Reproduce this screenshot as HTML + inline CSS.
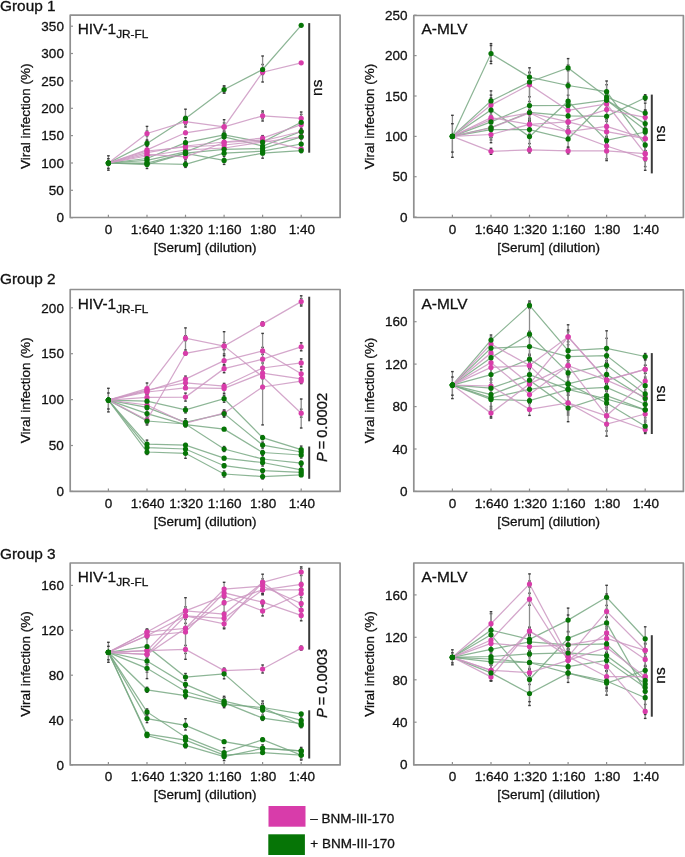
<!DOCTYPE html><html><head><meta charset="utf-8"><style>
html,body{margin:0;padding:0;background:#fff;}
svg{display:block;will-change:transform;}
.t{font-family:"Liberation Sans",sans-serif;font-size:13.5px;fill:#111;stroke:#111;stroke-width:0.3px;}
.h{font-family:"Liberation Sans",sans-serif;font-size:15.4px;fill:#111;stroke:#111;stroke-width:0.3px;}
.s{font-size:11.8px;}
.ns{font-family:"Liberation Sans",sans-serif;font-size:15.5px;fill:#111;stroke:#111;stroke-width:0.3px;}
.pv{font-family:"Liberation Sans",sans-serif;font-size:14.7px;fill:#111;stroke:#111;stroke-width:0.3px;}
</style></head><body><svg width="685" height="857" viewBox="0 0 685 857">
<rect width="685" height="857" fill="#fff"/>
<polyline points="108.4,163.0 147.0,143.4 185.5,118.4 224.1,89.5 262.6,69.5 301.2,25.3" fill="none" stroke="#78a883" stroke-width="1.25" stroke-opacity="0.85"/>
<polyline points="108.4,163.0 147.0,158.5 185.5,142.7 224.1,134.8 262.6,142.0 301.2,122.3" fill="none" stroke="#78a883" stroke-width="1.25" stroke-opacity="0.85"/>
<polyline points="108.4,163.0 147.0,160.4 185.5,151.9 224.1,136.8 262.6,146.0 301.2,131.5" fill="none" stroke="#78a883" stroke-width="1.25" stroke-opacity="0.85"/>
<polyline points="108.4,163.0 147.0,163.0 185.5,153.2 224.1,149.3 262.6,148.6 301.2,136.8" fill="none" stroke="#78a883" stroke-width="1.25" stroke-opacity="0.85"/>
<polyline points="108.4,163.0 147.0,163.5 185.5,164.4 224.1,153.2 262.6,151.2 301.2,144.0" fill="none" stroke="#78a883" stroke-width="1.25" stroke-opacity="0.85"/>
<polyline points="108.4,163.0 147.0,164.5 185.5,153.5 224.1,160.4 262.6,153.2 301.2,150.6" fill="none" stroke="#78a883" stroke-width="1.25" stroke-opacity="0.85"/>
<polyline points="108.4,163.0 147.0,149.9 185.5,132.8 224.1,126.9 262.6,72.2 301.2,62.8" fill="none" stroke="#cc98c2" stroke-width="1.25" stroke-opacity="0.85"/>
<polyline points="108.4,163.0 147.0,133.5 185.5,121.7 224.1,126.9 262.6,115.8 301.2,118.4" fill="none" stroke="#cc98c2" stroke-width="1.25" stroke-opacity="0.85"/>
<polyline points="108.4,163.0 147.0,152.6 185.5,146.0 224.1,142.0 262.6,138.1 301.2,124.7" fill="none" stroke="#cc98c2" stroke-width="1.25" stroke-opacity="0.85"/>
<polyline points="108.4,163.0 147.0,154.5 185.5,156.8 224.1,142.5 262.6,140.0 301.2,148.8" fill="none" stroke="#cc98c2" stroke-width="1.25" stroke-opacity="0.85"/>
<polyline points="108.4,163.0 147.0,151.0 185.5,147.0 224.1,145.0 262.6,141.0 301.2,131.5" fill="none" stroke="#cc98c2" stroke-width="1.25" stroke-opacity="0.85"/>
<polyline points="108.4,163.0 147.0,156.0 185.5,150.0 224.1,148.0 262.6,142.0 301.2,136.8" fill="none" stroke="#cc98c2" stroke-width="1.25" stroke-opacity="0.85"/>
<line x1="147.0" y1="140.9" x2="147.0" y2="145.9" stroke="#8c8c8c" stroke-width="1.3"/>
<line x1="145.7" y1="140.9" x2="148.3" y2="140.9" stroke="#3c3c3c" stroke-width="1.4"/>
<line x1="145.7" y1="145.9" x2="148.3" y2="145.9" stroke="#3c3c3c" stroke-width="1.4"/>
<line x1="185.5" y1="116.4" x2="185.5" y2="120.4" stroke="#8c8c8c" stroke-width="1.3"/>
<line x1="184.2" y1="116.4" x2="186.8" y2="116.4" stroke="#3c3c3c" stroke-width="1.4"/>
<line x1="184.2" y1="120.4" x2="186.8" y2="120.4" stroke="#3c3c3c" stroke-width="1.4"/>
<line x1="224.1" y1="86.0" x2="224.1" y2="93.0" stroke="#8c8c8c" stroke-width="1.3"/>
<line x1="222.8" y1="86.0" x2="225.4" y2="86.0" stroke="#3c3c3c" stroke-width="1.4"/>
<line x1="222.8" y1="93.0" x2="225.4" y2="93.0" stroke="#3c3c3c" stroke-width="1.4"/>
<line x1="262.6" y1="64.5" x2="262.6" y2="74.5" stroke="#8c8c8c" stroke-width="1.3"/>
<line x1="261.3" y1="64.5" x2="263.9" y2="64.5" stroke="#3c3c3c" stroke-width="1.4"/>
<line x1="261.3" y1="74.5" x2="263.9" y2="74.5" stroke="#3c3c3c" stroke-width="1.4"/>
<line x1="147.0" y1="157.5" x2="147.0" y2="159.5" stroke="#8c8c8c" stroke-width="1.3"/>
<line x1="145.7" y1="157.5" x2="148.3" y2="157.5" stroke="#3c3c3c" stroke-width="1.4"/>
<line x1="145.7" y1="159.5" x2="148.3" y2="159.5" stroke="#3c3c3c" stroke-width="1.4"/>
<line x1="185.5" y1="137.7" x2="185.5" y2="147.7" stroke="#8c8c8c" stroke-width="1.3"/>
<line x1="184.2" y1="137.7" x2="186.8" y2="137.7" stroke="#3c3c3c" stroke-width="1.4"/>
<line x1="184.2" y1="147.7" x2="186.8" y2="147.7" stroke="#3c3c3c" stroke-width="1.4"/>
<line x1="224.1" y1="131.8" x2="224.1" y2="137.8" stroke="#8c8c8c" stroke-width="1.3"/>
<line x1="222.8" y1="131.8" x2="225.4" y2="131.8" stroke="#3c3c3c" stroke-width="1.4"/>
<line x1="222.8" y1="137.8" x2="225.4" y2="137.8" stroke="#3c3c3c" stroke-width="1.4"/>
<line x1="262.6" y1="139.5" x2="262.6" y2="144.5" stroke="#8c8c8c" stroke-width="1.3"/>
<line x1="261.3" y1="139.5" x2="263.9" y2="139.5" stroke="#3c3c3c" stroke-width="1.4"/>
<line x1="261.3" y1="144.5" x2="263.9" y2="144.5" stroke="#3c3c3c" stroke-width="1.4"/>
<line x1="301.2" y1="119.8" x2="301.2" y2="124.8" stroke="#8c8c8c" stroke-width="1.3"/>
<line x1="299.9" y1="119.8" x2="302.5" y2="119.8" stroke="#3c3c3c" stroke-width="1.4"/>
<line x1="299.9" y1="124.8" x2="302.5" y2="124.8" stroke="#3c3c3c" stroke-width="1.4"/>
<line x1="147.0" y1="155.4" x2="147.0" y2="165.4" stroke="#8c8c8c" stroke-width="1.3"/>
<line x1="145.7" y1="155.4" x2="148.3" y2="155.4" stroke="#3c3c3c" stroke-width="1.4"/>
<line x1="145.7" y1="165.4" x2="148.3" y2="165.4" stroke="#3c3c3c" stroke-width="1.4"/>
<line x1="185.5" y1="146.9" x2="185.5" y2="156.9" stroke="#8c8c8c" stroke-width="1.3"/>
<line x1="184.2" y1="146.9" x2="186.8" y2="146.9" stroke="#3c3c3c" stroke-width="1.4"/>
<line x1="184.2" y1="156.9" x2="186.8" y2="156.9" stroke="#3c3c3c" stroke-width="1.4"/>
<line x1="224.1" y1="132.8" x2="224.1" y2="140.8" stroke="#8c8c8c" stroke-width="1.3"/>
<line x1="222.8" y1="132.8" x2="225.4" y2="132.8" stroke="#3c3c3c" stroke-width="1.4"/>
<line x1="222.8" y1="140.8" x2="225.4" y2="140.8" stroke="#3c3c3c" stroke-width="1.4"/>
<line x1="262.6" y1="144.0" x2="262.6" y2="148.0" stroke="#8c8c8c" stroke-width="1.3"/>
<line x1="261.3" y1="144.0" x2="263.9" y2="144.0" stroke="#3c3c3c" stroke-width="1.4"/>
<line x1="261.3" y1="148.0" x2="263.9" y2="148.0" stroke="#3c3c3c" stroke-width="1.4"/>
<line x1="301.2" y1="129.0" x2="301.2" y2="134.0" stroke="#8c8c8c" stroke-width="1.3"/>
<line x1="299.9" y1="129.0" x2="302.5" y2="129.0" stroke="#3c3c3c" stroke-width="1.4"/>
<line x1="299.9" y1="134.0" x2="302.5" y2="134.0" stroke="#3c3c3c" stroke-width="1.4"/>
<line x1="147.0" y1="161.0" x2="147.0" y2="165.0" stroke="#8c8c8c" stroke-width="1.3"/>
<line x1="145.7" y1="161.0" x2="148.3" y2="161.0" stroke="#3c3c3c" stroke-width="1.4"/>
<line x1="145.7" y1="165.0" x2="148.3" y2="165.0" stroke="#3c3c3c" stroke-width="1.4"/>
<line x1="185.5" y1="149.2" x2="185.5" y2="157.2" stroke="#8c8c8c" stroke-width="1.3"/>
<line x1="184.2" y1="149.2" x2="186.8" y2="149.2" stroke="#3c3c3c" stroke-width="1.4"/>
<line x1="184.2" y1="157.2" x2="186.8" y2="157.2" stroke="#3c3c3c" stroke-width="1.4"/>
<line x1="224.1" y1="148.3" x2="224.1" y2="150.3" stroke="#8c8c8c" stroke-width="1.3"/>
<line x1="222.8" y1="148.3" x2="225.4" y2="148.3" stroke="#3c3c3c" stroke-width="1.4"/>
<line x1="222.8" y1="150.3" x2="225.4" y2="150.3" stroke="#3c3c3c" stroke-width="1.4"/>
<line x1="262.6" y1="147.1" x2="262.6" y2="150.1" stroke="#8c8c8c" stroke-width="1.3"/>
<line x1="261.3" y1="147.1" x2="263.9" y2="147.1" stroke="#3c3c3c" stroke-width="1.4"/>
<line x1="261.3" y1="150.1" x2="263.9" y2="150.1" stroke="#3c3c3c" stroke-width="1.4"/>
<line x1="301.2" y1="134.8" x2="301.2" y2="138.8" stroke="#8c8c8c" stroke-width="1.3"/>
<line x1="299.9" y1="134.8" x2="302.5" y2="134.8" stroke="#3c3c3c" stroke-width="1.4"/>
<line x1="299.9" y1="138.8" x2="302.5" y2="138.8" stroke="#3c3c3c" stroke-width="1.4"/>
<line x1="147.0" y1="162.5" x2="147.0" y2="164.5" stroke="#8c8c8c" stroke-width="1.3"/>
<line x1="145.7" y1="162.5" x2="148.3" y2="162.5" stroke="#3c3c3c" stroke-width="1.4"/>
<line x1="145.7" y1="164.5" x2="148.3" y2="164.5" stroke="#3c3c3c" stroke-width="1.4"/>
<line x1="185.5" y1="161.4" x2="185.5" y2="167.4" stroke="#8c8c8c" stroke-width="1.3"/>
<line x1="184.2" y1="161.4" x2="186.8" y2="161.4" stroke="#3c3c3c" stroke-width="1.4"/>
<line x1="184.2" y1="167.4" x2="186.8" y2="167.4" stroke="#3c3c3c" stroke-width="1.4"/>
<line x1="224.1" y1="152.2" x2="224.1" y2="154.2" stroke="#8c8c8c" stroke-width="1.3"/>
<line x1="222.8" y1="152.2" x2="225.4" y2="152.2" stroke="#3c3c3c" stroke-width="1.4"/>
<line x1="222.8" y1="154.2" x2="225.4" y2="154.2" stroke="#3c3c3c" stroke-width="1.4"/>
<line x1="262.6" y1="148.2" x2="262.6" y2="154.2" stroke="#8c8c8c" stroke-width="1.3"/>
<line x1="261.3" y1="148.2" x2="263.9" y2="148.2" stroke="#3c3c3c" stroke-width="1.4"/>
<line x1="261.3" y1="154.2" x2="263.9" y2="154.2" stroke="#3c3c3c" stroke-width="1.4"/>
<line x1="301.2" y1="139.0" x2="301.2" y2="149.0" stroke="#8c8c8c" stroke-width="1.3"/>
<line x1="299.9" y1="139.0" x2="302.5" y2="139.0" stroke="#3c3c3c" stroke-width="1.4"/>
<line x1="299.9" y1="149.0" x2="302.5" y2="149.0" stroke="#3c3c3c" stroke-width="1.4"/>
<line x1="147.0" y1="160.5" x2="147.0" y2="168.5" stroke="#8c8c8c" stroke-width="1.3"/>
<line x1="145.7" y1="160.5" x2="148.3" y2="160.5" stroke="#3c3c3c" stroke-width="1.4"/>
<line x1="145.7" y1="168.5" x2="148.3" y2="168.5" stroke="#3c3c3c" stroke-width="1.4"/>
<line x1="185.5" y1="149.5" x2="185.5" y2="157.5" stroke="#8c8c8c" stroke-width="1.3"/>
<line x1="184.2" y1="149.5" x2="186.8" y2="149.5" stroke="#3c3c3c" stroke-width="1.4"/>
<line x1="184.2" y1="157.5" x2="186.8" y2="157.5" stroke="#3c3c3c" stroke-width="1.4"/>
<line x1="224.1" y1="156.4" x2="224.1" y2="164.4" stroke="#8c8c8c" stroke-width="1.3"/>
<line x1="222.8" y1="156.4" x2="225.4" y2="156.4" stroke="#3c3c3c" stroke-width="1.4"/>
<line x1="222.8" y1="164.4" x2="225.4" y2="164.4" stroke="#3c3c3c" stroke-width="1.4"/>
<line x1="262.6" y1="148.2" x2="262.6" y2="158.2" stroke="#8c8c8c" stroke-width="1.3"/>
<line x1="261.3" y1="148.2" x2="263.9" y2="148.2" stroke="#3c3c3c" stroke-width="1.4"/>
<line x1="261.3" y1="158.2" x2="263.9" y2="158.2" stroke="#3c3c3c" stroke-width="1.4"/>
<line x1="301.2" y1="148.6" x2="301.2" y2="152.6" stroke="#8c8c8c" stroke-width="1.3"/>
<line x1="299.9" y1="148.6" x2="302.5" y2="148.6" stroke="#3c3c3c" stroke-width="1.4"/>
<line x1="299.9" y1="152.6" x2="302.5" y2="152.6" stroke="#3c3c3c" stroke-width="1.4"/>
<line x1="147.0" y1="146.4" x2="147.0" y2="153.4" stroke="#8c8c8c" stroke-width="1.3"/>
<line x1="145.7" y1="146.4" x2="148.3" y2="146.4" stroke="#3c3c3c" stroke-width="1.4"/>
<line x1="145.7" y1="153.4" x2="148.3" y2="153.4" stroke="#3c3c3c" stroke-width="1.4"/>
<line x1="185.5" y1="131.3" x2="185.5" y2="134.3" stroke="#8c8c8c" stroke-width="1.3"/>
<line x1="184.2" y1="131.3" x2="186.8" y2="131.3" stroke="#3c3c3c" stroke-width="1.4"/>
<line x1="184.2" y1="134.3" x2="186.8" y2="134.3" stroke="#3c3c3c" stroke-width="1.4"/>
<line x1="224.1" y1="125.9" x2="224.1" y2="127.9" stroke="#8c8c8c" stroke-width="1.3"/>
<line x1="222.8" y1="125.9" x2="225.4" y2="125.9" stroke="#3c3c3c" stroke-width="1.4"/>
<line x1="222.8" y1="127.9" x2="225.4" y2="127.9" stroke="#3c3c3c" stroke-width="1.4"/>
<line x1="262.6" y1="70.2" x2="262.6" y2="74.2" stroke="#8c8c8c" stroke-width="1.3"/>
<line x1="261.3" y1="70.2" x2="263.9" y2="70.2" stroke="#3c3c3c" stroke-width="1.4"/>
<line x1="261.3" y1="74.2" x2="263.9" y2="74.2" stroke="#3c3c3c" stroke-width="1.4"/>
<line x1="147.0" y1="131.0" x2="147.0" y2="136.0" stroke="#8c8c8c" stroke-width="1.3"/>
<line x1="145.7" y1="131.0" x2="148.3" y2="131.0" stroke="#3c3c3c" stroke-width="1.4"/>
<line x1="145.7" y1="136.0" x2="148.3" y2="136.0" stroke="#3c3c3c" stroke-width="1.4"/>
<line x1="185.5" y1="118.7" x2="185.5" y2="124.7" stroke="#8c8c8c" stroke-width="1.3"/>
<line x1="184.2" y1="118.7" x2="186.8" y2="118.7" stroke="#3c3c3c" stroke-width="1.4"/>
<line x1="184.2" y1="124.7" x2="186.8" y2="124.7" stroke="#3c3c3c" stroke-width="1.4"/>
<line x1="224.1" y1="122.9" x2="224.1" y2="130.9" stroke="#8c8c8c" stroke-width="1.3"/>
<line x1="222.8" y1="122.9" x2="225.4" y2="122.9" stroke="#3c3c3c" stroke-width="1.4"/>
<line x1="222.8" y1="130.9" x2="225.4" y2="130.9" stroke="#3c3c3c" stroke-width="1.4"/>
<line x1="262.6" y1="112.8" x2="262.6" y2="118.8" stroke="#8c8c8c" stroke-width="1.3"/>
<line x1="261.3" y1="112.8" x2="263.9" y2="112.8" stroke="#3c3c3c" stroke-width="1.4"/>
<line x1="261.3" y1="118.8" x2="263.9" y2="118.8" stroke="#3c3c3c" stroke-width="1.4"/>
<line x1="301.2" y1="114.4" x2="301.2" y2="122.4" stroke="#8c8c8c" stroke-width="1.3"/>
<line x1="299.9" y1="114.4" x2="302.5" y2="114.4" stroke="#3c3c3c" stroke-width="1.4"/>
<line x1="299.9" y1="122.4" x2="302.5" y2="122.4" stroke="#3c3c3c" stroke-width="1.4"/>
<line x1="147.0" y1="148.6" x2="147.0" y2="156.6" stroke="#8c8c8c" stroke-width="1.3"/>
<line x1="145.7" y1="148.6" x2="148.3" y2="148.6" stroke="#3c3c3c" stroke-width="1.4"/>
<line x1="145.7" y1="156.6" x2="148.3" y2="156.6" stroke="#3c3c3c" stroke-width="1.4"/>
<line x1="185.5" y1="142.5" x2="185.5" y2="149.5" stroke="#8c8c8c" stroke-width="1.3"/>
<line x1="184.2" y1="142.5" x2="186.8" y2="142.5" stroke="#3c3c3c" stroke-width="1.4"/>
<line x1="184.2" y1="149.5" x2="186.8" y2="149.5" stroke="#3c3c3c" stroke-width="1.4"/>
<line x1="224.1" y1="138.0" x2="224.1" y2="146.0" stroke="#8c8c8c" stroke-width="1.3"/>
<line x1="222.8" y1="138.0" x2="225.4" y2="138.0" stroke="#3c3c3c" stroke-width="1.4"/>
<line x1="222.8" y1="146.0" x2="225.4" y2="146.0" stroke="#3c3c3c" stroke-width="1.4"/>
<line x1="262.6" y1="135.6" x2="262.6" y2="140.6" stroke="#8c8c8c" stroke-width="1.3"/>
<line x1="261.3" y1="135.6" x2="263.9" y2="135.6" stroke="#3c3c3c" stroke-width="1.4"/>
<line x1="261.3" y1="140.6" x2="263.9" y2="140.6" stroke="#3c3c3c" stroke-width="1.4"/>
<line x1="301.2" y1="121.2" x2="301.2" y2="128.2" stroke="#8c8c8c" stroke-width="1.3"/>
<line x1="299.9" y1="121.2" x2="302.5" y2="121.2" stroke="#3c3c3c" stroke-width="1.4"/>
<line x1="299.9" y1="128.2" x2="302.5" y2="128.2" stroke="#3c3c3c" stroke-width="1.4"/>
<line x1="147.0" y1="153.5" x2="147.0" y2="155.5" stroke="#8c8c8c" stroke-width="1.3"/>
<line x1="145.7" y1="153.5" x2="148.3" y2="153.5" stroke="#3c3c3c" stroke-width="1.4"/>
<line x1="145.7" y1="155.5" x2="148.3" y2="155.5" stroke="#3c3c3c" stroke-width="1.4"/>
<line x1="185.5" y1="153.8" x2="185.5" y2="159.8" stroke="#8c8c8c" stroke-width="1.3"/>
<line x1="184.2" y1="153.8" x2="186.8" y2="153.8" stroke="#3c3c3c" stroke-width="1.4"/>
<line x1="184.2" y1="159.8" x2="186.8" y2="159.8" stroke="#3c3c3c" stroke-width="1.4"/>
<line x1="224.1" y1="140.5" x2="224.1" y2="144.5" stroke="#8c8c8c" stroke-width="1.3"/>
<line x1="222.8" y1="140.5" x2="225.4" y2="140.5" stroke="#3c3c3c" stroke-width="1.4"/>
<line x1="222.8" y1="144.5" x2="225.4" y2="144.5" stroke="#3c3c3c" stroke-width="1.4"/>
<line x1="262.6" y1="136.5" x2="262.6" y2="143.5" stroke="#8c8c8c" stroke-width="1.3"/>
<line x1="261.3" y1="136.5" x2="263.9" y2="136.5" stroke="#3c3c3c" stroke-width="1.4"/>
<line x1="261.3" y1="143.5" x2="263.9" y2="143.5" stroke="#3c3c3c" stroke-width="1.4"/>
<line x1="301.2" y1="147.3" x2="301.2" y2="150.3" stroke="#8c8c8c" stroke-width="1.3"/>
<line x1="299.9" y1="147.3" x2="302.5" y2="147.3" stroke="#3c3c3c" stroke-width="1.4"/>
<line x1="299.9" y1="150.3" x2="302.5" y2="150.3" stroke="#3c3c3c" stroke-width="1.4"/>
<line x1="147.0" y1="148.5" x2="147.0" y2="153.5" stroke="#8c8c8c" stroke-width="1.3"/>
<line x1="145.7" y1="148.5" x2="148.3" y2="148.5" stroke="#3c3c3c" stroke-width="1.4"/>
<line x1="145.7" y1="153.5" x2="148.3" y2="153.5" stroke="#3c3c3c" stroke-width="1.4"/>
<line x1="185.5" y1="144.0" x2="185.5" y2="150.0" stroke="#8c8c8c" stroke-width="1.3"/>
<line x1="184.2" y1="144.0" x2="186.8" y2="144.0" stroke="#3c3c3c" stroke-width="1.4"/>
<line x1="184.2" y1="150.0" x2="186.8" y2="150.0" stroke="#3c3c3c" stroke-width="1.4"/>
<line x1="224.1" y1="142.0" x2="224.1" y2="148.0" stroke="#8c8c8c" stroke-width="1.3"/>
<line x1="222.8" y1="142.0" x2="225.4" y2="142.0" stroke="#3c3c3c" stroke-width="1.4"/>
<line x1="222.8" y1="148.0" x2="225.4" y2="148.0" stroke="#3c3c3c" stroke-width="1.4"/>
<line x1="262.6" y1="139.5" x2="262.6" y2="142.5" stroke="#8c8c8c" stroke-width="1.3"/>
<line x1="261.3" y1="139.5" x2="263.9" y2="139.5" stroke="#3c3c3c" stroke-width="1.4"/>
<line x1="261.3" y1="142.5" x2="263.9" y2="142.5" stroke="#3c3c3c" stroke-width="1.4"/>
<line x1="301.2" y1="130.0" x2="301.2" y2="133.0" stroke="#8c8c8c" stroke-width="1.3"/>
<line x1="299.9" y1="130.0" x2="302.5" y2="130.0" stroke="#3c3c3c" stroke-width="1.4"/>
<line x1="299.9" y1="133.0" x2="302.5" y2="133.0" stroke="#3c3c3c" stroke-width="1.4"/>
<line x1="147.0" y1="151.0" x2="147.0" y2="161.0" stroke="#8c8c8c" stroke-width="1.3"/>
<line x1="145.7" y1="151.0" x2="148.3" y2="151.0" stroke="#3c3c3c" stroke-width="1.4"/>
<line x1="145.7" y1="161.0" x2="148.3" y2="161.0" stroke="#3c3c3c" stroke-width="1.4"/>
<line x1="185.5" y1="145.0" x2="185.5" y2="155.0" stroke="#8c8c8c" stroke-width="1.3"/>
<line x1="184.2" y1="145.0" x2="186.8" y2="145.0" stroke="#3c3c3c" stroke-width="1.4"/>
<line x1="184.2" y1="155.0" x2="186.8" y2="155.0" stroke="#3c3c3c" stroke-width="1.4"/>
<line x1="224.1" y1="146.5" x2="224.1" y2="149.5" stroke="#8c8c8c" stroke-width="1.3"/>
<line x1="222.8" y1="146.5" x2="225.4" y2="146.5" stroke="#3c3c3c" stroke-width="1.4"/>
<line x1="222.8" y1="149.5" x2="225.4" y2="149.5" stroke="#3c3c3c" stroke-width="1.4"/>
<line x1="262.6" y1="138.5" x2="262.6" y2="145.5" stroke="#8c8c8c" stroke-width="1.3"/>
<line x1="261.3" y1="138.5" x2="263.9" y2="138.5" stroke="#3c3c3c" stroke-width="1.4"/>
<line x1="261.3" y1="145.5" x2="263.9" y2="145.5" stroke="#3c3c3c" stroke-width="1.4"/>
<line x1="301.2" y1="135.3" x2="301.2" y2="138.3" stroke="#8c8c8c" stroke-width="1.3"/>
<line x1="299.9" y1="135.3" x2="302.5" y2="135.3" stroke="#3c3c3c" stroke-width="1.4"/>
<line x1="299.9" y1="138.3" x2="302.5" y2="138.3" stroke="#3c3c3c" stroke-width="1.4"/>
<line x1="262.6" y1="56.0" x2="262.6" y2="82.0" stroke="#8c8c8c" stroke-width="1.3"/>
<line x1="261.3" y1="56.0" x2="263.9" y2="56.0" stroke="#3c3c3c" stroke-width="1.4"/>
<line x1="261.3" y1="82.0" x2="263.9" y2="82.0" stroke="#3c3c3c" stroke-width="1.4"/>
<line x1="147.0" y1="126.4" x2="147.0" y2="140.0" stroke="#8c8c8c" stroke-width="1.3"/>
<line x1="145.7" y1="126.4" x2="148.3" y2="126.4" stroke="#3c3c3c" stroke-width="1.4"/>
<line x1="145.7" y1="140.0" x2="148.3" y2="140.0" stroke="#3c3c3c" stroke-width="1.4"/>
<line x1="185.5" y1="109.2" x2="185.5" y2="127.0" stroke="#8c8c8c" stroke-width="1.3"/>
<line x1="184.2" y1="109.2" x2="186.8" y2="109.2" stroke="#3c3c3c" stroke-width="1.4"/>
<line x1="184.2" y1="127.0" x2="186.8" y2="127.0" stroke="#3c3c3c" stroke-width="1.4"/>
<line x1="224.1" y1="119.7" x2="224.1" y2="134.0" stroke="#8c8c8c" stroke-width="1.3"/>
<line x1="222.8" y1="119.7" x2="225.4" y2="119.7" stroke="#3c3c3c" stroke-width="1.4"/>
<line x1="222.8" y1="134.0" x2="225.4" y2="134.0" stroke="#3c3c3c" stroke-width="1.4"/>
<line x1="262.6" y1="111.0" x2="262.6" y2="121.0" stroke="#8c8c8c" stroke-width="1.3"/>
<line x1="261.3" y1="111.0" x2="263.9" y2="111.0" stroke="#3c3c3c" stroke-width="1.4"/>
<line x1="261.3" y1="121.0" x2="263.9" y2="121.0" stroke="#3c3c3c" stroke-width="1.4"/>
<line x1="301.2" y1="112.0" x2="301.2" y2="125.0" stroke="#8c8c8c" stroke-width="1.3"/>
<line x1="299.9" y1="112.0" x2="302.5" y2="112.0" stroke="#3c3c3c" stroke-width="1.4"/>
<line x1="299.9" y1="125.0" x2="302.5" y2="125.0" stroke="#3c3c3c" stroke-width="1.4"/>
<line x1="224.1" y1="86.0" x2="224.1" y2="93.0" stroke="#8c8c8c" stroke-width="1.3"/>
<line x1="222.8" y1="86.0" x2="225.4" y2="86.0" stroke="#3c3c3c" stroke-width="1.4"/>
<line x1="222.8" y1="93.0" x2="225.4" y2="93.0" stroke="#3c3c3c" stroke-width="1.4"/>
<line x1="108.4" y1="155.8" x2="108.4" y2="170.2" stroke="#8c8c8c" stroke-width="1.3"/>
<line x1="107.1" y1="155.8" x2="109.7" y2="155.8" stroke="#3c3c3c" stroke-width="1.4"/>
<line x1="107.1" y1="170.2" x2="109.7" y2="170.2" stroke="#3c3c3c" stroke-width="1.4"/>
<line x1="108.4" y1="158.7" x2="108.4" y2="168.4" stroke="#8c8c8c" stroke-width="1.3"/>
<line x1="107.1" y1="158.7" x2="109.7" y2="158.7" stroke="#3c3c3c" stroke-width="1.4"/>
<line x1="107.1" y1="168.4" x2="109.7" y2="168.4" stroke="#3c3c3c" stroke-width="1.4"/>
<circle cx="147.0" cy="149.9" r="2.6" fill="#d83caa"/>
<circle cx="185.5" cy="132.8" r="2.6" fill="#d83caa"/>
<circle cx="224.1" cy="126.9" r="2.6" fill="#d83caa"/>
<circle cx="262.6" cy="72.2" r="2.6" fill="#d83caa"/>
<circle cx="301.2" cy="62.8" r="2.6" fill="#d83caa"/>
<circle cx="147.0" cy="133.5" r="2.6" fill="#d83caa"/>
<circle cx="185.5" cy="121.7" r="2.6" fill="#d83caa"/>
<circle cx="224.1" cy="126.9" r="2.6" fill="#d83caa"/>
<circle cx="262.6" cy="115.8" r="2.6" fill="#d83caa"/>
<circle cx="301.2" cy="118.4" r="2.6" fill="#d83caa"/>
<circle cx="147.0" cy="152.6" r="2.6" fill="#d83caa"/>
<circle cx="185.5" cy="146.0" r="2.6" fill="#d83caa"/>
<circle cx="224.1" cy="142.0" r="2.6" fill="#d83caa"/>
<circle cx="262.6" cy="138.1" r="2.6" fill="#d83caa"/>
<circle cx="301.2" cy="124.7" r="2.6" fill="#d83caa"/>
<circle cx="147.0" cy="154.5" r="2.6" fill="#d83caa"/>
<circle cx="185.5" cy="156.8" r="2.6" fill="#d83caa"/>
<circle cx="224.1" cy="142.5" r="2.6" fill="#d83caa"/>
<circle cx="262.6" cy="140.0" r="2.6" fill="#d83caa"/>
<circle cx="301.2" cy="148.8" r="2.6" fill="#d83caa"/>
<circle cx="147.0" cy="151.0" r="2.6" fill="#d83caa"/>
<circle cx="185.5" cy="147.0" r="2.6" fill="#d83caa"/>
<circle cx="224.1" cy="145.0" r="2.6" fill="#d83caa"/>
<circle cx="262.6" cy="141.0" r="2.6" fill="#d83caa"/>
<circle cx="301.2" cy="131.5" r="2.6" fill="#d83caa"/>
<circle cx="147.0" cy="156.0" r="2.6" fill="#d83caa"/>
<circle cx="185.5" cy="150.0" r="2.6" fill="#d83caa"/>
<circle cx="224.1" cy="148.0" r="2.6" fill="#d83caa"/>
<circle cx="262.6" cy="142.0" r="2.6" fill="#d83caa"/>
<circle cx="301.2" cy="136.8" r="2.6" fill="#d83caa"/>
<circle cx="108.4" cy="163.0" r="2.6" fill="#067506"/>
<circle cx="147.0" cy="143.4" r="2.6" fill="#067506"/>
<circle cx="185.5" cy="118.4" r="2.6" fill="#067506"/>
<circle cx="224.1" cy="89.5" r="2.6" fill="#067506"/>
<circle cx="262.6" cy="69.5" r="2.6" fill="#067506"/>
<circle cx="301.2" cy="25.3" r="2.6" fill="#067506"/>
<circle cx="108.4" cy="163.0" r="2.6" fill="#067506"/>
<circle cx="147.0" cy="158.5" r="2.6" fill="#067506"/>
<circle cx="185.5" cy="142.7" r="2.6" fill="#067506"/>
<circle cx="224.1" cy="134.8" r="2.6" fill="#067506"/>
<circle cx="262.6" cy="142.0" r="2.6" fill="#067506"/>
<circle cx="301.2" cy="122.3" r="2.6" fill="#067506"/>
<circle cx="108.4" cy="163.0" r="2.6" fill="#067506"/>
<circle cx="147.0" cy="160.4" r="2.6" fill="#067506"/>
<circle cx="185.5" cy="151.9" r="2.6" fill="#067506"/>
<circle cx="224.1" cy="136.8" r="2.6" fill="#067506"/>
<circle cx="262.6" cy="146.0" r="2.6" fill="#067506"/>
<circle cx="301.2" cy="131.5" r="2.6" fill="#067506"/>
<circle cx="108.4" cy="163.0" r="2.6" fill="#067506"/>
<circle cx="147.0" cy="163.0" r="2.6" fill="#067506"/>
<circle cx="185.5" cy="153.2" r="2.6" fill="#067506"/>
<circle cx="224.1" cy="149.3" r="2.6" fill="#067506"/>
<circle cx="262.6" cy="148.6" r="2.6" fill="#067506"/>
<circle cx="301.2" cy="136.8" r="2.6" fill="#067506"/>
<circle cx="108.4" cy="163.0" r="2.6" fill="#067506"/>
<circle cx="147.0" cy="163.5" r="2.6" fill="#067506"/>
<circle cx="185.5" cy="164.4" r="2.6" fill="#067506"/>
<circle cx="224.1" cy="153.2" r="2.6" fill="#067506"/>
<circle cx="262.6" cy="151.2" r="2.6" fill="#067506"/>
<circle cx="301.2" cy="144.0" r="2.6" fill="#067506"/>
<circle cx="108.4" cy="163.0" r="2.6" fill="#067506"/>
<circle cx="147.0" cy="164.5" r="2.6" fill="#067506"/>
<circle cx="185.5" cy="153.5" r="2.6" fill="#067506"/>
<circle cx="224.1" cy="160.4" r="2.6" fill="#067506"/>
<circle cx="262.6" cy="153.2" r="2.6" fill="#067506"/>
<circle cx="301.2" cy="150.6" r="2.6" fill="#067506"/>
<rect x="70.2" y="15.2" width="269.9" height="202.3" fill="none" stroke="#909090" stroke-width="1.7" stroke-linejoin="round"/>
<line x1="70.2" y1="217.7" x2="73.0" y2="217.7" stroke="#909090" stroke-width="1.2"/>
<text x="63.9" y="222.4" text-anchor="end" class="t">0</text>
<line x1="70.2" y1="190.3" x2="73.0" y2="190.3" stroke="#909090" stroke-width="1.2"/>
<text x="63.9" y="195.0" text-anchor="end" class="t">50</text>
<line x1="70.2" y1="163.0" x2="73.0" y2="163.0" stroke="#909090" stroke-width="1.2"/>
<text x="63.9" y="167.7" text-anchor="end" class="t">100</text>
<line x1="70.2" y1="135.6" x2="73.0" y2="135.6" stroke="#909090" stroke-width="1.2"/>
<text x="63.9" y="140.3" text-anchor="end" class="t">150</text>
<line x1="70.2" y1="108.3" x2="73.0" y2="108.3" stroke="#909090" stroke-width="1.2"/>
<text x="63.9" y="113.0" text-anchor="end" class="t">200</text>
<line x1="70.2" y1="80.9" x2="73.0" y2="80.9" stroke="#909090" stroke-width="1.2"/>
<text x="63.9" y="85.6" text-anchor="end" class="t">250</text>
<line x1="70.2" y1="53.5" x2="73.0" y2="53.5" stroke="#909090" stroke-width="1.2"/>
<text x="63.9" y="58.2" text-anchor="end" class="t">300</text>
<line x1="70.2" y1="26.2" x2="73.0" y2="26.2" stroke="#909090" stroke-width="1.2"/>
<text x="63.9" y="30.9" text-anchor="end" class="t">350</text>
<line x1="108.4" y1="217.5" x2="108.4" y2="214.7" stroke="#909090" stroke-width="1.2"/>
<text x="108.4" y="233.8" text-anchor="middle" class="t">0</text>
<line x1="147.0" y1="217.5" x2="147.0" y2="214.7" stroke="#909090" stroke-width="1.2"/>
<text x="147.6" y="233.8" text-anchor="middle" class="t">1:640</text>
<line x1="185.5" y1="217.5" x2="185.5" y2="214.7" stroke="#909090" stroke-width="1.2"/>
<text x="186.1" y="233.8" text-anchor="middle" class="t">1:320</text>
<line x1="224.1" y1="217.5" x2="224.1" y2="214.7" stroke="#909090" stroke-width="1.2"/>
<text x="224.7" y="233.8" text-anchor="middle" class="t">1:160</text>
<line x1="262.6" y1="217.5" x2="262.6" y2="214.7" stroke="#909090" stroke-width="1.2"/>
<text x="263.2" y="233.8" text-anchor="middle" class="t">1:80</text>
<line x1="301.2" y1="217.5" x2="301.2" y2="214.7" stroke="#909090" stroke-width="1.2"/>
<text x="301.8" y="233.8" text-anchor="middle" class="t">1:40</text>
<text x="205.2" y="252.0" text-anchor="middle" class="t">[Serum] (dilution)</text>
<text transform="translate(29.9,116.3) rotate(-90)" x="0" y="0" text-anchor="middle" class="t">Viral infection (%)</text>
<text x="77.7" y="34.2" class="h">HIV-1<tspan class="s" dy="4.2">JR-FL</tspan></text>
<line x1="309.2" y1="23.1" x2="309.2" y2="152.7" stroke="#3a3a3a" stroke-width="2"/>
<text transform="translate(322.0,87.7) rotate(-90)" text-anchor="middle" class="ns">ns</text>
<polyline points="452.4,136.3 491.0,53.6 529.5,77.1 568.1,85.5 606.6,91.7 645.2,144.9" fill="none" stroke="#78a883" stroke-width="1.25" stroke-opacity="0.85"/>
<polyline points="452.4,136.3 491.0,100.9 529.5,82.0 568.1,67.9 606.6,97.0 645.2,113.1" fill="none" stroke="#78a883" stroke-width="1.25" stroke-opacity="0.85"/>
<polyline points="452.4,136.3 491.0,110.0 529.5,136.6 568.1,101.2 606.6,140.4 645.2,132.0" fill="none" stroke="#78a883" stroke-width="1.25" stroke-opacity="0.85"/>
<polyline points="452.4,136.3 491.0,121.9 529.5,105.5 568.1,105.4 606.6,100.1 645.2,123.6" fill="none" stroke="#78a883" stroke-width="1.25" stroke-opacity="0.85"/>
<polyline points="452.4,136.3 491.0,127.5 529.5,112.5 568.1,115.9 606.6,116.3 645.2,97.7" fill="none" stroke="#78a883" stroke-width="1.25" stroke-opacity="0.85"/>
<polyline points="452.4,136.3 491.0,129.6 529.5,129.6 568.1,139.0 606.6,100.1 645.2,129.9" fill="none" stroke="#78a883" stroke-width="1.25" stroke-opacity="0.85"/>
<polyline points="452.4,136.3 491.0,105.1 529.5,84.8 568.1,110.3 606.6,104.0 645.2,153.7" fill="none" stroke="#cc98c2" stroke-width="1.25" stroke-opacity="0.85"/>
<polyline points="452.4,136.3 491.0,117.7 529.5,124.3 568.1,121.9 606.6,109.6 645.2,117.3" fill="none" stroke="#cc98c2" stroke-width="1.25" stroke-opacity="0.85"/>
<polyline points="452.4,136.3 491.0,119.6 529.5,112.8 568.1,131.7 606.6,126.4 645.2,138.7" fill="none" stroke="#cc98c2" stroke-width="1.25" stroke-opacity="0.85"/>
<polyline points="452.4,136.3 491.0,134.5 529.5,124.3 568.1,131.7 606.6,146.0 645.2,158.6" fill="none" stroke="#cc98c2" stroke-width="1.25" stroke-opacity="0.85"/>
<polyline points="452.4,136.3 491.0,128.0 529.5,112.8 568.1,121.9 606.6,131.7 645.2,138.7" fill="none" stroke="#cc98c2" stroke-width="1.25" stroke-opacity="0.85"/>
<polyline points="452.4,136.3 491.0,151.3 529.5,149.9 568.1,150.9 606.6,150.9 645.2,153.7" fill="none" stroke="#cc98c2" stroke-width="1.25" stroke-opacity="0.85"/>
<line x1="491.0" y1="43.6" x2="491.0" y2="63.6" stroke="#8c8c8c" stroke-width="1.3"/>
<line x1="489.7" y1="43.6" x2="492.3" y2="43.6" stroke="#3c3c3c" stroke-width="1.4"/>
<line x1="489.7" y1="63.6" x2="492.3" y2="63.6" stroke="#3c3c3c" stroke-width="1.4"/>
<line x1="529.5" y1="72.1" x2="529.5" y2="82.1" stroke="#8c8c8c" stroke-width="1.3"/>
<line x1="528.2" y1="72.1" x2="530.8" y2="72.1" stroke="#3c3c3c" stroke-width="1.4"/>
<line x1="528.2" y1="82.1" x2="530.8" y2="82.1" stroke="#3c3c3c" stroke-width="1.4"/>
<line x1="568.1" y1="82.5" x2="568.1" y2="88.5" stroke="#8c8c8c" stroke-width="1.3"/>
<line x1="566.8" y1="82.5" x2="569.4" y2="82.5" stroke="#3c3c3c" stroke-width="1.4"/>
<line x1="566.8" y1="88.5" x2="569.4" y2="88.5" stroke="#3c3c3c" stroke-width="1.4"/>
<line x1="606.6" y1="84.7" x2="606.6" y2="98.7" stroke="#8c8c8c" stroke-width="1.3"/>
<line x1="605.3" y1="84.7" x2="607.9" y2="84.7" stroke="#3c3c3c" stroke-width="1.4"/>
<line x1="605.3" y1="98.7" x2="607.9" y2="98.7" stroke="#3c3c3c" stroke-width="1.4"/>
<line x1="645.2" y1="134.9" x2="645.2" y2="154.9" stroke="#8c8c8c" stroke-width="1.3"/>
<line x1="643.9" y1="134.9" x2="646.5" y2="134.9" stroke="#3c3c3c" stroke-width="1.4"/>
<line x1="643.9" y1="154.9" x2="646.5" y2="154.9" stroke="#3c3c3c" stroke-width="1.4"/>
<line x1="491.0" y1="90.9" x2="491.0" y2="110.9" stroke="#8c8c8c" stroke-width="1.3"/>
<line x1="489.7" y1="90.9" x2="492.3" y2="90.9" stroke="#3c3c3c" stroke-width="1.4"/>
<line x1="489.7" y1="110.9" x2="492.3" y2="110.9" stroke="#3c3c3c" stroke-width="1.4"/>
<line x1="529.5" y1="78.0" x2="529.5" y2="86.0" stroke="#8c8c8c" stroke-width="1.3"/>
<line x1="528.2" y1="78.0" x2="530.8" y2="78.0" stroke="#3c3c3c" stroke-width="1.4"/>
<line x1="528.2" y1="86.0" x2="530.8" y2="86.0" stroke="#3c3c3c" stroke-width="1.4"/>
<line x1="568.1" y1="64.9" x2="568.1" y2="70.9" stroke="#8c8c8c" stroke-width="1.3"/>
<line x1="566.8" y1="64.9" x2="569.4" y2="64.9" stroke="#3c3c3c" stroke-width="1.4"/>
<line x1="566.8" y1="70.9" x2="569.4" y2="70.9" stroke="#3c3c3c" stroke-width="1.4"/>
<line x1="606.6" y1="94.0" x2="606.6" y2="100.0" stroke="#8c8c8c" stroke-width="1.3"/>
<line x1="605.3" y1="94.0" x2="607.9" y2="94.0" stroke="#3c3c3c" stroke-width="1.4"/>
<line x1="605.3" y1="100.0" x2="607.9" y2="100.0" stroke="#3c3c3c" stroke-width="1.4"/>
<line x1="645.2" y1="103.1" x2="645.2" y2="123.1" stroke="#8c8c8c" stroke-width="1.3"/>
<line x1="643.9" y1="103.1" x2="646.5" y2="103.1" stroke="#3c3c3c" stroke-width="1.4"/>
<line x1="643.9" y1="123.1" x2="646.5" y2="123.1" stroke="#3c3c3c" stroke-width="1.4"/>
<line x1="491.0" y1="102.0" x2="491.0" y2="118.0" stroke="#8c8c8c" stroke-width="1.3"/>
<line x1="489.7" y1="102.0" x2="492.3" y2="102.0" stroke="#3c3c3c" stroke-width="1.4"/>
<line x1="489.7" y1="118.0" x2="492.3" y2="118.0" stroke="#3c3c3c" stroke-width="1.4"/>
<line x1="529.5" y1="129.6" x2="529.5" y2="143.6" stroke="#8c8c8c" stroke-width="1.3"/>
<line x1="528.2" y1="129.6" x2="530.8" y2="129.6" stroke="#3c3c3c" stroke-width="1.4"/>
<line x1="528.2" y1="143.6" x2="530.8" y2="143.6" stroke="#3c3c3c" stroke-width="1.4"/>
<line x1="568.1" y1="95.2" x2="568.1" y2="107.2" stroke="#8c8c8c" stroke-width="1.3"/>
<line x1="566.8" y1="95.2" x2="569.4" y2="95.2" stroke="#3c3c3c" stroke-width="1.4"/>
<line x1="566.8" y1="107.2" x2="569.4" y2="107.2" stroke="#3c3c3c" stroke-width="1.4"/>
<line x1="606.6" y1="137.4" x2="606.6" y2="143.4" stroke="#8c8c8c" stroke-width="1.3"/>
<line x1="605.3" y1="137.4" x2="607.9" y2="137.4" stroke="#3c3c3c" stroke-width="1.4"/>
<line x1="605.3" y1="143.4" x2="607.9" y2="143.4" stroke="#3c3c3c" stroke-width="1.4"/>
<line x1="645.2" y1="125.0" x2="645.2" y2="139.0" stroke="#8c8c8c" stroke-width="1.3"/>
<line x1="643.9" y1="125.0" x2="646.5" y2="125.0" stroke="#3c3c3c" stroke-width="1.4"/>
<line x1="643.9" y1="139.0" x2="646.5" y2="139.0" stroke="#3c3c3c" stroke-width="1.4"/>
<line x1="491.0" y1="118.9" x2="491.0" y2="124.9" stroke="#8c8c8c" stroke-width="1.3"/>
<line x1="489.7" y1="118.9" x2="492.3" y2="118.9" stroke="#3c3c3c" stroke-width="1.4"/>
<line x1="489.7" y1="124.9" x2="492.3" y2="124.9" stroke="#3c3c3c" stroke-width="1.4"/>
<line x1="529.5" y1="101.5" x2="529.5" y2="109.5" stroke="#8c8c8c" stroke-width="1.3"/>
<line x1="528.2" y1="101.5" x2="530.8" y2="101.5" stroke="#3c3c3c" stroke-width="1.4"/>
<line x1="528.2" y1="109.5" x2="530.8" y2="109.5" stroke="#3c3c3c" stroke-width="1.4"/>
<line x1="568.1" y1="101.4" x2="568.1" y2="109.4" stroke="#8c8c8c" stroke-width="1.3"/>
<line x1="566.8" y1="101.4" x2="569.4" y2="101.4" stroke="#3c3c3c" stroke-width="1.4"/>
<line x1="566.8" y1="109.4" x2="569.4" y2="109.4" stroke="#3c3c3c" stroke-width="1.4"/>
<line x1="606.6" y1="97.1" x2="606.6" y2="103.1" stroke="#8c8c8c" stroke-width="1.3"/>
<line x1="605.3" y1="97.1" x2="607.9" y2="97.1" stroke="#3c3c3c" stroke-width="1.4"/>
<line x1="605.3" y1="103.1" x2="607.9" y2="103.1" stroke="#3c3c3c" stroke-width="1.4"/>
<line x1="645.2" y1="117.6" x2="645.2" y2="129.6" stroke="#8c8c8c" stroke-width="1.3"/>
<line x1="643.9" y1="117.6" x2="646.5" y2="117.6" stroke="#3c3c3c" stroke-width="1.4"/>
<line x1="643.9" y1="129.6" x2="646.5" y2="129.6" stroke="#3c3c3c" stroke-width="1.4"/>
<line x1="491.0" y1="117.5" x2="491.0" y2="137.5" stroke="#8c8c8c" stroke-width="1.3"/>
<line x1="489.7" y1="117.5" x2="492.3" y2="117.5" stroke="#3c3c3c" stroke-width="1.4"/>
<line x1="489.7" y1="137.5" x2="492.3" y2="137.5" stroke="#3c3c3c" stroke-width="1.4"/>
<line x1="529.5" y1="105.5" x2="529.5" y2="119.5" stroke="#8c8c8c" stroke-width="1.3"/>
<line x1="528.2" y1="105.5" x2="530.8" y2="105.5" stroke="#3c3c3c" stroke-width="1.4"/>
<line x1="528.2" y1="119.5" x2="530.8" y2="119.5" stroke="#3c3c3c" stroke-width="1.4"/>
<line x1="568.1" y1="108.9" x2="568.1" y2="122.9" stroke="#8c8c8c" stroke-width="1.3"/>
<line x1="566.8" y1="108.9" x2="569.4" y2="108.9" stroke="#3c3c3c" stroke-width="1.4"/>
<line x1="566.8" y1="122.9" x2="569.4" y2="122.9" stroke="#3c3c3c" stroke-width="1.4"/>
<line x1="606.6" y1="111.3" x2="606.6" y2="121.3" stroke="#8c8c8c" stroke-width="1.3"/>
<line x1="605.3" y1="111.3" x2="607.9" y2="111.3" stroke="#3c3c3c" stroke-width="1.4"/>
<line x1="605.3" y1="121.3" x2="607.9" y2="121.3" stroke="#3c3c3c" stroke-width="1.4"/>
<line x1="645.2" y1="94.7" x2="645.2" y2="100.7" stroke="#8c8c8c" stroke-width="1.3"/>
<line x1="643.9" y1="94.7" x2="646.5" y2="94.7" stroke="#3c3c3c" stroke-width="1.4"/>
<line x1="643.9" y1="100.7" x2="646.5" y2="100.7" stroke="#3c3c3c" stroke-width="1.4"/>
<line x1="491.0" y1="121.6" x2="491.0" y2="137.6" stroke="#8c8c8c" stroke-width="1.3"/>
<line x1="489.7" y1="121.6" x2="492.3" y2="121.6" stroke="#3c3c3c" stroke-width="1.4"/>
<line x1="489.7" y1="137.6" x2="492.3" y2="137.6" stroke="#3c3c3c" stroke-width="1.4"/>
<line x1="529.5" y1="121.6" x2="529.5" y2="137.6" stroke="#8c8c8c" stroke-width="1.3"/>
<line x1="528.2" y1="121.6" x2="530.8" y2="121.6" stroke="#3c3c3c" stroke-width="1.4"/>
<line x1="528.2" y1="137.6" x2="530.8" y2="137.6" stroke="#3c3c3c" stroke-width="1.4"/>
<line x1="568.1" y1="131.0" x2="568.1" y2="147.0" stroke="#8c8c8c" stroke-width="1.3"/>
<line x1="566.8" y1="131.0" x2="569.4" y2="131.0" stroke="#3c3c3c" stroke-width="1.4"/>
<line x1="566.8" y1="147.0" x2="569.4" y2="147.0" stroke="#3c3c3c" stroke-width="1.4"/>
<line x1="606.6" y1="95.1" x2="606.6" y2="105.1" stroke="#8c8c8c" stroke-width="1.3"/>
<line x1="605.3" y1="95.1" x2="607.9" y2="95.1" stroke="#3c3c3c" stroke-width="1.4"/>
<line x1="605.3" y1="105.1" x2="607.9" y2="105.1" stroke="#3c3c3c" stroke-width="1.4"/>
<line x1="645.2" y1="119.9" x2="645.2" y2="139.9" stroke="#8c8c8c" stroke-width="1.3"/>
<line x1="643.9" y1="119.9" x2="646.5" y2="119.9" stroke="#3c3c3c" stroke-width="1.4"/>
<line x1="643.9" y1="139.9" x2="646.5" y2="139.9" stroke="#3c3c3c" stroke-width="1.4"/>
<line x1="491.0" y1="95.1" x2="491.0" y2="115.1" stroke="#8c8c8c" stroke-width="1.3"/>
<line x1="489.7" y1="95.1" x2="492.3" y2="95.1" stroke="#3c3c3c" stroke-width="1.4"/>
<line x1="489.7" y1="115.1" x2="492.3" y2="115.1" stroke="#3c3c3c" stroke-width="1.4"/>
<line x1="529.5" y1="72.8" x2="529.5" y2="96.8" stroke="#8c8c8c" stroke-width="1.3"/>
<line x1="528.2" y1="72.8" x2="530.8" y2="72.8" stroke="#3c3c3c" stroke-width="1.4"/>
<line x1="528.2" y1="96.8" x2="530.8" y2="96.8" stroke="#3c3c3c" stroke-width="1.4"/>
<line x1="568.1" y1="100.3" x2="568.1" y2="120.3" stroke="#8c8c8c" stroke-width="1.3"/>
<line x1="566.8" y1="100.3" x2="569.4" y2="100.3" stroke="#3c3c3c" stroke-width="1.4"/>
<line x1="566.8" y1="120.3" x2="569.4" y2="120.3" stroke="#3c3c3c" stroke-width="1.4"/>
<line x1="606.6" y1="100.0" x2="606.6" y2="108.0" stroke="#8c8c8c" stroke-width="1.3"/>
<line x1="605.3" y1="100.0" x2="607.9" y2="100.0" stroke="#3c3c3c" stroke-width="1.4"/>
<line x1="605.3" y1="108.0" x2="607.9" y2="108.0" stroke="#3c3c3c" stroke-width="1.4"/>
<line x1="645.2" y1="146.7" x2="645.2" y2="160.7" stroke="#8c8c8c" stroke-width="1.3"/>
<line x1="643.9" y1="146.7" x2="646.5" y2="146.7" stroke="#3c3c3c" stroke-width="1.4"/>
<line x1="643.9" y1="160.7" x2="646.5" y2="160.7" stroke="#3c3c3c" stroke-width="1.4"/>
<line x1="491.0" y1="107.7" x2="491.0" y2="127.7" stroke="#8c8c8c" stroke-width="1.3"/>
<line x1="489.7" y1="107.7" x2="492.3" y2="107.7" stroke="#3c3c3c" stroke-width="1.4"/>
<line x1="489.7" y1="127.7" x2="492.3" y2="127.7" stroke="#3c3c3c" stroke-width="1.4"/>
<line x1="529.5" y1="118.3" x2="529.5" y2="130.3" stroke="#8c8c8c" stroke-width="1.3"/>
<line x1="528.2" y1="118.3" x2="530.8" y2="118.3" stroke="#3c3c3c" stroke-width="1.4"/>
<line x1="528.2" y1="130.3" x2="530.8" y2="130.3" stroke="#3c3c3c" stroke-width="1.4"/>
<line x1="568.1" y1="114.9" x2="568.1" y2="128.9" stroke="#8c8c8c" stroke-width="1.3"/>
<line x1="566.8" y1="114.9" x2="569.4" y2="114.9" stroke="#3c3c3c" stroke-width="1.4"/>
<line x1="566.8" y1="128.9" x2="569.4" y2="128.9" stroke="#3c3c3c" stroke-width="1.4"/>
<line x1="606.6" y1="99.6" x2="606.6" y2="119.6" stroke="#8c8c8c" stroke-width="1.3"/>
<line x1="605.3" y1="99.6" x2="607.9" y2="99.6" stroke="#3c3c3c" stroke-width="1.4"/>
<line x1="605.3" y1="119.6" x2="607.9" y2="119.6" stroke="#3c3c3c" stroke-width="1.4"/>
<line x1="645.2" y1="110.3" x2="645.2" y2="124.3" stroke="#8c8c8c" stroke-width="1.3"/>
<line x1="643.9" y1="110.3" x2="646.5" y2="110.3" stroke="#3c3c3c" stroke-width="1.4"/>
<line x1="643.9" y1="124.3" x2="646.5" y2="124.3" stroke="#3c3c3c" stroke-width="1.4"/>
<line x1="491.0" y1="112.6" x2="491.0" y2="126.6" stroke="#8c8c8c" stroke-width="1.3"/>
<line x1="489.7" y1="112.6" x2="492.3" y2="112.6" stroke="#3c3c3c" stroke-width="1.4"/>
<line x1="489.7" y1="126.6" x2="492.3" y2="126.6" stroke="#3c3c3c" stroke-width="1.4"/>
<line x1="529.5" y1="104.8" x2="529.5" y2="120.8" stroke="#8c8c8c" stroke-width="1.3"/>
<line x1="528.2" y1="104.8" x2="530.8" y2="104.8" stroke="#3c3c3c" stroke-width="1.4"/>
<line x1="528.2" y1="120.8" x2="530.8" y2="120.8" stroke="#3c3c3c" stroke-width="1.4"/>
<line x1="568.1" y1="128.7" x2="568.1" y2="134.7" stroke="#8c8c8c" stroke-width="1.3"/>
<line x1="566.8" y1="128.7" x2="569.4" y2="128.7" stroke="#3c3c3c" stroke-width="1.4"/>
<line x1="566.8" y1="134.7" x2="569.4" y2="134.7" stroke="#3c3c3c" stroke-width="1.4"/>
<line x1="606.6" y1="116.4" x2="606.6" y2="136.4" stroke="#8c8c8c" stroke-width="1.3"/>
<line x1="605.3" y1="116.4" x2="607.9" y2="116.4" stroke="#3c3c3c" stroke-width="1.4"/>
<line x1="605.3" y1="136.4" x2="607.9" y2="136.4" stroke="#3c3c3c" stroke-width="1.4"/>
<line x1="645.2" y1="130.7" x2="645.2" y2="146.7" stroke="#8c8c8c" stroke-width="1.3"/>
<line x1="643.9" y1="130.7" x2="646.5" y2="130.7" stroke="#3c3c3c" stroke-width="1.4"/>
<line x1="643.9" y1="146.7" x2="646.5" y2="146.7" stroke="#3c3c3c" stroke-width="1.4"/>
<line x1="491.0" y1="131.5" x2="491.0" y2="137.5" stroke="#8c8c8c" stroke-width="1.3"/>
<line x1="489.7" y1="131.5" x2="492.3" y2="131.5" stroke="#3c3c3c" stroke-width="1.4"/>
<line x1="489.7" y1="137.5" x2="492.3" y2="137.5" stroke="#3c3c3c" stroke-width="1.4"/>
<line x1="529.5" y1="114.3" x2="529.5" y2="134.3" stroke="#8c8c8c" stroke-width="1.3"/>
<line x1="528.2" y1="114.3" x2="530.8" y2="114.3" stroke="#3c3c3c" stroke-width="1.4"/>
<line x1="528.2" y1="134.3" x2="530.8" y2="134.3" stroke="#3c3c3c" stroke-width="1.4"/>
<line x1="568.1" y1="126.7" x2="568.1" y2="136.7" stroke="#8c8c8c" stroke-width="1.3"/>
<line x1="566.8" y1="126.7" x2="569.4" y2="126.7" stroke="#3c3c3c" stroke-width="1.4"/>
<line x1="566.8" y1="136.7" x2="569.4" y2="136.7" stroke="#3c3c3c" stroke-width="1.4"/>
<line x1="606.6" y1="143.0" x2="606.6" y2="149.0" stroke="#8c8c8c" stroke-width="1.3"/>
<line x1="605.3" y1="143.0" x2="607.9" y2="143.0" stroke="#3c3c3c" stroke-width="1.4"/>
<line x1="605.3" y1="149.0" x2="607.9" y2="149.0" stroke="#3c3c3c" stroke-width="1.4"/>
<line x1="645.2" y1="150.6" x2="645.2" y2="166.6" stroke="#8c8c8c" stroke-width="1.3"/>
<line x1="643.9" y1="150.6" x2="646.5" y2="150.6" stroke="#3c3c3c" stroke-width="1.4"/>
<line x1="643.9" y1="166.6" x2="646.5" y2="166.6" stroke="#3c3c3c" stroke-width="1.4"/>
<line x1="491.0" y1="116.0" x2="491.0" y2="140.0" stroke="#8c8c8c" stroke-width="1.3"/>
<line x1="489.7" y1="116.0" x2="492.3" y2="116.0" stroke="#3c3c3c" stroke-width="1.4"/>
<line x1="489.7" y1="140.0" x2="492.3" y2="140.0" stroke="#3c3c3c" stroke-width="1.4"/>
<line x1="529.5" y1="104.8" x2="529.5" y2="120.8" stroke="#8c8c8c" stroke-width="1.3"/>
<line x1="528.2" y1="104.8" x2="530.8" y2="104.8" stroke="#3c3c3c" stroke-width="1.4"/>
<line x1="528.2" y1="120.8" x2="530.8" y2="120.8" stroke="#3c3c3c" stroke-width="1.4"/>
<line x1="568.1" y1="113.9" x2="568.1" y2="129.9" stroke="#8c8c8c" stroke-width="1.3"/>
<line x1="566.8" y1="113.9" x2="569.4" y2="113.9" stroke="#3c3c3c" stroke-width="1.4"/>
<line x1="566.8" y1="129.9" x2="569.4" y2="129.9" stroke="#3c3c3c" stroke-width="1.4"/>
<line x1="606.6" y1="124.7" x2="606.6" y2="138.7" stroke="#8c8c8c" stroke-width="1.3"/>
<line x1="605.3" y1="124.7" x2="607.9" y2="124.7" stroke="#3c3c3c" stroke-width="1.4"/>
<line x1="605.3" y1="138.7" x2="607.9" y2="138.7" stroke="#3c3c3c" stroke-width="1.4"/>
<line x1="645.2" y1="126.7" x2="645.2" y2="150.7" stroke="#8c8c8c" stroke-width="1.3"/>
<line x1="643.9" y1="126.7" x2="646.5" y2="126.7" stroke="#3c3c3c" stroke-width="1.4"/>
<line x1="643.9" y1="150.7" x2="646.5" y2="150.7" stroke="#3c3c3c" stroke-width="1.4"/>
<line x1="491.0" y1="148.3" x2="491.0" y2="154.3" stroke="#8c8c8c" stroke-width="1.3"/>
<line x1="489.7" y1="148.3" x2="492.3" y2="148.3" stroke="#3c3c3c" stroke-width="1.4"/>
<line x1="489.7" y1="154.3" x2="492.3" y2="154.3" stroke="#3c3c3c" stroke-width="1.4"/>
<line x1="529.5" y1="146.9" x2="529.5" y2="152.9" stroke="#8c8c8c" stroke-width="1.3"/>
<line x1="528.2" y1="146.9" x2="530.8" y2="146.9" stroke="#3c3c3c" stroke-width="1.4"/>
<line x1="528.2" y1="152.9" x2="530.8" y2="152.9" stroke="#3c3c3c" stroke-width="1.4"/>
<line x1="568.1" y1="147.9" x2="568.1" y2="153.9" stroke="#8c8c8c" stroke-width="1.3"/>
<line x1="566.8" y1="147.9" x2="569.4" y2="147.9" stroke="#3c3c3c" stroke-width="1.4"/>
<line x1="566.8" y1="153.9" x2="569.4" y2="153.9" stroke="#3c3c3c" stroke-width="1.4"/>
<line x1="606.6" y1="142.9" x2="606.6" y2="158.9" stroke="#8c8c8c" stroke-width="1.3"/>
<line x1="605.3" y1="142.9" x2="607.9" y2="142.9" stroke="#3c3c3c" stroke-width="1.4"/>
<line x1="605.3" y1="158.9" x2="607.9" y2="158.9" stroke="#3c3c3c" stroke-width="1.4"/>
<line x1="645.2" y1="146.7" x2="645.2" y2="160.7" stroke="#8c8c8c" stroke-width="1.3"/>
<line x1="643.9" y1="146.7" x2="646.5" y2="146.7" stroke="#3c3c3c" stroke-width="1.4"/>
<line x1="643.9" y1="160.7" x2="646.5" y2="160.7" stroke="#3c3c3c" stroke-width="1.4"/>
<line x1="491.0" y1="45.5" x2="491.0" y2="61.3" stroke="#8c8c8c" stroke-width="1.3"/>
<line x1="489.7" y1="45.5" x2="492.3" y2="45.5" stroke="#3c3c3c" stroke-width="1.4"/>
<line x1="489.7" y1="61.3" x2="492.3" y2="61.3" stroke="#3c3c3c" stroke-width="1.4"/>
<line x1="491.0" y1="98.0" x2="491.0" y2="142.7" stroke="#8c8c8c" stroke-width="1.3"/>
<line x1="489.7" y1="98.0" x2="492.3" y2="98.0" stroke="#3c3c3c" stroke-width="1.4"/>
<line x1="489.7" y1="142.7" x2="492.3" y2="142.7" stroke="#3c3c3c" stroke-width="1.4"/>
<line x1="529.5" y1="67.8" x2="529.5" y2="148.0" stroke="#8c8c8c" stroke-width="1.3"/>
<line x1="528.2" y1="67.8" x2="530.8" y2="67.8" stroke="#3c3c3c" stroke-width="1.4"/>
<line x1="528.2" y1="148.0" x2="530.8" y2="148.0" stroke="#3c3c3c" stroke-width="1.4"/>
<line x1="568.1" y1="58.6" x2="568.1" y2="140.1" stroke="#8c8c8c" stroke-width="1.3"/>
<line x1="566.8" y1="58.6" x2="569.4" y2="58.6" stroke="#3c3c3c" stroke-width="1.4"/>
<line x1="566.8" y1="140.1" x2="569.4" y2="140.1" stroke="#3c3c3c" stroke-width="1.4"/>
<line x1="606.6" y1="81.0" x2="606.6" y2="160.6" stroke="#8c8c8c" stroke-width="1.3"/>
<line x1="605.3" y1="81.0" x2="607.9" y2="81.0" stroke="#3c3c3c" stroke-width="1.4"/>
<line x1="605.3" y1="160.6" x2="607.9" y2="160.6" stroke="#3c3c3c" stroke-width="1.4"/>
<line x1="645.2" y1="110.0" x2="645.2" y2="170.3" stroke="#8c8c8c" stroke-width="1.3"/>
<line x1="643.9" y1="110.0" x2="646.5" y2="110.0" stroke="#3c3c3c" stroke-width="1.4"/>
<line x1="643.9" y1="170.3" x2="646.5" y2="170.3" stroke="#3c3c3c" stroke-width="1.4"/>
<line x1="452.4" y1="115.3" x2="452.4" y2="157.3" stroke="#8c8c8c" stroke-width="1.3"/>
<line x1="451.1" y1="115.3" x2="453.7" y2="115.3" stroke="#3c3c3c" stroke-width="1.4"/>
<line x1="451.1" y1="157.3" x2="453.7" y2="157.3" stroke="#3c3c3c" stroke-width="1.4"/>
<line x1="452.4" y1="123.7" x2="452.4" y2="152.1" stroke="#8c8c8c" stroke-width="1.3"/>
<line x1="451.1" y1="123.7" x2="453.7" y2="123.7" stroke="#3c3c3c" stroke-width="1.4"/>
<line x1="451.1" y1="152.1" x2="453.7" y2="152.1" stroke="#3c3c3c" stroke-width="1.4"/>
<circle cx="491.0" cy="105.1" r="2.6" fill="#d83caa"/>
<circle cx="529.5" cy="84.8" r="2.6" fill="#d83caa"/>
<circle cx="568.1" cy="110.3" r="2.6" fill="#d83caa"/>
<circle cx="606.6" cy="104.0" r="2.6" fill="#d83caa"/>
<circle cx="645.2" cy="153.7" r="2.6" fill="#d83caa"/>
<circle cx="491.0" cy="117.7" r="2.6" fill="#d83caa"/>
<circle cx="529.5" cy="124.3" r="2.6" fill="#d83caa"/>
<circle cx="568.1" cy="121.9" r="2.6" fill="#d83caa"/>
<circle cx="606.6" cy="109.6" r="2.6" fill="#d83caa"/>
<circle cx="645.2" cy="117.3" r="2.6" fill="#d83caa"/>
<circle cx="491.0" cy="119.6" r="2.6" fill="#d83caa"/>
<circle cx="529.5" cy="112.8" r="2.6" fill="#d83caa"/>
<circle cx="568.1" cy="131.7" r="2.6" fill="#d83caa"/>
<circle cx="606.6" cy="126.4" r="2.6" fill="#d83caa"/>
<circle cx="645.2" cy="138.7" r="2.6" fill="#d83caa"/>
<circle cx="491.0" cy="134.5" r="2.6" fill="#d83caa"/>
<circle cx="529.5" cy="124.3" r="2.6" fill="#d83caa"/>
<circle cx="568.1" cy="131.7" r="2.6" fill="#d83caa"/>
<circle cx="606.6" cy="146.0" r="2.6" fill="#d83caa"/>
<circle cx="645.2" cy="158.6" r="2.6" fill="#d83caa"/>
<circle cx="491.0" cy="128.0" r="2.6" fill="#d83caa"/>
<circle cx="529.5" cy="112.8" r="2.6" fill="#d83caa"/>
<circle cx="568.1" cy="121.9" r="2.6" fill="#d83caa"/>
<circle cx="606.6" cy="131.7" r="2.6" fill="#d83caa"/>
<circle cx="645.2" cy="138.7" r="2.6" fill="#d83caa"/>
<circle cx="491.0" cy="151.3" r="2.6" fill="#d83caa"/>
<circle cx="529.5" cy="149.9" r="2.6" fill="#d83caa"/>
<circle cx="568.1" cy="150.9" r="2.6" fill="#d83caa"/>
<circle cx="606.6" cy="150.9" r="2.6" fill="#d83caa"/>
<circle cx="645.2" cy="153.7" r="2.6" fill="#d83caa"/>
<circle cx="452.4" cy="136.3" r="2.6" fill="#067506"/>
<circle cx="491.0" cy="53.6" r="2.6" fill="#067506"/>
<circle cx="529.5" cy="77.1" r="2.6" fill="#067506"/>
<circle cx="568.1" cy="85.5" r="2.6" fill="#067506"/>
<circle cx="606.6" cy="91.7" r="2.6" fill="#067506"/>
<circle cx="645.2" cy="144.9" r="2.6" fill="#067506"/>
<circle cx="452.4" cy="136.3" r="2.6" fill="#067506"/>
<circle cx="491.0" cy="100.9" r="2.6" fill="#067506"/>
<circle cx="529.5" cy="82.0" r="2.6" fill="#067506"/>
<circle cx="568.1" cy="67.9" r="2.6" fill="#067506"/>
<circle cx="606.6" cy="97.0" r="2.6" fill="#067506"/>
<circle cx="645.2" cy="113.1" r="2.6" fill="#067506"/>
<circle cx="452.4" cy="136.3" r="2.6" fill="#067506"/>
<circle cx="491.0" cy="110.0" r="2.6" fill="#067506"/>
<circle cx="529.5" cy="136.6" r="2.6" fill="#067506"/>
<circle cx="568.1" cy="101.2" r="2.6" fill="#067506"/>
<circle cx="606.6" cy="140.4" r="2.6" fill="#067506"/>
<circle cx="645.2" cy="132.0" r="2.6" fill="#067506"/>
<circle cx="452.4" cy="136.3" r="2.6" fill="#067506"/>
<circle cx="491.0" cy="121.9" r="2.6" fill="#067506"/>
<circle cx="529.5" cy="105.5" r="2.6" fill="#067506"/>
<circle cx="568.1" cy="105.4" r="2.6" fill="#067506"/>
<circle cx="606.6" cy="100.1" r="2.6" fill="#067506"/>
<circle cx="645.2" cy="123.6" r="2.6" fill="#067506"/>
<circle cx="452.4" cy="136.3" r="2.6" fill="#067506"/>
<circle cx="491.0" cy="127.5" r="2.6" fill="#067506"/>
<circle cx="529.5" cy="112.5" r="2.6" fill="#067506"/>
<circle cx="568.1" cy="115.9" r="2.6" fill="#067506"/>
<circle cx="606.6" cy="116.3" r="2.6" fill="#067506"/>
<circle cx="645.2" cy="97.7" r="2.6" fill="#067506"/>
<circle cx="452.4" cy="136.3" r="2.6" fill="#067506"/>
<circle cx="491.0" cy="129.6" r="2.6" fill="#067506"/>
<circle cx="529.5" cy="129.6" r="2.6" fill="#067506"/>
<circle cx="568.1" cy="139.0" r="2.6" fill="#067506"/>
<circle cx="606.6" cy="100.1" r="2.6" fill="#067506"/>
<circle cx="645.2" cy="129.9" r="2.6" fill="#067506"/>
<rect x="413.8" y="15.5" width="269.6" height="202.0" fill="none" stroke="#909090" stroke-width="1.7" stroke-linejoin="round"/>
<line x1="413.8" y1="217.1" x2="416.6" y2="217.1" stroke="#909090" stroke-width="1.2"/>
<text x="407.5" y="221.8" text-anchor="end" class="t">0</text>
<line x1="413.8" y1="176.7" x2="416.6" y2="176.7" stroke="#909090" stroke-width="1.2"/>
<text x="407.5" y="181.4" text-anchor="end" class="t">50</text>
<line x1="413.8" y1="136.4" x2="416.6" y2="136.4" stroke="#909090" stroke-width="1.2"/>
<text x="407.5" y="141.1" text-anchor="end" class="t">100</text>
<line x1="413.8" y1="96.0" x2="416.6" y2="96.0" stroke="#909090" stroke-width="1.2"/>
<text x="407.5" y="100.7" text-anchor="end" class="t">150</text>
<line x1="413.8" y1="55.6" x2="416.6" y2="55.6" stroke="#909090" stroke-width="1.2"/>
<text x="407.5" y="60.3" text-anchor="end" class="t">200</text>
<line x1="413.8" y1="15.2" x2="416.6" y2="15.2" stroke="#909090" stroke-width="1.2"/>
<text x="407.5" y="19.9" text-anchor="end" class="t">250</text>
<line x1="452.4" y1="217.5" x2="452.4" y2="214.7" stroke="#909090" stroke-width="1.2"/>
<text x="452.4" y="233.8" text-anchor="middle" class="t">0</text>
<line x1="491.0" y1="217.5" x2="491.0" y2="214.7" stroke="#909090" stroke-width="1.2"/>
<text x="491.6" y="233.8" text-anchor="middle" class="t">1:640</text>
<line x1="529.5" y1="217.5" x2="529.5" y2="214.7" stroke="#909090" stroke-width="1.2"/>
<text x="530.1" y="233.8" text-anchor="middle" class="t">1:320</text>
<line x1="568.1" y1="217.5" x2="568.1" y2="214.7" stroke="#909090" stroke-width="1.2"/>
<text x="568.7" y="233.8" text-anchor="middle" class="t">1:160</text>
<line x1="606.6" y1="217.5" x2="606.6" y2="214.7" stroke="#909090" stroke-width="1.2"/>
<text x="607.2" y="233.8" text-anchor="middle" class="t">1:80</text>
<line x1="645.2" y1="217.5" x2="645.2" y2="214.7" stroke="#909090" stroke-width="1.2"/>
<text x="645.8" y="233.8" text-anchor="middle" class="t">1:40</text>
<text x="548.6" y="252.0" text-anchor="middle" class="t">[Serum] (dilution)</text>
<text transform="translate(373.5,116.5) rotate(-90)" x="0" y="0" text-anchor="middle" class="t">Viral infection (%)</text>
<text x="421.6" y="34.4" class="h">A-MLV</text>
<line x1="651.8" y1="94.6" x2="651.8" y2="173.4" stroke="#3a3a3a" stroke-width="2"/>
<text transform="translate(665.0,133.7) rotate(-90)" text-anchor="middle" class="ns">ns</text>
<polyline points="108.4,400.1 147.0,401.2 185.5,409.9 224.1,398.7 262.6,437.6 301.2,449.6" fill="none" stroke="#78a883" stroke-width="1.25" stroke-opacity="0.85"/>
<polyline points="108.4,400.1 147.0,407.4 185.5,422.3 224.1,413.6 262.6,445.1 301.2,452.0" fill="none" stroke="#78a883" stroke-width="1.25" stroke-opacity="0.85"/>
<polyline points="108.4,400.1 147.0,413.6 185.5,424.7 224.1,429.2 262.6,452.5 301.2,455.0" fill="none" stroke="#78a883" stroke-width="1.25" stroke-opacity="0.85"/>
<polyline points="108.4,400.1 147.0,421.0 185.5,424.0 224.1,449.0 262.6,459.0 301.2,463.2" fill="none" stroke="#78a883" stroke-width="1.25" stroke-opacity="0.85"/>
<polyline points="108.4,400.1 147.0,444.1 185.5,445.1 224.1,458.2 262.6,462.5 301.2,469.9" fill="none" stroke="#78a883" stroke-width="1.25" stroke-opacity="0.85"/>
<polyline points="108.4,400.1 147.0,447.6 185.5,449.0 224.1,465.7 262.6,470.6 301.2,472.4" fill="none" stroke="#78a883" stroke-width="1.25" stroke-opacity="0.85"/>
<polyline points="108.4,400.1 147.0,452.0 185.5,453.3 224.1,474.0 262.6,476.5 301.2,474.9" fill="none" stroke="#78a883" stroke-width="1.25" stroke-opacity="0.85"/>
<polyline points="108.4,400.1 147.0,388.6 185.5,338.2 224.1,346.1 262.6,323.9 301.2,301.6" fill="none" stroke="#cc98c2" stroke-width="1.25" stroke-opacity="0.85"/>
<polyline points="108.4,400.1 147.0,420.0 185.5,353.3 224.1,346.1 262.6,376.7 301.2,413.2" fill="none" stroke="#cc98c2" stroke-width="1.25" stroke-opacity="0.85"/>
<polyline points="108.4,400.1 147.0,390.8 185.5,379.1 224.1,360.7 262.6,350.9 301.2,373.8" fill="none" stroke="#cc98c2" stroke-width="1.25" stroke-opacity="0.85"/>
<polyline points="108.4,400.1 147.0,397.4 185.5,397.1 224.1,368.7 262.6,359.2 301.2,346.8" fill="none" stroke="#cc98c2" stroke-width="1.25" stroke-opacity="0.85"/>
<polyline points="108.4,400.1 147.0,390.0 185.5,382.8 224.1,386.2 262.6,368.0 301.2,362.9" fill="none" stroke="#cc98c2" stroke-width="1.25" stroke-opacity="0.85"/>
<polyline points="108.4,400.1 147.0,392.0 185.5,387.9 224.1,388.4 262.6,373.1 301.2,378.9" fill="none" stroke="#cc98c2" stroke-width="1.25" stroke-opacity="0.85"/>
<polyline points="108.4,400.1 147.0,405.0 185.5,423.0 224.1,413.2 262.6,387.0 301.2,381.1" fill="none" stroke="#cc98c2" stroke-width="1.25" stroke-opacity="0.85"/>
<line x1="147.0" y1="396.2" x2="147.0" y2="406.2" stroke="#8c8c8c" stroke-width="1.3"/>
<line x1="145.7" y1="396.2" x2="148.3" y2="396.2" stroke="#3c3c3c" stroke-width="1.4"/>
<line x1="145.7" y1="406.2" x2="148.3" y2="406.2" stroke="#3c3c3c" stroke-width="1.4"/>
<line x1="185.5" y1="406.9" x2="185.5" y2="412.9" stroke="#8c8c8c" stroke-width="1.3"/>
<line x1="184.2" y1="406.9" x2="186.8" y2="406.9" stroke="#3c3c3c" stroke-width="1.4"/>
<line x1="184.2" y1="412.9" x2="186.8" y2="412.9" stroke="#3c3c3c" stroke-width="1.4"/>
<line x1="224.1" y1="395.2" x2="224.1" y2="402.2" stroke="#8c8c8c" stroke-width="1.3"/>
<line x1="222.8" y1="395.2" x2="225.4" y2="395.2" stroke="#3c3c3c" stroke-width="1.4"/>
<line x1="222.8" y1="402.2" x2="225.4" y2="402.2" stroke="#3c3c3c" stroke-width="1.4"/>
<line x1="262.6" y1="435.6" x2="262.6" y2="439.6" stroke="#8c8c8c" stroke-width="1.3"/>
<line x1="261.3" y1="435.6" x2="263.9" y2="435.6" stroke="#3c3c3c" stroke-width="1.4"/>
<line x1="261.3" y1="439.6" x2="263.9" y2="439.6" stroke="#3c3c3c" stroke-width="1.4"/>
<line x1="301.2" y1="446.1" x2="301.2" y2="453.1" stroke="#8c8c8c" stroke-width="1.3"/>
<line x1="299.9" y1="446.1" x2="302.5" y2="446.1" stroke="#3c3c3c" stroke-width="1.4"/>
<line x1="299.9" y1="453.1" x2="302.5" y2="453.1" stroke="#3c3c3c" stroke-width="1.4"/>
<line x1="147.0" y1="405.4" x2="147.0" y2="409.4" stroke="#8c8c8c" stroke-width="1.3"/>
<line x1="145.7" y1="405.4" x2="148.3" y2="405.4" stroke="#3c3c3c" stroke-width="1.4"/>
<line x1="145.7" y1="409.4" x2="148.3" y2="409.4" stroke="#3c3c3c" stroke-width="1.4"/>
<line x1="185.5" y1="418.8" x2="185.5" y2="425.8" stroke="#8c8c8c" stroke-width="1.3"/>
<line x1="184.2" y1="418.8" x2="186.8" y2="418.8" stroke="#3c3c3c" stroke-width="1.4"/>
<line x1="184.2" y1="425.8" x2="186.8" y2="425.8" stroke="#3c3c3c" stroke-width="1.4"/>
<line x1="224.1" y1="410.1" x2="224.1" y2="417.1" stroke="#8c8c8c" stroke-width="1.3"/>
<line x1="222.8" y1="410.1" x2="225.4" y2="410.1" stroke="#3c3c3c" stroke-width="1.4"/>
<line x1="222.8" y1="417.1" x2="225.4" y2="417.1" stroke="#3c3c3c" stroke-width="1.4"/>
<line x1="262.6" y1="442.1" x2="262.6" y2="448.1" stroke="#8c8c8c" stroke-width="1.3"/>
<line x1="261.3" y1="442.1" x2="263.9" y2="442.1" stroke="#3c3c3c" stroke-width="1.4"/>
<line x1="261.3" y1="448.1" x2="263.9" y2="448.1" stroke="#3c3c3c" stroke-width="1.4"/>
<line x1="301.2" y1="449.0" x2="301.2" y2="455.0" stroke="#8c8c8c" stroke-width="1.3"/>
<line x1="299.9" y1="449.0" x2="302.5" y2="449.0" stroke="#3c3c3c" stroke-width="1.4"/>
<line x1="299.9" y1="455.0" x2="302.5" y2="455.0" stroke="#3c3c3c" stroke-width="1.4"/>
<line x1="147.0" y1="409.6" x2="147.0" y2="417.6" stroke="#8c8c8c" stroke-width="1.3"/>
<line x1="145.7" y1="409.6" x2="148.3" y2="409.6" stroke="#3c3c3c" stroke-width="1.4"/>
<line x1="145.7" y1="417.6" x2="148.3" y2="417.6" stroke="#3c3c3c" stroke-width="1.4"/>
<line x1="185.5" y1="423.2" x2="185.5" y2="426.2" stroke="#8c8c8c" stroke-width="1.3"/>
<line x1="184.2" y1="423.2" x2="186.8" y2="423.2" stroke="#3c3c3c" stroke-width="1.4"/>
<line x1="184.2" y1="426.2" x2="186.8" y2="426.2" stroke="#3c3c3c" stroke-width="1.4"/>
<line x1="224.1" y1="428.2" x2="224.1" y2="430.2" stroke="#8c8c8c" stroke-width="1.3"/>
<line x1="222.8" y1="428.2" x2="225.4" y2="428.2" stroke="#3c3c3c" stroke-width="1.4"/>
<line x1="222.8" y1="430.2" x2="225.4" y2="430.2" stroke="#3c3c3c" stroke-width="1.4"/>
<line x1="262.6" y1="450.5" x2="262.6" y2="454.5" stroke="#8c8c8c" stroke-width="1.3"/>
<line x1="261.3" y1="450.5" x2="263.9" y2="450.5" stroke="#3c3c3c" stroke-width="1.4"/>
<line x1="261.3" y1="454.5" x2="263.9" y2="454.5" stroke="#3c3c3c" stroke-width="1.4"/>
<line x1="301.2" y1="452.0" x2="301.2" y2="458.0" stroke="#8c8c8c" stroke-width="1.3"/>
<line x1="299.9" y1="452.0" x2="302.5" y2="452.0" stroke="#3c3c3c" stroke-width="1.4"/>
<line x1="299.9" y1="458.0" x2="302.5" y2="458.0" stroke="#3c3c3c" stroke-width="1.4"/>
<line x1="147.0" y1="418.5" x2="147.0" y2="423.5" stroke="#8c8c8c" stroke-width="1.3"/>
<line x1="145.7" y1="418.5" x2="148.3" y2="418.5" stroke="#3c3c3c" stroke-width="1.4"/>
<line x1="145.7" y1="423.5" x2="148.3" y2="423.5" stroke="#3c3c3c" stroke-width="1.4"/>
<line x1="185.5" y1="421.0" x2="185.5" y2="427.0" stroke="#8c8c8c" stroke-width="1.3"/>
<line x1="184.2" y1="421.0" x2="186.8" y2="421.0" stroke="#3c3c3c" stroke-width="1.4"/>
<line x1="184.2" y1="427.0" x2="186.8" y2="427.0" stroke="#3c3c3c" stroke-width="1.4"/>
<line x1="224.1" y1="446.5" x2="224.1" y2="451.5" stroke="#8c8c8c" stroke-width="1.3"/>
<line x1="222.8" y1="446.5" x2="225.4" y2="446.5" stroke="#3c3c3c" stroke-width="1.4"/>
<line x1="222.8" y1="451.5" x2="225.4" y2="451.5" stroke="#3c3c3c" stroke-width="1.4"/>
<line x1="262.6" y1="455.5" x2="262.6" y2="462.5" stroke="#8c8c8c" stroke-width="1.3"/>
<line x1="261.3" y1="455.5" x2="263.9" y2="455.5" stroke="#3c3c3c" stroke-width="1.4"/>
<line x1="261.3" y1="462.5" x2="263.9" y2="462.5" stroke="#3c3c3c" stroke-width="1.4"/>
<line x1="301.2" y1="461.2" x2="301.2" y2="465.2" stroke="#8c8c8c" stroke-width="1.3"/>
<line x1="299.9" y1="461.2" x2="302.5" y2="461.2" stroke="#3c3c3c" stroke-width="1.4"/>
<line x1="299.9" y1="465.2" x2="302.5" y2="465.2" stroke="#3c3c3c" stroke-width="1.4"/>
<line x1="147.0" y1="440.1" x2="147.0" y2="448.1" stroke="#8c8c8c" stroke-width="1.3"/>
<line x1="145.7" y1="440.1" x2="148.3" y2="440.1" stroke="#3c3c3c" stroke-width="1.4"/>
<line x1="145.7" y1="448.1" x2="148.3" y2="448.1" stroke="#3c3c3c" stroke-width="1.4"/>
<line x1="185.5" y1="443.6" x2="185.5" y2="446.6" stroke="#8c8c8c" stroke-width="1.3"/>
<line x1="184.2" y1="443.6" x2="186.8" y2="443.6" stroke="#3c3c3c" stroke-width="1.4"/>
<line x1="184.2" y1="446.6" x2="186.8" y2="446.6" stroke="#3c3c3c" stroke-width="1.4"/>
<line x1="224.1" y1="456.7" x2="224.1" y2="459.7" stroke="#8c8c8c" stroke-width="1.3"/>
<line x1="222.8" y1="456.7" x2="225.4" y2="456.7" stroke="#3c3c3c" stroke-width="1.4"/>
<line x1="222.8" y1="459.7" x2="225.4" y2="459.7" stroke="#3c3c3c" stroke-width="1.4"/>
<line x1="262.6" y1="459.0" x2="262.6" y2="466.0" stroke="#8c8c8c" stroke-width="1.3"/>
<line x1="261.3" y1="459.0" x2="263.9" y2="459.0" stroke="#3c3c3c" stroke-width="1.4"/>
<line x1="261.3" y1="466.0" x2="263.9" y2="466.0" stroke="#3c3c3c" stroke-width="1.4"/>
<line x1="301.2" y1="466.4" x2="301.2" y2="473.4" stroke="#8c8c8c" stroke-width="1.3"/>
<line x1="299.9" y1="466.4" x2="302.5" y2="466.4" stroke="#3c3c3c" stroke-width="1.4"/>
<line x1="299.9" y1="473.4" x2="302.5" y2="473.4" stroke="#3c3c3c" stroke-width="1.4"/>
<line x1="147.0" y1="445.1" x2="147.0" y2="450.1" stroke="#8c8c8c" stroke-width="1.3"/>
<line x1="145.7" y1="445.1" x2="148.3" y2="445.1" stroke="#3c3c3c" stroke-width="1.4"/>
<line x1="145.7" y1="450.1" x2="148.3" y2="450.1" stroke="#3c3c3c" stroke-width="1.4"/>
<line x1="185.5" y1="444.0" x2="185.5" y2="454.0" stroke="#8c8c8c" stroke-width="1.3"/>
<line x1="184.2" y1="444.0" x2="186.8" y2="444.0" stroke="#3c3c3c" stroke-width="1.4"/>
<line x1="184.2" y1="454.0" x2="186.8" y2="454.0" stroke="#3c3c3c" stroke-width="1.4"/>
<line x1="224.1" y1="463.7" x2="224.1" y2="467.7" stroke="#8c8c8c" stroke-width="1.3"/>
<line x1="222.8" y1="463.7" x2="225.4" y2="463.7" stroke="#3c3c3c" stroke-width="1.4"/>
<line x1="222.8" y1="467.7" x2="225.4" y2="467.7" stroke="#3c3c3c" stroke-width="1.4"/>
<line x1="262.6" y1="469.1" x2="262.6" y2="472.1" stroke="#8c8c8c" stroke-width="1.3"/>
<line x1="261.3" y1="469.1" x2="263.9" y2="469.1" stroke="#3c3c3c" stroke-width="1.4"/>
<line x1="261.3" y1="472.1" x2="263.9" y2="472.1" stroke="#3c3c3c" stroke-width="1.4"/>
<line x1="301.2" y1="468.9" x2="301.2" y2="475.9" stroke="#8c8c8c" stroke-width="1.3"/>
<line x1="299.9" y1="468.9" x2="302.5" y2="468.9" stroke="#3c3c3c" stroke-width="1.4"/>
<line x1="299.9" y1="475.9" x2="302.5" y2="475.9" stroke="#3c3c3c" stroke-width="1.4"/>
<line x1="147.0" y1="449.5" x2="147.0" y2="454.5" stroke="#8c8c8c" stroke-width="1.3"/>
<line x1="145.7" y1="449.5" x2="148.3" y2="449.5" stroke="#3c3c3c" stroke-width="1.4"/>
<line x1="145.7" y1="454.5" x2="148.3" y2="454.5" stroke="#3c3c3c" stroke-width="1.4"/>
<line x1="185.5" y1="448.3" x2="185.5" y2="458.3" stroke="#8c8c8c" stroke-width="1.3"/>
<line x1="184.2" y1="448.3" x2="186.8" y2="448.3" stroke="#3c3c3c" stroke-width="1.4"/>
<line x1="184.2" y1="458.3" x2="186.8" y2="458.3" stroke="#3c3c3c" stroke-width="1.4"/>
<line x1="224.1" y1="471.0" x2="224.1" y2="477.0" stroke="#8c8c8c" stroke-width="1.3"/>
<line x1="222.8" y1="471.0" x2="225.4" y2="471.0" stroke="#3c3c3c" stroke-width="1.4"/>
<line x1="222.8" y1="477.0" x2="225.4" y2="477.0" stroke="#3c3c3c" stroke-width="1.4"/>
<line x1="262.6" y1="474.0" x2="262.6" y2="479.0" stroke="#8c8c8c" stroke-width="1.3"/>
<line x1="261.3" y1="474.0" x2="263.9" y2="474.0" stroke="#3c3c3c" stroke-width="1.4"/>
<line x1="261.3" y1="479.0" x2="263.9" y2="479.0" stroke="#3c3c3c" stroke-width="1.4"/>
<line x1="301.2" y1="473.4" x2="301.2" y2="476.4" stroke="#8c8c8c" stroke-width="1.3"/>
<line x1="299.9" y1="473.4" x2="302.5" y2="473.4" stroke="#3c3c3c" stroke-width="1.4"/>
<line x1="299.9" y1="476.4" x2="302.5" y2="476.4" stroke="#3c3c3c" stroke-width="1.4"/>
<line x1="147.0" y1="387.6" x2="147.0" y2="389.6" stroke="#8c8c8c" stroke-width="1.3"/>
<line x1="145.7" y1="387.6" x2="148.3" y2="387.6" stroke="#3c3c3c" stroke-width="1.4"/>
<line x1="145.7" y1="389.6" x2="148.3" y2="389.6" stroke="#3c3c3c" stroke-width="1.4"/>
<line x1="185.5" y1="335.7" x2="185.5" y2="340.7" stroke="#8c8c8c" stroke-width="1.3"/>
<line x1="184.2" y1="335.7" x2="186.8" y2="335.7" stroke="#3c3c3c" stroke-width="1.4"/>
<line x1="184.2" y1="340.7" x2="186.8" y2="340.7" stroke="#3c3c3c" stroke-width="1.4"/>
<line x1="224.1" y1="342.6" x2="224.1" y2="349.6" stroke="#8c8c8c" stroke-width="1.3"/>
<line x1="222.8" y1="342.6" x2="225.4" y2="342.6" stroke="#3c3c3c" stroke-width="1.4"/>
<line x1="222.8" y1="349.6" x2="225.4" y2="349.6" stroke="#3c3c3c" stroke-width="1.4"/>
<line x1="262.6" y1="321.9" x2="262.6" y2="325.9" stroke="#8c8c8c" stroke-width="1.3"/>
<line x1="261.3" y1="321.9" x2="263.9" y2="321.9" stroke="#3c3c3c" stroke-width="1.4"/>
<line x1="261.3" y1="325.9" x2="263.9" y2="325.9" stroke="#3c3c3c" stroke-width="1.4"/>
<line x1="301.2" y1="298.6" x2="301.2" y2="304.6" stroke="#8c8c8c" stroke-width="1.3"/>
<line x1="299.9" y1="298.6" x2="302.5" y2="298.6" stroke="#3c3c3c" stroke-width="1.4"/>
<line x1="299.9" y1="304.6" x2="302.5" y2="304.6" stroke="#3c3c3c" stroke-width="1.4"/>
<line x1="147.0" y1="416.5" x2="147.0" y2="423.5" stroke="#8c8c8c" stroke-width="1.3"/>
<line x1="145.7" y1="416.5" x2="148.3" y2="416.5" stroke="#3c3c3c" stroke-width="1.4"/>
<line x1="145.7" y1="423.5" x2="148.3" y2="423.5" stroke="#3c3c3c" stroke-width="1.4"/>
<line x1="185.5" y1="351.8" x2="185.5" y2="354.8" stroke="#8c8c8c" stroke-width="1.3"/>
<line x1="184.2" y1="351.8" x2="186.8" y2="351.8" stroke="#3c3c3c" stroke-width="1.4"/>
<line x1="184.2" y1="354.8" x2="186.8" y2="354.8" stroke="#3c3c3c" stroke-width="1.4"/>
<line x1="224.1" y1="342.6" x2="224.1" y2="349.6" stroke="#8c8c8c" stroke-width="1.3"/>
<line x1="222.8" y1="342.6" x2="225.4" y2="342.6" stroke="#3c3c3c" stroke-width="1.4"/>
<line x1="222.8" y1="349.6" x2="225.4" y2="349.6" stroke="#3c3c3c" stroke-width="1.4"/>
<line x1="262.6" y1="374.7" x2="262.6" y2="378.7" stroke="#8c8c8c" stroke-width="1.3"/>
<line x1="261.3" y1="374.7" x2="263.9" y2="374.7" stroke="#3c3c3c" stroke-width="1.4"/>
<line x1="261.3" y1="378.7" x2="263.9" y2="378.7" stroke="#3c3c3c" stroke-width="1.4"/>
<line x1="301.2" y1="409.2" x2="301.2" y2="417.2" stroke="#8c8c8c" stroke-width="1.3"/>
<line x1="299.9" y1="409.2" x2="302.5" y2="409.2" stroke="#3c3c3c" stroke-width="1.4"/>
<line x1="299.9" y1="417.2" x2="302.5" y2="417.2" stroke="#3c3c3c" stroke-width="1.4"/>
<line x1="147.0" y1="387.8" x2="147.0" y2="393.8" stroke="#8c8c8c" stroke-width="1.3"/>
<line x1="145.7" y1="387.8" x2="148.3" y2="387.8" stroke="#3c3c3c" stroke-width="1.4"/>
<line x1="145.7" y1="393.8" x2="148.3" y2="393.8" stroke="#3c3c3c" stroke-width="1.4"/>
<line x1="185.5" y1="376.1" x2="185.5" y2="382.1" stroke="#8c8c8c" stroke-width="1.3"/>
<line x1="184.2" y1="376.1" x2="186.8" y2="376.1" stroke="#3c3c3c" stroke-width="1.4"/>
<line x1="184.2" y1="382.1" x2="186.8" y2="382.1" stroke="#3c3c3c" stroke-width="1.4"/>
<line x1="224.1" y1="355.7" x2="224.1" y2="365.7" stroke="#8c8c8c" stroke-width="1.3"/>
<line x1="222.8" y1="355.7" x2="225.4" y2="355.7" stroke="#3c3c3c" stroke-width="1.4"/>
<line x1="222.8" y1="365.7" x2="225.4" y2="365.7" stroke="#3c3c3c" stroke-width="1.4"/>
<line x1="262.6" y1="347.4" x2="262.6" y2="354.4" stroke="#8c8c8c" stroke-width="1.3"/>
<line x1="261.3" y1="347.4" x2="263.9" y2="347.4" stroke="#3c3c3c" stroke-width="1.4"/>
<line x1="261.3" y1="354.4" x2="263.9" y2="354.4" stroke="#3c3c3c" stroke-width="1.4"/>
<line x1="301.2" y1="369.8" x2="301.2" y2="377.8" stroke="#8c8c8c" stroke-width="1.3"/>
<line x1="299.9" y1="369.8" x2="302.5" y2="369.8" stroke="#3c3c3c" stroke-width="1.4"/>
<line x1="299.9" y1="377.8" x2="302.5" y2="377.8" stroke="#3c3c3c" stroke-width="1.4"/>
<line x1="147.0" y1="394.4" x2="147.0" y2="400.4" stroke="#8c8c8c" stroke-width="1.3"/>
<line x1="145.7" y1="394.4" x2="148.3" y2="394.4" stroke="#3c3c3c" stroke-width="1.4"/>
<line x1="145.7" y1="400.4" x2="148.3" y2="400.4" stroke="#3c3c3c" stroke-width="1.4"/>
<line x1="185.5" y1="393.1" x2="185.5" y2="401.1" stroke="#8c8c8c" stroke-width="1.3"/>
<line x1="184.2" y1="393.1" x2="186.8" y2="393.1" stroke="#3c3c3c" stroke-width="1.4"/>
<line x1="184.2" y1="401.1" x2="186.8" y2="401.1" stroke="#3c3c3c" stroke-width="1.4"/>
<line x1="224.1" y1="364.7" x2="224.1" y2="372.7" stroke="#8c8c8c" stroke-width="1.3"/>
<line x1="222.8" y1="364.7" x2="225.4" y2="364.7" stroke="#3c3c3c" stroke-width="1.4"/>
<line x1="222.8" y1="372.7" x2="225.4" y2="372.7" stroke="#3c3c3c" stroke-width="1.4"/>
<line x1="262.6" y1="358.2" x2="262.6" y2="360.2" stroke="#8c8c8c" stroke-width="1.3"/>
<line x1="261.3" y1="358.2" x2="263.9" y2="358.2" stroke="#3c3c3c" stroke-width="1.4"/>
<line x1="261.3" y1="360.2" x2="263.9" y2="360.2" stroke="#3c3c3c" stroke-width="1.4"/>
<line x1="301.2" y1="342.8" x2="301.2" y2="350.8" stroke="#8c8c8c" stroke-width="1.3"/>
<line x1="299.9" y1="342.8" x2="302.5" y2="342.8" stroke="#3c3c3c" stroke-width="1.4"/>
<line x1="299.9" y1="350.8" x2="302.5" y2="350.8" stroke="#3c3c3c" stroke-width="1.4"/>
<line x1="147.0" y1="388.0" x2="147.0" y2="392.0" stroke="#8c8c8c" stroke-width="1.3"/>
<line x1="145.7" y1="388.0" x2="148.3" y2="388.0" stroke="#3c3c3c" stroke-width="1.4"/>
<line x1="145.7" y1="392.0" x2="148.3" y2="392.0" stroke="#3c3c3c" stroke-width="1.4"/>
<line x1="185.5" y1="380.3" x2="185.5" y2="385.3" stroke="#8c8c8c" stroke-width="1.3"/>
<line x1="184.2" y1="380.3" x2="186.8" y2="380.3" stroke="#3c3c3c" stroke-width="1.4"/>
<line x1="184.2" y1="385.3" x2="186.8" y2="385.3" stroke="#3c3c3c" stroke-width="1.4"/>
<line x1="224.1" y1="385.2" x2="224.1" y2="387.2" stroke="#8c8c8c" stroke-width="1.3"/>
<line x1="222.8" y1="385.2" x2="225.4" y2="385.2" stroke="#3c3c3c" stroke-width="1.4"/>
<line x1="222.8" y1="387.2" x2="225.4" y2="387.2" stroke="#3c3c3c" stroke-width="1.4"/>
<line x1="262.6" y1="363.0" x2="262.6" y2="373.0" stroke="#8c8c8c" stroke-width="1.3"/>
<line x1="261.3" y1="363.0" x2="263.9" y2="363.0" stroke="#3c3c3c" stroke-width="1.4"/>
<line x1="261.3" y1="373.0" x2="263.9" y2="373.0" stroke="#3c3c3c" stroke-width="1.4"/>
<line x1="301.2" y1="358.9" x2="301.2" y2="366.9" stroke="#8c8c8c" stroke-width="1.3"/>
<line x1="299.9" y1="358.9" x2="302.5" y2="358.9" stroke="#3c3c3c" stroke-width="1.4"/>
<line x1="299.9" y1="366.9" x2="302.5" y2="366.9" stroke="#3c3c3c" stroke-width="1.4"/>
<line x1="147.0" y1="389.5" x2="147.0" y2="394.5" stroke="#8c8c8c" stroke-width="1.3"/>
<line x1="145.7" y1="389.5" x2="148.3" y2="389.5" stroke="#3c3c3c" stroke-width="1.4"/>
<line x1="145.7" y1="394.5" x2="148.3" y2="394.5" stroke="#3c3c3c" stroke-width="1.4"/>
<line x1="185.5" y1="386.9" x2="185.5" y2="388.9" stroke="#8c8c8c" stroke-width="1.3"/>
<line x1="184.2" y1="386.9" x2="186.8" y2="386.9" stroke="#3c3c3c" stroke-width="1.4"/>
<line x1="184.2" y1="388.9" x2="186.8" y2="388.9" stroke="#3c3c3c" stroke-width="1.4"/>
<line x1="224.1" y1="383.4" x2="224.1" y2="393.4" stroke="#8c8c8c" stroke-width="1.3"/>
<line x1="222.8" y1="383.4" x2="225.4" y2="383.4" stroke="#3c3c3c" stroke-width="1.4"/>
<line x1="222.8" y1="393.4" x2="225.4" y2="393.4" stroke="#3c3c3c" stroke-width="1.4"/>
<line x1="262.6" y1="370.1" x2="262.6" y2="376.1" stroke="#8c8c8c" stroke-width="1.3"/>
<line x1="261.3" y1="370.1" x2="263.9" y2="370.1" stroke="#3c3c3c" stroke-width="1.4"/>
<line x1="261.3" y1="376.1" x2="263.9" y2="376.1" stroke="#3c3c3c" stroke-width="1.4"/>
<line x1="301.2" y1="375.4" x2="301.2" y2="382.4" stroke="#8c8c8c" stroke-width="1.3"/>
<line x1="299.9" y1="375.4" x2="302.5" y2="375.4" stroke="#3c3c3c" stroke-width="1.4"/>
<line x1="299.9" y1="382.4" x2="302.5" y2="382.4" stroke="#3c3c3c" stroke-width="1.4"/>
<line x1="147.0" y1="402.5" x2="147.0" y2="407.5" stroke="#8c8c8c" stroke-width="1.3"/>
<line x1="145.7" y1="402.5" x2="148.3" y2="402.5" stroke="#3c3c3c" stroke-width="1.4"/>
<line x1="145.7" y1="407.5" x2="148.3" y2="407.5" stroke="#3c3c3c" stroke-width="1.4"/>
<line x1="185.5" y1="421.5" x2="185.5" y2="424.5" stroke="#8c8c8c" stroke-width="1.3"/>
<line x1="184.2" y1="421.5" x2="186.8" y2="421.5" stroke="#3c3c3c" stroke-width="1.4"/>
<line x1="184.2" y1="424.5" x2="186.8" y2="424.5" stroke="#3c3c3c" stroke-width="1.4"/>
<line x1="224.1" y1="410.2" x2="224.1" y2="416.2" stroke="#8c8c8c" stroke-width="1.3"/>
<line x1="222.8" y1="410.2" x2="225.4" y2="410.2" stroke="#3c3c3c" stroke-width="1.4"/>
<line x1="222.8" y1="416.2" x2="225.4" y2="416.2" stroke="#3c3c3c" stroke-width="1.4"/>
<line x1="262.6" y1="385.5" x2="262.6" y2="388.5" stroke="#8c8c8c" stroke-width="1.3"/>
<line x1="261.3" y1="385.5" x2="263.9" y2="385.5" stroke="#3c3c3c" stroke-width="1.4"/>
<line x1="261.3" y1="388.5" x2="263.9" y2="388.5" stroke="#3c3c3c" stroke-width="1.4"/>
<line x1="301.2" y1="378.6" x2="301.2" y2="383.6" stroke="#8c8c8c" stroke-width="1.3"/>
<line x1="299.9" y1="378.6" x2="302.5" y2="378.6" stroke="#3c3c3c" stroke-width="1.4"/>
<line x1="299.9" y1="383.6" x2="302.5" y2="383.6" stroke="#3c3c3c" stroke-width="1.4"/>
<line x1="262.6" y1="333.4" x2="262.6" y2="424.9" stroke="#8c8c8c" stroke-width="1.3"/>
<line x1="261.3" y1="333.4" x2="263.9" y2="333.4" stroke="#3c3c3c" stroke-width="1.4"/>
<line x1="261.3" y1="424.9" x2="263.9" y2="424.9" stroke="#3c3c3c" stroke-width="1.4"/>
<line x1="301.2" y1="399.0" x2="301.2" y2="428.0" stroke="#8c8c8c" stroke-width="1.3"/>
<line x1="299.9" y1="399.0" x2="302.5" y2="399.0" stroke="#3c3c3c" stroke-width="1.4"/>
<line x1="299.9" y1="428.0" x2="302.5" y2="428.0" stroke="#3c3c3c" stroke-width="1.4"/>
<line x1="301.2" y1="295.8" x2="301.2" y2="306.0" stroke="#8c8c8c" stroke-width="1.3"/>
<line x1="299.9" y1="295.8" x2="302.5" y2="295.8" stroke="#3c3c3c" stroke-width="1.4"/>
<line x1="299.9" y1="306.0" x2="302.5" y2="306.0" stroke="#3c3c3c" stroke-width="1.4"/>
<line x1="185.5" y1="327.9" x2="185.5" y2="350.0" stroke="#8c8c8c" stroke-width="1.3"/>
<line x1="184.2" y1="327.9" x2="186.8" y2="327.9" stroke="#3c3c3c" stroke-width="1.4"/>
<line x1="184.2" y1="350.0" x2="186.8" y2="350.0" stroke="#3c3c3c" stroke-width="1.4"/>
<line x1="224.1" y1="331.7" x2="224.1" y2="354.0" stroke="#8c8c8c" stroke-width="1.3"/>
<line x1="222.8" y1="331.7" x2="225.4" y2="331.7" stroke="#3c3c3c" stroke-width="1.4"/>
<line x1="222.8" y1="354.0" x2="225.4" y2="354.0" stroke="#3c3c3c" stroke-width="1.4"/>
<line x1="147.0" y1="383.0" x2="147.0" y2="425.0" stroke="#8c8c8c" stroke-width="1.3"/>
<line x1="145.7" y1="383.0" x2="148.3" y2="383.0" stroke="#3c3c3c" stroke-width="1.4"/>
<line x1="145.7" y1="425.0" x2="148.3" y2="425.0" stroke="#3c3c3c" stroke-width="1.4"/>
<line x1="108.4" y1="388.3" x2="108.4" y2="411.9" stroke="#8c8c8c" stroke-width="1.3"/>
<line x1="107.1" y1="388.3" x2="109.7" y2="388.3" stroke="#3c3c3c" stroke-width="1.4"/>
<line x1="107.1" y1="411.9" x2="109.7" y2="411.9" stroke="#3c3c3c" stroke-width="1.4"/>
<line x1="108.4" y1="393.0" x2="108.4" y2="409.0" stroke="#8c8c8c" stroke-width="1.3"/>
<line x1="107.1" y1="393.0" x2="109.7" y2="393.0" stroke="#3c3c3c" stroke-width="1.4"/>
<line x1="107.1" y1="409.0" x2="109.7" y2="409.0" stroke="#3c3c3c" stroke-width="1.4"/>
<circle cx="147.0" cy="388.6" r="2.6" fill="#d83caa"/>
<circle cx="185.5" cy="338.2" r="2.6" fill="#d83caa"/>
<circle cx="224.1" cy="346.1" r="2.6" fill="#d83caa"/>
<circle cx="262.6" cy="323.9" r="2.6" fill="#d83caa"/>
<circle cx="301.2" cy="301.6" r="2.6" fill="#d83caa"/>
<circle cx="147.0" cy="420.0" r="2.6" fill="#d83caa"/>
<circle cx="185.5" cy="353.3" r="2.6" fill="#d83caa"/>
<circle cx="224.1" cy="346.1" r="2.6" fill="#d83caa"/>
<circle cx="262.6" cy="376.7" r="2.6" fill="#d83caa"/>
<circle cx="301.2" cy="413.2" r="2.6" fill="#d83caa"/>
<circle cx="147.0" cy="390.8" r="2.6" fill="#d83caa"/>
<circle cx="185.5" cy="379.1" r="2.6" fill="#d83caa"/>
<circle cx="224.1" cy="360.7" r="2.6" fill="#d83caa"/>
<circle cx="262.6" cy="350.9" r="2.6" fill="#d83caa"/>
<circle cx="301.2" cy="373.8" r="2.6" fill="#d83caa"/>
<circle cx="147.0" cy="397.4" r="2.6" fill="#d83caa"/>
<circle cx="185.5" cy="397.1" r="2.6" fill="#d83caa"/>
<circle cx="224.1" cy="368.7" r="2.6" fill="#d83caa"/>
<circle cx="262.6" cy="359.2" r="2.6" fill="#d83caa"/>
<circle cx="301.2" cy="346.8" r="2.6" fill="#d83caa"/>
<circle cx="147.0" cy="390.0" r="2.6" fill="#d83caa"/>
<circle cx="185.5" cy="382.8" r="2.6" fill="#d83caa"/>
<circle cx="224.1" cy="386.2" r="2.6" fill="#d83caa"/>
<circle cx="262.6" cy="368.0" r="2.6" fill="#d83caa"/>
<circle cx="301.2" cy="362.9" r="2.6" fill="#d83caa"/>
<circle cx="147.0" cy="392.0" r="2.6" fill="#d83caa"/>
<circle cx="185.5" cy="387.9" r="2.6" fill="#d83caa"/>
<circle cx="224.1" cy="388.4" r="2.6" fill="#d83caa"/>
<circle cx="262.6" cy="373.1" r="2.6" fill="#d83caa"/>
<circle cx="301.2" cy="378.9" r="2.6" fill="#d83caa"/>
<circle cx="147.0" cy="405.0" r="2.6" fill="#d83caa"/>
<circle cx="185.5" cy="423.0" r="2.6" fill="#d83caa"/>
<circle cx="224.1" cy="413.2" r="2.6" fill="#d83caa"/>
<circle cx="262.6" cy="387.0" r="2.6" fill="#d83caa"/>
<circle cx="301.2" cy="381.1" r="2.6" fill="#d83caa"/>
<circle cx="108.4" cy="400.1" r="2.6" fill="#067506"/>
<circle cx="147.0" cy="401.2" r="2.6" fill="#067506"/>
<circle cx="185.5" cy="409.9" r="2.6" fill="#067506"/>
<circle cx="224.1" cy="398.7" r="2.6" fill="#067506"/>
<circle cx="262.6" cy="437.6" r="2.6" fill="#067506"/>
<circle cx="301.2" cy="449.6" r="2.6" fill="#067506"/>
<circle cx="108.4" cy="400.1" r="2.6" fill="#067506"/>
<circle cx="147.0" cy="407.4" r="2.6" fill="#067506"/>
<circle cx="185.5" cy="422.3" r="2.6" fill="#067506"/>
<circle cx="224.1" cy="413.6" r="2.6" fill="#067506"/>
<circle cx="262.6" cy="445.1" r="2.6" fill="#067506"/>
<circle cx="301.2" cy="452.0" r="2.6" fill="#067506"/>
<circle cx="108.4" cy="400.1" r="2.6" fill="#067506"/>
<circle cx="147.0" cy="413.6" r="2.6" fill="#067506"/>
<circle cx="185.5" cy="424.7" r="2.6" fill="#067506"/>
<circle cx="224.1" cy="429.2" r="2.6" fill="#067506"/>
<circle cx="262.6" cy="452.5" r="2.6" fill="#067506"/>
<circle cx="301.2" cy="455.0" r="2.6" fill="#067506"/>
<circle cx="108.4" cy="400.1" r="2.6" fill="#067506"/>
<circle cx="147.0" cy="421.0" r="2.6" fill="#067506"/>
<circle cx="185.5" cy="424.0" r="2.6" fill="#067506"/>
<circle cx="224.1" cy="449.0" r="2.6" fill="#067506"/>
<circle cx="262.6" cy="459.0" r="2.6" fill="#067506"/>
<circle cx="301.2" cy="463.2" r="2.6" fill="#067506"/>
<circle cx="108.4" cy="400.1" r="2.6" fill="#067506"/>
<circle cx="147.0" cy="444.1" r="2.6" fill="#067506"/>
<circle cx="185.5" cy="445.1" r="2.6" fill="#067506"/>
<circle cx="224.1" cy="458.2" r="2.6" fill="#067506"/>
<circle cx="262.6" cy="462.5" r="2.6" fill="#067506"/>
<circle cx="301.2" cy="469.9" r="2.6" fill="#067506"/>
<circle cx="108.4" cy="400.1" r="2.6" fill="#067506"/>
<circle cx="147.0" cy="447.6" r="2.6" fill="#067506"/>
<circle cx="185.5" cy="449.0" r="2.6" fill="#067506"/>
<circle cx="224.1" cy="465.7" r="2.6" fill="#067506"/>
<circle cx="262.6" cy="470.6" r="2.6" fill="#067506"/>
<circle cx="301.2" cy="472.4" r="2.6" fill="#067506"/>
<circle cx="108.4" cy="400.1" r="2.6" fill="#067506"/>
<circle cx="147.0" cy="452.0" r="2.6" fill="#067506"/>
<circle cx="185.5" cy="453.3" r="2.6" fill="#067506"/>
<circle cx="224.1" cy="474.0" r="2.6" fill="#067506"/>
<circle cx="262.6" cy="476.5" r="2.6" fill="#067506"/>
<circle cx="301.2" cy="474.9" r="2.6" fill="#067506"/>
<rect x="70.2" y="289.5" width="269.9" height="201.9" fill="none" stroke="#909090" stroke-width="1.7" stroke-linejoin="round"/>
<line x1="70.2" y1="491.4" x2="73.0" y2="491.4" stroke="#909090" stroke-width="1.2"/>
<text x="63.9" y="496.1" text-anchor="end" class="t">0</text>
<line x1="70.2" y1="445.5" x2="73.0" y2="445.5" stroke="#909090" stroke-width="1.2"/>
<text x="63.9" y="450.2" text-anchor="end" class="t">50</text>
<line x1="70.2" y1="399.6" x2="73.0" y2="399.6" stroke="#909090" stroke-width="1.2"/>
<text x="63.9" y="404.3" text-anchor="end" class="t">100</text>
<line x1="70.2" y1="353.7" x2="73.0" y2="353.7" stroke="#909090" stroke-width="1.2"/>
<text x="63.9" y="358.4" text-anchor="end" class="t">150</text>
<line x1="70.2" y1="307.8" x2="73.0" y2="307.8" stroke="#909090" stroke-width="1.2"/>
<text x="63.9" y="312.5" text-anchor="end" class="t">200</text>
<line x1="108.4" y1="491.4" x2="108.4" y2="488.6" stroke="#909090" stroke-width="1.2"/>
<text x="108.4" y="507.7" text-anchor="middle" class="t">0</text>
<line x1="147.0" y1="491.4" x2="147.0" y2="488.6" stroke="#909090" stroke-width="1.2"/>
<text x="147.6" y="507.7" text-anchor="middle" class="t">1:640</text>
<line x1="185.5" y1="491.4" x2="185.5" y2="488.6" stroke="#909090" stroke-width="1.2"/>
<text x="186.1" y="507.7" text-anchor="middle" class="t">1:320</text>
<line x1="224.1" y1="491.4" x2="224.1" y2="488.6" stroke="#909090" stroke-width="1.2"/>
<text x="224.7" y="507.7" text-anchor="middle" class="t">1:160</text>
<line x1="262.6" y1="491.4" x2="262.6" y2="488.6" stroke="#909090" stroke-width="1.2"/>
<text x="263.2" y="507.7" text-anchor="middle" class="t">1:80</text>
<line x1="301.2" y1="491.4" x2="301.2" y2="488.6" stroke="#909090" stroke-width="1.2"/>
<text x="301.8" y="507.7" text-anchor="middle" class="t">1:40</text>
<text x="205.2" y="525.9" text-anchor="middle" class="t">[Serum] (dilution)</text>
<text transform="translate(29.9,390.4) rotate(-90)" x="0" y="0" text-anchor="middle" class="t">Viral infection (%)</text>
<text x="77.7" y="308.5" class="h">HIV-1<tspan class="s" dy="4.2">JR-FL</tspan></text>
<line x1="309.2" y1="296.7" x2="309.2" y2="421.3" stroke="#3a3a3a" stroke-width="2"/>
<line x1="309.2" y1="446.5" x2="309.2" y2="478.8" stroke="#3a3a3a" stroke-width="2"/>
<text transform="translate(326.8,427.5) rotate(-90)" text-anchor="middle" class="pv"><tspan font-style="italic">P</tspan> = 0.0002</text>
<polyline points="452.4,385.1 491.0,340.1 529.5,305.4 568.1,350.7 606.6,348.3 645.2,356.5" fill="none" stroke="#78a883" stroke-width="1.25" stroke-opacity="0.85"/>
<polyline points="452.4,385.1 491.0,348.1 529.5,346.5 568.1,356.5 606.6,355.6 645.2,385.7" fill="none" stroke="#78a883" stroke-width="1.25" stroke-opacity="0.85"/>
<polyline points="452.4,385.1 491.0,357.7 529.5,334.2 568.1,372.9 606.6,365.3 645.2,393.9" fill="none" stroke="#78a883" stroke-width="1.25" stroke-opacity="0.85"/>
<polyline points="452.4,385.1 491.0,374.6 529.5,359.2 568.1,383.9 606.6,374.4 645.2,398.5" fill="none" stroke="#78a883" stroke-width="1.25" stroke-opacity="0.85"/>
<polyline points="452.4,385.1 491.0,388.2 529.5,374.7 568.1,389.3 606.6,387.5 645.2,404.3" fill="none" stroke="#78a883" stroke-width="1.25" stroke-opacity="0.85"/>
<polyline points="452.4,385.1 491.0,394.6 529.5,380.2 568.1,408.0 606.6,395.7 645.2,409.8" fill="none" stroke="#78a883" stroke-width="1.25" stroke-opacity="0.85"/>
<polyline points="452.4,385.1 491.0,397.8 529.5,389.3 568.1,383.9 606.6,403.0 645.2,426.2" fill="none" stroke="#78a883" stroke-width="1.25" stroke-opacity="0.85"/>
<polyline points="452.4,385.1 491.0,399.4 529.5,400.7 568.1,389.3 606.6,399.0 645.2,409.8" fill="none" stroke="#78a883" stroke-width="1.25" stroke-opacity="0.85"/>
<polyline points="452.4,385.1 491.0,344.0 529.5,365.6 568.1,336.8 606.6,380.2 645.2,369.3" fill="none" stroke="#cc98c2" stroke-width="1.25" stroke-opacity="0.85"/>
<polyline points="452.4,385.1 491.0,352.9 529.5,383.9 568.1,336.8 606.6,380.2 645.2,369.3" fill="none" stroke="#cc98c2" stroke-width="1.25" stroke-opacity="0.85"/>
<polyline points="452.4,385.1 491.0,362.5 529.5,394.5 568.1,365.6 606.6,415.8 645.2,381.1" fill="none" stroke="#cc98c2" stroke-width="1.25" stroke-opacity="0.85"/>
<polyline points="452.4,385.1 491.0,367.4 529.5,365.6 568.1,403.0 606.6,424.0 645.2,414.0" fill="none" stroke="#cc98c2" stroke-width="1.25" stroke-opacity="0.85"/>
<polyline points="452.4,385.1 491.0,386.0 529.5,409.4 568.1,403.0 606.6,415.8 645.2,429.5" fill="none" stroke="#cc98c2" stroke-width="1.25" stroke-opacity="0.85"/>
<polyline points="452.4,385.1 491.0,413.1 529.5,383.9 568.1,365.6 606.6,380.2 645.2,397.0" fill="none" stroke="#cc98c2" stroke-width="1.25" stroke-opacity="0.85"/>
<line x1="491.0" y1="337.1" x2="491.0" y2="343.1" stroke="#8c8c8c" stroke-width="1.3"/>
<line x1="489.7" y1="337.1" x2="492.3" y2="337.1" stroke="#3c3c3c" stroke-width="1.4"/>
<line x1="489.7" y1="343.1" x2="492.3" y2="343.1" stroke="#3c3c3c" stroke-width="1.4"/>
<line x1="529.5" y1="302.4" x2="529.5" y2="308.4" stroke="#8c8c8c" stroke-width="1.3"/>
<line x1="528.2" y1="302.4" x2="530.8" y2="302.4" stroke="#3c3c3c" stroke-width="1.4"/>
<line x1="528.2" y1="308.4" x2="530.8" y2="308.4" stroke="#3c3c3c" stroke-width="1.4"/>
<line x1="568.1" y1="344.7" x2="568.1" y2="356.7" stroke="#8c8c8c" stroke-width="1.3"/>
<line x1="566.8" y1="344.7" x2="569.4" y2="344.7" stroke="#3c3c3c" stroke-width="1.4"/>
<line x1="566.8" y1="356.7" x2="569.4" y2="356.7" stroke="#3c3c3c" stroke-width="1.4"/>
<line x1="606.6" y1="338.3" x2="606.6" y2="358.3" stroke="#8c8c8c" stroke-width="1.3"/>
<line x1="605.3" y1="338.3" x2="607.9" y2="338.3" stroke="#3c3c3c" stroke-width="1.4"/>
<line x1="605.3" y1="358.3" x2="607.9" y2="358.3" stroke="#3c3c3c" stroke-width="1.4"/>
<line x1="645.2" y1="353.5" x2="645.2" y2="359.5" stroke="#8c8c8c" stroke-width="1.3"/>
<line x1="643.9" y1="353.5" x2="646.5" y2="353.5" stroke="#3c3c3c" stroke-width="1.4"/>
<line x1="643.9" y1="359.5" x2="646.5" y2="359.5" stroke="#3c3c3c" stroke-width="1.4"/>
<line x1="491.0" y1="345.1" x2="491.0" y2="351.1" stroke="#8c8c8c" stroke-width="1.3"/>
<line x1="489.7" y1="345.1" x2="492.3" y2="345.1" stroke="#3c3c3c" stroke-width="1.4"/>
<line x1="489.7" y1="351.1" x2="492.3" y2="351.1" stroke="#3c3c3c" stroke-width="1.4"/>
<line x1="529.5" y1="334.5" x2="529.5" y2="358.5" stroke="#8c8c8c" stroke-width="1.3"/>
<line x1="528.2" y1="334.5" x2="530.8" y2="334.5" stroke="#3c3c3c" stroke-width="1.4"/>
<line x1="528.2" y1="358.5" x2="530.8" y2="358.5" stroke="#3c3c3c" stroke-width="1.4"/>
<line x1="568.1" y1="352.5" x2="568.1" y2="360.5" stroke="#8c8c8c" stroke-width="1.3"/>
<line x1="566.8" y1="352.5" x2="569.4" y2="352.5" stroke="#3c3c3c" stroke-width="1.4"/>
<line x1="566.8" y1="360.5" x2="569.4" y2="360.5" stroke="#3c3c3c" stroke-width="1.4"/>
<line x1="606.6" y1="350.6" x2="606.6" y2="360.6" stroke="#8c8c8c" stroke-width="1.3"/>
<line x1="605.3" y1="350.6" x2="607.9" y2="350.6" stroke="#3c3c3c" stroke-width="1.4"/>
<line x1="605.3" y1="360.6" x2="607.9" y2="360.6" stroke="#3c3c3c" stroke-width="1.4"/>
<line x1="645.2" y1="378.7" x2="645.2" y2="392.7" stroke="#8c8c8c" stroke-width="1.3"/>
<line x1="643.9" y1="378.7" x2="646.5" y2="378.7" stroke="#3c3c3c" stroke-width="1.4"/>
<line x1="643.9" y1="392.7" x2="646.5" y2="392.7" stroke="#3c3c3c" stroke-width="1.4"/>
<line x1="491.0" y1="351.7" x2="491.0" y2="363.7" stroke="#8c8c8c" stroke-width="1.3"/>
<line x1="489.7" y1="351.7" x2="492.3" y2="351.7" stroke="#3c3c3c" stroke-width="1.4"/>
<line x1="489.7" y1="363.7" x2="492.3" y2="363.7" stroke="#3c3c3c" stroke-width="1.4"/>
<line x1="529.5" y1="331.2" x2="529.5" y2="337.2" stroke="#8c8c8c" stroke-width="1.3"/>
<line x1="528.2" y1="331.2" x2="530.8" y2="331.2" stroke="#3c3c3c" stroke-width="1.4"/>
<line x1="528.2" y1="337.2" x2="530.8" y2="337.2" stroke="#3c3c3c" stroke-width="1.4"/>
<line x1="568.1" y1="362.9" x2="568.1" y2="382.9" stroke="#8c8c8c" stroke-width="1.3"/>
<line x1="566.8" y1="362.9" x2="569.4" y2="362.9" stroke="#3c3c3c" stroke-width="1.4"/>
<line x1="566.8" y1="382.9" x2="569.4" y2="382.9" stroke="#3c3c3c" stroke-width="1.4"/>
<line x1="606.6" y1="362.3" x2="606.6" y2="368.3" stroke="#8c8c8c" stroke-width="1.3"/>
<line x1="605.3" y1="362.3" x2="607.9" y2="362.3" stroke="#3c3c3c" stroke-width="1.4"/>
<line x1="605.3" y1="368.3" x2="607.9" y2="368.3" stroke="#3c3c3c" stroke-width="1.4"/>
<line x1="645.2" y1="389.9" x2="645.2" y2="397.9" stroke="#8c8c8c" stroke-width="1.3"/>
<line x1="643.9" y1="389.9" x2="646.5" y2="389.9" stroke="#3c3c3c" stroke-width="1.4"/>
<line x1="643.9" y1="397.9" x2="646.5" y2="397.9" stroke="#3c3c3c" stroke-width="1.4"/>
<line x1="491.0" y1="366.6" x2="491.0" y2="382.6" stroke="#8c8c8c" stroke-width="1.3"/>
<line x1="489.7" y1="366.6" x2="492.3" y2="366.6" stroke="#3c3c3c" stroke-width="1.4"/>
<line x1="489.7" y1="382.6" x2="492.3" y2="382.6" stroke="#3c3c3c" stroke-width="1.4"/>
<line x1="529.5" y1="354.2" x2="529.5" y2="364.2" stroke="#8c8c8c" stroke-width="1.3"/>
<line x1="528.2" y1="354.2" x2="530.8" y2="354.2" stroke="#3c3c3c" stroke-width="1.4"/>
<line x1="528.2" y1="364.2" x2="530.8" y2="364.2" stroke="#3c3c3c" stroke-width="1.4"/>
<line x1="568.1" y1="376.9" x2="568.1" y2="390.9" stroke="#8c8c8c" stroke-width="1.3"/>
<line x1="566.8" y1="376.9" x2="569.4" y2="376.9" stroke="#3c3c3c" stroke-width="1.4"/>
<line x1="566.8" y1="390.9" x2="569.4" y2="390.9" stroke="#3c3c3c" stroke-width="1.4"/>
<line x1="606.6" y1="362.4" x2="606.6" y2="386.4" stroke="#8c8c8c" stroke-width="1.3"/>
<line x1="605.3" y1="362.4" x2="607.9" y2="362.4" stroke="#3c3c3c" stroke-width="1.4"/>
<line x1="605.3" y1="386.4" x2="607.9" y2="386.4" stroke="#3c3c3c" stroke-width="1.4"/>
<line x1="645.2" y1="395.5" x2="645.2" y2="401.5" stroke="#8c8c8c" stroke-width="1.3"/>
<line x1="643.9" y1="395.5" x2="646.5" y2="395.5" stroke="#3c3c3c" stroke-width="1.4"/>
<line x1="643.9" y1="401.5" x2="646.5" y2="401.5" stroke="#3c3c3c" stroke-width="1.4"/>
<line x1="491.0" y1="380.2" x2="491.0" y2="396.2" stroke="#8c8c8c" stroke-width="1.3"/>
<line x1="489.7" y1="380.2" x2="492.3" y2="380.2" stroke="#3c3c3c" stroke-width="1.4"/>
<line x1="489.7" y1="396.2" x2="492.3" y2="396.2" stroke="#3c3c3c" stroke-width="1.4"/>
<line x1="529.5" y1="368.7" x2="529.5" y2="380.7" stroke="#8c8c8c" stroke-width="1.3"/>
<line x1="528.2" y1="368.7" x2="530.8" y2="368.7" stroke="#3c3c3c" stroke-width="1.4"/>
<line x1="528.2" y1="380.7" x2="530.8" y2="380.7" stroke="#3c3c3c" stroke-width="1.4"/>
<line x1="568.1" y1="383.3" x2="568.1" y2="395.3" stroke="#8c8c8c" stroke-width="1.3"/>
<line x1="566.8" y1="383.3" x2="569.4" y2="383.3" stroke="#3c3c3c" stroke-width="1.4"/>
<line x1="566.8" y1="395.3" x2="569.4" y2="395.3" stroke="#3c3c3c" stroke-width="1.4"/>
<line x1="606.6" y1="383.5" x2="606.6" y2="391.5" stroke="#8c8c8c" stroke-width="1.3"/>
<line x1="605.3" y1="383.5" x2="607.9" y2="383.5" stroke="#3c3c3c" stroke-width="1.4"/>
<line x1="605.3" y1="391.5" x2="607.9" y2="391.5" stroke="#3c3c3c" stroke-width="1.4"/>
<line x1="645.2" y1="400.3" x2="645.2" y2="408.3" stroke="#8c8c8c" stroke-width="1.3"/>
<line x1="643.9" y1="400.3" x2="646.5" y2="400.3" stroke="#3c3c3c" stroke-width="1.4"/>
<line x1="643.9" y1="408.3" x2="646.5" y2="408.3" stroke="#3c3c3c" stroke-width="1.4"/>
<line x1="491.0" y1="389.6" x2="491.0" y2="399.6" stroke="#8c8c8c" stroke-width="1.3"/>
<line x1="489.7" y1="389.6" x2="492.3" y2="389.6" stroke="#3c3c3c" stroke-width="1.4"/>
<line x1="489.7" y1="399.6" x2="492.3" y2="399.6" stroke="#3c3c3c" stroke-width="1.4"/>
<line x1="529.5" y1="374.2" x2="529.5" y2="386.2" stroke="#8c8c8c" stroke-width="1.3"/>
<line x1="528.2" y1="374.2" x2="530.8" y2="374.2" stroke="#3c3c3c" stroke-width="1.4"/>
<line x1="528.2" y1="386.2" x2="530.8" y2="386.2" stroke="#3c3c3c" stroke-width="1.4"/>
<line x1="568.1" y1="401.0" x2="568.1" y2="415.0" stroke="#8c8c8c" stroke-width="1.3"/>
<line x1="566.8" y1="401.0" x2="569.4" y2="401.0" stroke="#3c3c3c" stroke-width="1.4"/>
<line x1="566.8" y1="415.0" x2="569.4" y2="415.0" stroke="#3c3c3c" stroke-width="1.4"/>
<line x1="606.6" y1="390.7" x2="606.6" y2="400.7" stroke="#8c8c8c" stroke-width="1.3"/>
<line x1="605.3" y1="390.7" x2="607.9" y2="390.7" stroke="#3c3c3c" stroke-width="1.4"/>
<line x1="605.3" y1="400.7" x2="607.9" y2="400.7" stroke="#3c3c3c" stroke-width="1.4"/>
<line x1="645.2" y1="406.8" x2="645.2" y2="412.8" stroke="#8c8c8c" stroke-width="1.3"/>
<line x1="643.9" y1="406.8" x2="646.5" y2="406.8" stroke="#3c3c3c" stroke-width="1.4"/>
<line x1="643.9" y1="412.8" x2="646.5" y2="412.8" stroke="#3c3c3c" stroke-width="1.4"/>
<line x1="491.0" y1="385.8" x2="491.0" y2="409.8" stroke="#8c8c8c" stroke-width="1.3"/>
<line x1="489.7" y1="385.8" x2="492.3" y2="385.8" stroke="#3c3c3c" stroke-width="1.4"/>
<line x1="489.7" y1="409.8" x2="492.3" y2="409.8" stroke="#3c3c3c" stroke-width="1.4"/>
<line x1="529.5" y1="379.3" x2="529.5" y2="399.3" stroke="#8c8c8c" stroke-width="1.3"/>
<line x1="528.2" y1="379.3" x2="530.8" y2="379.3" stroke="#3c3c3c" stroke-width="1.4"/>
<line x1="528.2" y1="399.3" x2="530.8" y2="399.3" stroke="#3c3c3c" stroke-width="1.4"/>
<line x1="568.1" y1="380.9" x2="568.1" y2="386.9" stroke="#8c8c8c" stroke-width="1.3"/>
<line x1="566.8" y1="380.9" x2="569.4" y2="380.9" stroke="#3c3c3c" stroke-width="1.4"/>
<line x1="566.8" y1="386.9" x2="569.4" y2="386.9" stroke="#3c3c3c" stroke-width="1.4"/>
<line x1="606.6" y1="396.0" x2="606.6" y2="410.0" stroke="#8c8c8c" stroke-width="1.3"/>
<line x1="605.3" y1="396.0" x2="607.9" y2="396.0" stroke="#3c3c3c" stroke-width="1.4"/>
<line x1="605.3" y1="410.0" x2="607.9" y2="410.0" stroke="#3c3c3c" stroke-width="1.4"/>
<line x1="645.2" y1="420.2" x2="645.2" y2="432.2" stroke="#8c8c8c" stroke-width="1.3"/>
<line x1="643.9" y1="420.2" x2="646.5" y2="420.2" stroke="#3c3c3c" stroke-width="1.4"/>
<line x1="643.9" y1="432.2" x2="646.5" y2="432.2" stroke="#3c3c3c" stroke-width="1.4"/>
<line x1="491.0" y1="392.4" x2="491.0" y2="406.4" stroke="#8c8c8c" stroke-width="1.3"/>
<line x1="489.7" y1="392.4" x2="492.3" y2="392.4" stroke="#3c3c3c" stroke-width="1.4"/>
<line x1="489.7" y1="406.4" x2="492.3" y2="406.4" stroke="#3c3c3c" stroke-width="1.4"/>
<line x1="529.5" y1="390.7" x2="529.5" y2="410.7" stroke="#8c8c8c" stroke-width="1.3"/>
<line x1="528.2" y1="390.7" x2="530.8" y2="390.7" stroke="#3c3c3c" stroke-width="1.4"/>
<line x1="528.2" y1="410.7" x2="530.8" y2="410.7" stroke="#3c3c3c" stroke-width="1.4"/>
<line x1="568.1" y1="386.3" x2="568.1" y2="392.3" stroke="#8c8c8c" stroke-width="1.3"/>
<line x1="566.8" y1="386.3" x2="569.4" y2="386.3" stroke="#3c3c3c" stroke-width="1.4"/>
<line x1="566.8" y1="392.3" x2="569.4" y2="392.3" stroke="#3c3c3c" stroke-width="1.4"/>
<line x1="606.6" y1="387.0" x2="606.6" y2="411.0" stroke="#8c8c8c" stroke-width="1.3"/>
<line x1="605.3" y1="387.0" x2="607.9" y2="387.0" stroke="#3c3c3c" stroke-width="1.4"/>
<line x1="605.3" y1="411.0" x2="607.9" y2="411.0" stroke="#3c3c3c" stroke-width="1.4"/>
<line x1="645.2" y1="401.8" x2="645.2" y2="417.8" stroke="#8c8c8c" stroke-width="1.3"/>
<line x1="643.9" y1="401.8" x2="646.5" y2="401.8" stroke="#3c3c3c" stroke-width="1.4"/>
<line x1="643.9" y1="417.8" x2="646.5" y2="417.8" stroke="#3c3c3c" stroke-width="1.4"/>
<line x1="491.0" y1="341.0" x2="491.0" y2="347.0" stroke="#8c8c8c" stroke-width="1.3"/>
<line x1="489.7" y1="341.0" x2="492.3" y2="341.0" stroke="#3c3c3c" stroke-width="1.4"/>
<line x1="489.7" y1="347.0" x2="492.3" y2="347.0" stroke="#3c3c3c" stroke-width="1.4"/>
<line x1="529.5" y1="362.6" x2="529.5" y2="368.6" stroke="#8c8c8c" stroke-width="1.3"/>
<line x1="528.2" y1="362.6" x2="530.8" y2="362.6" stroke="#3c3c3c" stroke-width="1.4"/>
<line x1="528.2" y1="368.6" x2="530.8" y2="368.6" stroke="#3c3c3c" stroke-width="1.4"/>
<line x1="568.1" y1="331.8" x2="568.1" y2="341.8" stroke="#8c8c8c" stroke-width="1.3"/>
<line x1="566.8" y1="331.8" x2="569.4" y2="331.8" stroke="#3c3c3c" stroke-width="1.4"/>
<line x1="566.8" y1="341.8" x2="569.4" y2="341.8" stroke="#3c3c3c" stroke-width="1.4"/>
<line x1="606.6" y1="377.2" x2="606.6" y2="383.2" stroke="#8c8c8c" stroke-width="1.3"/>
<line x1="605.3" y1="377.2" x2="607.9" y2="377.2" stroke="#3c3c3c" stroke-width="1.4"/>
<line x1="605.3" y1="383.2" x2="607.9" y2="383.2" stroke="#3c3c3c" stroke-width="1.4"/>
<line x1="645.2" y1="365.3" x2="645.2" y2="373.3" stroke="#8c8c8c" stroke-width="1.3"/>
<line x1="643.9" y1="365.3" x2="646.5" y2="365.3" stroke="#3c3c3c" stroke-width="1.4"/>
<line x1="643.9" y1="373.3" x2="646.5" y2="373.3" stroke="#3c3c3c" stroke-width="1.4"/>
<line x1="491.0" y1="349.9" x2="491.0" y2="355.9" stroke="#8c8c8c" stroke-width="1.3"/>
<line x1="489.7" y1="349.9" x2="492.3" y2="349.9" stroke="#3c3c3c" stroke-width="1.4"/>
<line x1="489.7" y1="355.9" x2="492.3" y2="355.9" stroke="#3c3c3c" stroke-width="1.4"/>
<line x1="529.5" y1="379.9" x2="529.5" y2="387.9" stroke="#8c8c8c" stroke-width="1.3"/>
<line x1="528.2" y1="379.9" x2="530.8" y2="379.9" stroke="#3c3c3c" stroke-width="1.4"/>
<line x1="528.2" y1="387.9" x2="530.8" y2="387.9" stroke="#3c3c3c" stroke-width="1.4"/>
<line x1="568.1" y1="324.8" x2="568.1" y2="348.8" stroke="#8c8c8c" stroke-width="1.3"/>
<line x1="566.8" y1="324.8" x2="569.4" y2="324.8" stroke="#3c3c3c" stroke-width="1.4"/>
<line x1="566.8" y1="348.8" x2="569.4" y2="348.8" stroke="#3c3c3c" stroke-width="1.4"/>
<line x1="606.6" y1="377.2" x2="606.6" y2="383.2" stroke="#8c8c8c" stroke-width="1.3"/>
<line x1="605.3" y1="377.2" x2="607.9" y2="377.2" stroke="#3c3c3c" stroke-width="1.4"/>
<line x1="605.3" y1="383.2" x2="607.9" y2="383.2" stroke="#3c3c3c" stroke-width="1.4"/>
<line x1="645.2" y1="365.3" x2="645.2" y2="373.3" stroke="#8c8c8c" stroke-width="1.3"/>
<line x1="643.9" y1="365.3" x2="646.5" y2="365.3" stroke="#3c3c3c" stroke-width="1.4"/>
<line x1="643.9" y1="373.3" x2="646.5" y2="373.3" stroke="#3c3c3c" stroke-width="1.4"/>
<line x1="491.0" y1="350.5" x2="491.0" y2="374.5" stroke="#8c8c8c" stroke-width="1.3"/>
<line x1="489.7" y1="350.5" x2="492.3" y2="350.5" stroke="#3c3c3c" stroke-width="1.4"/>
<line x1="489.7" y1="374.5" x2="492.3" y2="374.5" stroke="#3c3c3c" stroke-width="1.4"/>
<line x1="529.5" y1="386.5" x2="529.5" y2="402.5" stroke="#8c8c8c" stroke-width="1.3"/>
<line x1="528.2" y1="386.5" x2="530.8" y2="386.5" stroke="#3c3c3c" stroke-width="1.4"/>
<line x1="528.2" y1="402.5" x2="530.8" y2="402.5" stroke="#3c3c3c" stroke-width="1.4"/>
<line x1="568.1" y1="360.6" x2="568.1" y2="370.6" stroke="#8c8c8c" stroke-width="1.3"/>
<line x1="566.8" y1="360.6" x2="569.4" y2="360.6" stroke="#3c3c3c" stroke-width="1.4"/>
<line x1="566.8" y1="370.6" x2="569.4" y2="370.6" stroke="#3c3c3c" stroke-width="1.4"/>
<line x1="606.6" y1="407.8" x2="606.6" y2="423.8" stroke="#8c8c8c" stroke-width="1.3"/>
<line x1="605.3" y1="407.8" x2="607.9" y2="407.8" stroke="#3c3c3c" stroke-width="1.4"/>
<line x1="605.3" y1="423.8" x2="607.9" y2="423.8" stroke="#3c3c3c" stroke-width="1.4"/>
<line x1="645.2" y1="377.1" x2="645.2" y2="385.1" stroke="#8c8c8c" stroke-width="1.3"/>
<line x1="643.9" y1="377.1" x2="646.5" y2="377.1" stroke="#3c3c3c" stroke-width="1.4"/>
<line x1="643.9" y1="385.1" x2="646.5" y2="385.1" stroke="#3c3c3c" stroke-width="1.4"/>
<line x1="491.0" y1="359.4" x2="491.0" y2="375.4" stroke="#8c8c8c" stroke-width="1.3"/>
<line x1="489.7" y1="359.4" x2="492.3" y2="359.4" stroke="#3c3c3c" stroke-width="1.4"/>
<line x1="489.7" y1="375.4" x2="492.3" y2="375.4" stroke="#3c3c3c" stroke-width="1.4"/>
<line x1="529.5" y1="355.6" x2="529.5" y2="375.6" stroke="#8c8c8c" stroke-width="1.3"/>
<line x1="528.2" y1="355.6" x2="530.8" y2="355.6" stroke="#3c3c3c" stroke-width="1.4"/>
<line x1="528.2" y1="375.6" x2="530.8" y2="375.6" stroke="#3c3c3c" stroke-width="1.4"/>
<line x1="568.1" y1="393.0" x2="568.1" y2="413.0" stroke="#8c8c8c" stroke-width="1.3"/>
<line x1="566.8" y1="393.0" x2="569.4" y2="393.0" stroke="#3c3c3c" stroke-width="1.4"/>
<line x1="566.8" y1="413.0" x2="569.4" y2="413.0" stroke="#3c3c3c" stroke-width="1.4"/>
<line x1="606.6" y1="417.0" x2="606.6" y2="431.0" stroke="#8c8c8c" stroke-width="1.3"/>
<line x1="605.3" y1="417.0" x2="607.9" y2="417.0" stroke="#3c3c3c" stroke-width="1.4"/>
<line x1="605.3" y1="431.0" x2="607.9" y2="431.0" stroke="#3c3c3c" stroke-width="1.4"/>
<line x1="645.2" y1="406.0" x2="645.2" y2="422.0" stroke="#8c8c8c" stroke-width="1.3"/>
<line x1="643.9" y1="406.0" x2="646.5" y2="406.0" stroke="#3c3c3c" stroke-width="1.4"/>
<line x1="643.9" y1="422.0" x2="646.5" y2="422.0" stroke="#3c3c3c" stroke-width="1.4"/>
<line x1="491.0" y1="379.0" x2="491.0" y2="393.0" stroke="#8c8c8c" stroke-width="1.3"/>
<line x1="489.7" y1="379.0" x2="492.3" y2="379.0" stroke="#3c3c3c" stroke-width="1.4"/>
<line x1="489.7" y1="393.0" x2="492.3" y2="393.0" stroke="#3c3c3c" stroke-width="1.4"/>
<line x1="529.5" y1="403.4" x2="529.5" y2="415.4" stroke="#8c8c8c" stroke-width="1.3"/>
<line x1="528.2" y1="403.4" x2="530.8" y2="403.4" stroke="#3c3c3c" stroke-width="1.4"/>
<line x1="528.2" y1="415.4" x2="530.8" y2="415.4" stroke="#3c3c3c" stroke-width="1.4"/>
<line x1="568.1" y1="395.0" x2="568.1" y2="411.0" stroke="#8c8c8c" stroke-width="1.3"/>
<line x1="566.8" y1="395.0" x2="569.4" y2="395.0" stroke="#3c3c3c" stroke-width="1.4"/>
<line x1="566.8" y1="411.0" x2="569.4" y2="411.0" stroke="#3c3c3c" stroke-width="1.4"/>
<line x1="606.6" y1="405.8" x2="606.6" y2="425.8" stroke="#8c8c8c" stroke-width="1.3"/>
<line x1="605.3" y1="405.8" x2="607.9" y2="405.8" stroke="#3c3c3c" stroke-width="1.4"/>
<line x1="605.3" y1="425.8" x2="607.9" y2="425.8" stroke="#3c3c3c" stroke-width="1.4"/>
<line x1="645.2" y1="425.5" x2="645.2" y2="433.5" stroke="#8c8c8c" stroke-width="1.3"/>
<line x1="643.9" y1="425.5" x2="646.5" y2="425.5" stroke="#3c3c3c" stroke-width="1.4"/>
<line x1="643.9" y1="433.5" x2="646.5" y2="433.5" stroke="#3c3c3c" stroke-width="1.4"/>
<line x1="491.0" y1="408.1" x2="491.0" y2="418.1" stroke="#8c8c8c" stroke-width="1.3"/>
<line x1="489.7" y1="408.1" x2="492.3" y2="408.1" stroke="#3c3c3c" stroke-width="1.4"/>
<line x1="489.7" y1="418.1" x2="492.3" y2="418.1" stroke="#3c3c3c" stroke-width="1.4"/>
<line x1="529.5" y1="380.9" x2="529.5" y2="386.9" stroke="#8c8c8c" stroke-width="1.3"/>
<line x1="528.2" y1="380.9" x2="530.8" y2="380.9" stroke="#3c3c3c" stroke-width="1.4"/>
<line x1="528.2" y1="386.9" x2="530.8" y2="386.9" stroke="#3c3c3c" stroke-width="1.4"/>
<line x1="568.1" y1="355.6" x2="568.1" y2="375.6" stroke="#8c8c8c" stroke-width="1.3"/>
<line x1="566.8" y1="355.6" x2="569.4" y2="355.6" stroke="#3c3c3c" stroke-width="1.4"/>
<line x1="566.8" y1="375.6" x2="569.4" y2="375.6" stroke="#3c3c3c" stroke-width="1.4"/>
<line x1="606.6" y1="376.2" x2="606.6" y2="384.2" stroke="#8c8c8c" stroke-width="1.3"/>
<line x1="605.3" y1="376.2" x2="607.9" y2="376.2" stroke="#3c3c3c" stroke-width="1.4"/>
<line x1="605.3" y1="384.2" x2="607.9" y2="384.2" stroke="#3c3c3c" stroke-width="1.4"/>
<line x1="645.2" y1="392.0" x2="645.2" y2="402.0" stroke="#8c8c8c" stroke-width="1.3"/>
<line x1="643.9" y1="392.0" x2="646.5" y2="392.0" stroke="#3c3c3c" stroke-width="1.4"/>
<line x1="643.9" y1="402.0" x2="646.5" y2="402.0" stroke="#3c3c3c" stroke-width="1.4"/>
<line x1="491.0" y1="335.0" x2="491.0" y2="416.8" stroke="#8c8c8c" stroke-width="1.3"/>
<line x1="489.7" y1="335.0" x2="492.3" y2="335.0" stroke="#3c3c3c" stroke-width="1.4"/>
<line x1="489.7" y1="416.8" x2="492.3" y2="416.8" stroke="#3c3c3c" stroke-width="1.4"/>
<line x1="529.5" y1="301.0" x2="529.5" y2="410.0" stroke="#8c8c8c" stroke-width="1.3"/>
<line x1="528.2" y1="301.0" x2="530.8" y2="301.0" stroke="#3c3c3c" stroke-width="1.4"/>
<line x1="528.2" y1="410.0" x2="530.8" y2="410.0" stroke="#3c3c3c" stroke-width="1.4"/>
<line x1="568.1" y1="330.0" x2="568.1" y2="421.7" stroke="#8c8c8c" stroke-width="1.3"/>
<line x1="566.8" y1="330.0" x2="569.4" y2="330.0" stroke="#3c3c3c" stroke-width="1.4"/>
<line x1="566.8" y1="421.7" x2="569.4" y2="421.7" stroke="#3c3c3c" stroke-width="1.4"/>
<line x1="606.6" y1="330.8" x2="606.6" y2="436.1" stroke="#8c8c8c" stroke-width="1.3"/>
<line x1="605.3" y1="330.8" x2="607.9" y2="330.8" stroke="#3c3c3c" stroke-width="1.4"/>
<line x1="605.3" y1="436.1" x2="607.9" y2="436.1" stroke="#3c3c3c" stroke-width="1.4"/>
<line x1="645.2" y1="360.0" x2="645.2" y2="432.0" stroke="#8c8c8c" stroke-width="1.3"/>
<line x1="643.9" y1="360.0" x2="646.5" y2="360.0" stroke="#3c3c3c" stroke-width="1.4"/>
<line x1="643.9" y1="432.0" x2="646.5" y2="432.0" stroke="#3c3c3c" stroke-width="1.4"/>
<line x1="452.4" y1="371.6" x2="452.4" y2="398.6" stroke="#8c8c8c" stroke-width="1.3"/>
<line x1="451.1" y1="371.6" x2="453.7" y2="371.6" stroke="#3c3c3c" stroke-width="1.4"/>
<line x1="451.1" y1="398.6" x2="453.7" y2="398.6" stroke="#3c3c3c" stroke-width="1.4"/>
<line x1="452.4" y1="377.0" x2="452.4" y2="395.2" stroke="#8c8c8c" stroke-width="1.3"/>
<line x1="451.1" y1="377.0" x2="453.7" y2="377.0" stroke="#3c3c3c" stroke-width="1.4"/>
<line x1="451.1" y1="395.2" x2="453.7" y2="395.2" stroke="#3c3c3c" stroke-width="1.4"/>
<circle cx="491.0" cy="344.0" r="2.6" fill="#d83caa"/>
<circle cx="529.5" cy="365.6" r="2.6" fill="#d83caa"/>
<circle cx="568.1" cy="336.8" r="2.6" fill="#d83caa"/>
<circle cx="606.6" cy="380.2" r="2.6" fill="#d83caa"/>
<circle cx="645.2" cy="369.3" r="2.6" fill="#d83caa"/>
<circle cx="491.0" cy="352.9" r="2.6" fill="#d83caa"/>
<circle cx="529.5" cy="383.9" r="2.6" fill="#d83caa"/>
<circle cx="568.1" cy="336.8" r="2.6" fill="#d83caa"/>
<circle cx="606.6" cy="380.2" r="2.6" fill="#d83caa"/>
<circle cx="645.2" cy="369.3" r="2.6" fill="#d83caa"/>
<circle cx="491.0" cy="362.5" r="2.6" fill="#d83caa"/>
<circle cx="529.5" cy="394.5" r="2.6" fill="#d83caa"/>
<circle cx="568.1" cy="365.6" r="2.6" fill="#d83caa"/>
<circle cx="606.6" cy="415.8" r="2.6" fill="#d83caa"/>
<circle cx="645.2" cy="381.1" r="2.6" fill="#d83caa"/>
<circle cx="491.0" cy="367.4" r="2.6" fill="#d83caa"/>
<circle cx="529.5" cy="365.6" r="2.6" fill="#d83caa"/>
<circle cx="568.1" cy="403.0" r="2.6" fill="#d83caa"/>
<circle cx="606.6" cy="424.0" r="2.6" fill="#d83caa"/>
<circle cx="645.2" cy="414.0" r="2.6" fill="#d83caa"/>
<circle cx="491.0" cy="386.0" r="2.6" fill="#d83caa"/>
<circle cx="529.5" cy="409.4" r="2.6" fill="#d83caa"/>
<circle cx="568.1" cy="403.0" r="2.6" fill="#d83caa"/>
<circle cx="606.6" cy="415.8" r="2.6" fill="#d83caa"/>
<circle cx="645.2" cy="429.5" r="2.6" fill="#d83caa"/>
<circle cx="491.0" cy="413.1" r="2.6" fill="#d83caa"/>
<circle cx="529.5" cy="383.9" r="2.6" fill="#d83caa"/>
<circle cx="568.1" cy="365.6" r="2.6" fill="#d83caa"/>
<circle cx="606.6" cy="380.2" r="2.6" fill="#d83caa"/>
<circle cx="645.2" cy="397.0" r="2.6" fill="#d83caa"/>
<circle cx="452.4" cy="385.1" r="2.6" fill="#067506"/>
<circle cx="491.0" cy="340.1" r="2.6" fill="#067506"/>
<circle cx="529.5" cy="305.4" r="2.6" fill="#067506"/>
<circle cx="568.1" cy="350.7" r="2.6" fill="#067506"/>
<circle cx="606.6" cy="348.3" r="2.6" fill="#067506"/>
<circle cx="645.2" cy="356.5" r="2.6" fill="#067506"/>
<circle cx="452.4" cy="385.1" r="2.6" fill="#067506"/>
<circle cx="491.0" cy="348.1" r="2.6" fill="#067506"/>
<circle cx="529.5" cy="346.5" r="2.6" fill="#067506"/>
<circle cx="568.1" cy="356.5" r="2.6" fill="#067506"/>
<circle cx="606.6" cy="355.6" r="2.6" fill="#067506"/>
<circle cx="645.2" cy="385.7" r="2.6" fill="#067506"/>
<circle cx="452.4" cy="385.1" r="2.6" fill="#067506"/>
<circle cx="491.0" cy="357.7" r="2.6" fill="#067506"/>
<circle cx="529.5" cy="334.2" r="2.6" fill="#067506"/>
<circle cx="568.1" cy="372.9" r="2.6" fill="#067506"/>
<circle cx="606.6" cy="365.3" r="2.6" fill="#067506"/>
<circle cx="645.2" cy="393.9" r="2.6" fill="#067506"/>
<circle cx="452.4" cy="385.1" r="2.6" fill="#067506"/>
<circle cx="491.0" cy="374.6" r="2.6" fill="#067506"/>
<circle cx="529.5" cy="359.2" r="2.6" fill="#067506"/>
<circle cx="568.1" cy="383.9" r="2.6" fill="#067506"/>
<circle cx="606.6" cy="374.4" r="2.6" fill="#067506"/>
<circle cx="645.2" cy="398.5" r="2.6" fill="#067506"/>
<circle cx="452.4" cy="385.1" r="2.6" fill="#067506"/>
<circle cx="491.0" cy="388.2" r="2.6" fill="#067506"/>
<circle cx="529.5" cy="374.7" r="2.6" fill="#067506"/>
<circle cx="568.1" cy="389.3" r="2.6" fill="#067506"/>
<circle cx="606.6" cy="387.5" r="2.6" fill="#067506"/>
<circle cx="645.2" cy="404.3" r="2.6" fill="#067506"/>
<circle cx="452.4" cy="385.1" r="2.6" fill="#067506"/>
<circle cx="491.0" cy="394.6" r="2.6" fill="#067506"/>
<circle cx="529.5" cy="380.2" r="2.6" fill="#067506"/>
<circle cx="568.1" cy="408.0" r="2.6" fill="#067506"/>
<circle cx="606.6" cy="395.7" r="2.6" fill="#067506"/>
<circle cx="645.2" cy="409.8" r="2.6" fill="#067506"/>
<circle cx="452.4" cy="385.1" r="2.6" fill="#067506"/>
<circle cx="491.0" cy="397.8" r="2.6" fill="#067506"/>
<circle cx="529.5" cy="389.3" r="2.6" fill="#067506"/>
<circle cx="568.1" cy="383.9" r="2.6" fill="#067506"/>
<circle cx="606.6" cy="403.0" r="2.6" fill="#067506"/>
<circle cx="645.2" cy="426.2" r="2.6" fill="#067506"/>
<circle cx="452.4" cy="385.1" r="2.6" fill="#067506"/>
<circle cx="491.0" cy="399.4" r="2.6" fill="#067506"/>
<circle cx="529.5" cy="400.7" r="2.6" fill="#067506"/>
<circle cx="568.1" cy="389.3" r="2.6" fill="#067506"/>
<circle cx="606.6" cy="399.0" r="2.6" fill="#067506"/>
<circle cx="645.2" cy="409.8" r="2.6" fill="#067506"/>
<rect x="413.8" y="289.9" width="269.6" height="201.5" fill="none" stroke="#909090" stroke-width="1.7" stroke-linejoin="round"/>
<line x1="413.8" y1="491.4" x2="416.6" y2="491.4" stroke="#909090" stroke-width="1.2"/>
<text x="407.5" y="496.1" text-anchor="end" class="t">0</text>
<line x1="413.8" y1="449.0" x2="416.6" y2="449.0" stroke="#909090" stroke-width="1.2"/>
<text x="407.5" y="453.7" text-anchor="end" class="t">40</text>
<line x1="413.8" y1="406.6" x2="416.6" y2="406.6" stroke="#909090" stroke-width="1.2"/>
<text x="407.5" y="411.3" text-anchor="end" class="t">80</text>
<line x1="413.8" y1="364.1" x2="416.6" y2="364.1" stroke="#909090" stroke-width="1.2"/>
<text x="407.5" y="368.8" text-anchor="end" class="t">120</text>
<line x1="413.8" y1="321.7" x2="416.6" y2="321.7" stroke="#909090" stroke-width="1.2"/>
<text x="407.5" y="326.4" text-anchor="end" class="t">160</text>
<line x1="452.4" y1="491.4" x2="452.4" y2="488.6" stroke="#909090" stroke-width="1.2"/>
<text x="452.4" y="507.7" text-anchor="middle" class="t">0</text>
<line x1="491.0" y1="491.4" x2="491.0" y2="488.6" stroke="#909090" stroke-width="1.2"/>
<text x="491.6" y="507.7" text-anchor="middle" class="t">1:640</text>
<line x1="529.5" y1="491.4" x2="529.5" y2="488.6" stroke="#909090" stroke-width="1.2"/>
<text x="530.1" y="507.7" text-anchor="middle" class="t">1:320</text>
<line x1="568.1" y1="491.4" x2="568.1" y2="488.6" stroke="#909090" stroke-width="1.2"/>
<text x="568.7" y="507.7" text-anchor="middle" class="t">1:160</text>
<line x1="606.6" y1="491.4" x2="606.6" y2="488.6" stroke="#909090" stroke-width="1.2"/>
<text x="607.2" y="507.7" text-anchor="middle" class="t">1:80</text>
<line x1="645.2" y1="491.4" x2="645.2" y2="488.6" stroke="#909090" stroke-width="1.2"/>
<text x="645.8" y="507.7" text-anchor="middle" class="t">1:40</text>
<text x="548.6" y="525.9" text-anchor="middle" class="t">[Serum] (dilution)</text>
<text transform="translate(373.5,390.6) rotate(-90)" x="0" y="0" text-anchor="middle" class="t">Viral infection (%)</text>
<text x="421.6" y="308.8" class="h">A-MLV</text>
<line x1="651.8" y1="353.1" x2="651.8" y2="434.0" stroke="#3a3a3a" stroke-width="2"/>
<text transform="translate(665.0,393.7) rotate(-90)" text-anchor="middle" class="ns">ns</text>
<polyline points="108.4,652.3 147.0,646.5 185.5,677.0 224.1,673.8 262.6,707.5 301.2,713.9" fill="none" stroke="#78a883" stroke-width="1.25" stroke-opacity="0.85"/>
<polyline points="108.4,652.3 147.0,661.0 185.5,684.4 224.1,701.1 262.6,710.1 301.2,720.4" fill="none" stroke="#78a883" stroke-width="1.25" stroke-opacity="0.85"/>
<polyline points="108.4,652.3 147.0,668.3 185.5,691.5 224.1,702.7 262.6,718.1 301.2,723.6" fill="none" stroke="#78a883" stroke-width="1.25" stroke-opacity="0.85"/>
<polyline points="108.4,652.3 147.0,689.8 185.5,695.6 224.1,704.3 262.6,707.5 301.2,725.2" fill="none" stroke="#78a883" stroke-width="1.25" stroke-opacity="0.85"/>
<polyline points="108.4,652.3 147.0,718.6 185.5,725.3 224.1,741.7 262.6,748.4 301.2,750.9" fill="none" stroke="#78a883" stroke-width="1.25" stroke-opacity="0.85"/>
<polyline points="108.4,652.3 147.0,711.9 185.5,737.2 224.1,752.6 262.6,739.7 301.2,755.1" fill="none" stroke="#78a883" stroke-width="1.25" stroke-opacity="0.85"/>
<polyline points="108.4,652.3 147.0,734.2 185.5,740.2 224.1,755.1 262.6,752.6 301.2,755.1" fill="none" stroke="#78a883" stroke-width="1.25" stroke-opacity="0.85"/>
<polyline points="108.4,652.3 147.0,735.5 185.5,745.4 224.1,756.6 262.6,748.4 301.2,750.9" fill="none" stroke="#78a883" stroke-width="1.25" stroke-opacity="0.85"/>
<polyline points="108.4,652.3 147.0,650.6 185.5,610.9 224.1,614.1 262.6,582.4 301.2,572.0" fill="none" stroke="#cc98c2" stroke-width="1.25" stroke-opacity="0.85"/>
<polyline points="108.4,652.3 147.0,654.3 185.5,615.9 224.1,618.3 262.6,589.8 301.2,589.8" fill="none" stroke="#cc98c2" stroke-width="1.25" stroke-opacity="0.85"/>
<polyline points="108.4,652.3 147.0,632.0 185.5,628.3 224.1,589.1 262.6,586.1 301.2,603.5" fill="none" stroke="#cc98c2" stroke-width="1.25" stroke-opacity="0.85"/>
<polyline points="108.4,652.3 147.0,635.7 185.5,632.0 224.1,592.8 262.6,602.2 301.2,615.4" fill="none" stroke="#cc98c2" stroke-width="1.25" stroke-opacity="0.85"/>
<polyline points="108.4,652.3 147.0,632.0 185.5,610.9 224.1,596.0 262.6,610.9 301.2,593.5" fill="none" stroke="#cc98c2" stroke-width="1.25" stroke-opacity="0.85"/>
<polyline points="108.4,652.3 147.0,635.7 185.5,615.9 224.1,623.8 262.6,582.4 301.2,610.2" fill="none" stroke="#cc98c2" stroke-width="1.25" stroke-opacity="0.85"/>
<polyline points="108.4,652.3 147.0,650.6 185.5,649.4 224.1,670.6 262.6,669.0 301.2,648.1" fill="none" stroke="#cc98c2" stroke-width="1.25" stroke-opacity="0.85"/>
<polyline points="108.4,652.3 147.0,654.3 185.5,628.3 224.1,602.7 262.6,589.8 301.2,584.4" fill="none" stroke="#cc98c2" stroke-width="1.25" stroke-opacity="0.85"/>
<line x1="147.0" y1="645.5" x2="147.0" y2="647.5" stroke="#8c8c8c" stroke-width="1.3"/>
<line x1="145.7" y1="645.5" x2="148.3" y2="645.5" stroke="#3c3c3c" stroke-width="1.4"/>
<line x1="145.7" y1="647.5" x2="148.3" y2="647.5" stroke="#3c3c3c" stroke-width="1.4"/>
<line x1="185.5" y1="673.5" x2="185.5" y2="680.5" stroke="#8c8c8c" stroke-width="1.3"/>
<line x1="184.2" y1="673.5" x2="186.8" y2="673.5" stroke="#3c3c3c" stroke-width="1.4"/>
<line x1="184.2" y1="680.5" x2="186.8" y2="680.5" stroke="#3c3c3c" stroke-width="1.4"/>
<line x1="224.1" y1="668.8" x2="224.1" y2="678.8" stroke="#8c8c8c" stroke-width="1.3"/>
<line x1="222.8" y1="668.8" x2="225.4" y2="668.8" stroke="#3c3c3c" stroke-width="1.4"/>
<line x1="222.8" y1="678.8" x2="225.4" y2="678.8" stroke="#3c3c3c" stroke-width="1.4"/>
<line x1="262.6" y1="703.5" x2="262.6" y2="711.5" stroke="#8c8c8c" stroke-width="1.3"/>
<line x1="261.3" y1="703.5" x2="263.9" y2="703.5" stroke="#3c3c3c" stroke-width="1.4"/>
<line x1="261.3" y1="711.5" x2="263.9" y2="711.5" stroke="#3c3c3c" stroke-width="1.4"/>
<line x1="301.2" y1="712.9" x2="301.2" y2="714.9" stroke="#8c8c8c" stroke-width="1.3"/>
<line x1="299.9" y1="712.9" x2="302.5" y2="712.9" stroke="#3c3c3c" stroke-width="1.4"/>
<line x1="299.9" y1="714.9" x2="302.5" y2="714.9" stroke="#3c3c3c" stroke-width="1.4"/>
<line x1="147.0" y1="657.0" x2="147.0" y2="665.0" stroke="#8c8c8c" stroke-width="1.3"/>
<line x1="145.7" y1="657.0" x2="148.3" y2="657.0" stroke="#3c3c3c" stroke-width="1.4"/>
<line x1="145.7" y1="665.0" x2="148.3" y2="665.0" stroke="#3c3c3c" stroke-width="1.4"/>
<line x1="185.5" y1="683.4" x2="185.5" y2="685.4" stroke="#8c8c8c" stroke-width="1.3"/>
<line x1="184.2" y1="683.4" x2="186.8" y2="683.4" stroke="#3c3c3c" stroke-width="1.4"/>
<line x1="184.2" y1="685.4" x2="186.8" y2="685.4" stroke="#3c3c3c" stroke-width="1.4"/>
<line x1="224.1" y1="697.6" x2="224.1" y2="704.6" stroke="#8c8c8c" stroke-width="1.3"/>
<line x1="222.8" y1="697.6" x2="225.4" y2="697.6" stroke="#3c3c3c" stroke-width="1.4"/>
<line x1="222.8" y1="704.6" x2="225.4" y2="704.6" stroke="#3c3c3c" stroke-width="1.4"/>
<line x1="262.6" y1="705.1" x2="262.6" y2="715.1" stroke="#8c8c8c" stroke-width="1.3"/>
<line x1="261.3" y1="705.1" x2="263.9" y2="705.1" stroke="#3c3c3c" stroke-width="1.4"/>
<line x1="261.3" y1="715.1" x2="263.9" y2="715.1" stroke="#3c3c3c" stroke-width="1.4"/>
<line x1="301.2" y1="716.9" x2="301.2" y2="723.9" stroke="#8c8c8c" stroke-width="1.3"/>
<line x1="299.9" y1="716.9" x2="302.5" y2="716.9" stroke="#3c3c3c" stroke-width="1.4"/>
<line x1="299.9" y1="723.9" x2="302.5" y2="723.9" stroke="#3c3c3c" stroke-width="1.4"/>
<line x1="147.0" y1="664.3" x2="147.0" y2="672.3" stroke="#8c8c8c" stroke-width="1.3"/>
<line x1="145.7" y1="664.3" x2="148.3" y2="664.3" stroke="#3c3c3c" stroke-width="1.4"/>
<line x1="145.7" y1="672.3" x2="148.3" y2="672.3" stroke="#3c3c3c" stroke-width="1.4"/>
<line x1="185.5" y1="687.5" x2="185.5" y2="695.5" stroke="#8c8c8c" stroke-width="1.3"/>
<line x1="184.2" y1="687.5" x2="186.8" y2="687.5" stroke="#3c3c3c" stroke-width="1.4"/>
<line x1="184.2" y1="695.5" x2="186.8" y2="695.5" stroke="#3c3c3c" stroke-width="1.4"/>
<line x1="224.1" y1="697.7" x2="224.1" y2="707.7" stroke="#8c8c8c" stroke-width="1.3"/>
<line x1="222.8" y1="697.7" x2="225.4" y2="697.7" stroke="#3c3c3c" stroke-width="1.4"/>
<line x1="222.8" y1="707.7" x2="225.4" y2="707.7" stroke="#3c3c3c" stroke-width="1.4"/>
<line x1="262.6" y1="717.1" x2="262.6" y2="719.1" stroke="#8c8c8c" stroke-width="1.3"/>
<line x1="261.3" y1="717.1" x2="263.9" y2="717.1" stroke="#3c3c3c" stroke-width="1.4"/>
<line x1="261.3" y1="719.1" x2="263.9" y2="719.1" stroke="#3c3c3c" stroke-width="1.4"/>
<line x1="301.2" y1="721.1" x2="301.2" y2="726.1" stroke="#8c8c8c" stroke-width="1.3"/>
<line x1="299.9" y1="721.1" x2="302.5" y2="721.1" stroke="#3c3c3c" stroke-width="1.4"/>
<line x1="299.9" y1="726.1" x2="302.5" y2="726.1" stroke="#3c3c3c" stroke-width="1.4"/>
<line x1="147.0" y1="687.3" x2="147.0" y2="692.3" stroke="#8c8c8c" stroke-width="1.3"/>
<line x1="145.7" y1="687.3" x2="148.3" y2="687.3" stroke="#3c3c3c" stroke-width="1.4"/>
<line x1="145.7" y1="692.3" x2="148.3" y2="692.3" stroke="#3c3c3c" stroke-width="1.4"/>
<line x1="185.5" y1="692.6" x2="185.5" y2="698.6" stroke="#8c8c8c" stroke-width="1.3"/>
<line x1="184.2" y1="692.6" x2="186.8" y2="692.6" stroke="#3c3c3c" stroke-width="1.4"/>
<line x1="184.2" y1="698.6" x2="186.8" y2="698.6" stroke="#3c3c3c" stroke-width="1.4"/>
<line x1="224.1" y1="702.8" x2="224.1" y2="705.8" stroke="#8c8c8c" stroke-width="1.3"/>
<line x1="222.8" y1="702.8" x2="225.4" y2="702.8" stroke="#3c3c3c" stroke-width="1.4"/>
<line x1="222.8" y1="705.8" x2="225.4" y2="705.8" stroke="#3c3c3c" stroke-width="1.4"/>
<line x1="262.6" y1="703.5" x2="262.6" y2="711.5" stroke="#8c8c8c" stroke-width="1.3"/>
<line x1="261.3" y1="703.5" x2="263.9" y2="703.5" stroke="#3c3c3c" stroke-width="1.4"/>
<line x1="261.3" y1="711.5" x2="263.9" y2="711.5" stroke="#3c3c3c" stroke-width="1.4"/>
<line x1="301.2" y1="722.7" x2="301.2" y2="727.7" stroke="#8c8c8c" stroke-width="1.3"/>
<line x1="299.9" y1="722.7" x2="302.5" y2="722.7" stroke="#3c3c3c" stroke-width="1.4"/>
<line x1="299.9" y1="727.7" x2="302.5" y2="727.7" stroke="#3c3c3c" stroke-width="1.4"/>
<line x1="147.0" y1="714.6" x2="147.0" y2="722.6" stroke="#8c8c8c" stroke-width="1.3"/>
<line x1="145.7" y1="714.6" x2="148.3" y2="714.6" stroke="#3c3c3c" stroke-width="1.4"/>
<line x1="145.7" y1="722.6" x2="148.3" y2="722.6" stroke="#3c3c3c" stroke-width="1.4"/>
<line x1="185.5" y1="723.3" x2="185.5" y2="727.3" stroke="#8c8c8c" stroke-width="1.3"/>
<line x1="184.2" y1="723.3" x2="186.8" y2="723.3" stroke="#3c3c3c" stroke-width="1.4"/>
<line x1="184.2" y1="727.3" x2="186.8" y2="727.3" stroke="#3c3c3c" stroke-width="1.4"/>
<line x1="224.1" y1="740.7" x2="224.1" y2="742.7" stroke="#8c8c8c" stroke-width="1.3"/>
<line x1="222.8" y1="740.7" x2="225.4" y2="740.7" stroke="#3c3c3c" stroke-width="1.4"/>
<line x1="222.8" y1="742.7" x2="225.4" y2="742.7" stroke="#3c3c3c" stroke-width="1.4"/>
<line x1="262.6" y1="744.9" x2="262.6" y2="751.9" stroke="#8c8c8c" stroke-width="1.3"/>
<line x1="261.3" y1="744.9" x2="263.9" y2="744.9" stroke="#3c3c3c" stroke-width="1.4"/>
<line x1="261.3" y1="751.9" x2="263.9" y2="751.9" stroke="#3c3c3c" stroke-width="1.4"/>
<line x1="301.2" y1="747.4" x2="301.2" y2="754.4" stroke="#8c8c8c" stroke-width="1.3"/>
<line x1="299.9" y1="747.4" x2="302.5" y2="747.4" stroke="#3c3c3c" stroke-width="1.4"/>
<line x1="299.9" y1="754.4" x2="302.5" y2="754.4" stroke="#3c3c3c" stroke-width="1.4"/>
<line x1="147.0" y1="708.9" x2="147.0" y2="714.9" stroke="#8c8c8c" stroke-width="1.3"/>
<line x1="145.7" y1="708.9" x2="148.3" y2="708.9" stroke="#3c3c3c" stroke-width="1.4"/>
<line x1="145.7" y1="714.9" x2="148.3" y2="714.9" stroke="#3c3c3c" stroke-width="1.4"/>
<line x1="185.5" y1="735.7" x2="185.5" y2="738.7" stroke="#8c8c8c" stroke-width="1.3"/>
<line x1="184.2" y1="735.7" x2="186.8" y2="735.7" stroke="#3c3c3c" stroke-width="1.4"/>
<line x1="184.2" y1="738.7" x2="186.8" y2="738.7" stroke="#3c3c3c" stroke-width="1.4"/>
<line x1="224.1" y1="747.6" x2="224.1" y2="757.6" stroke="#8c8c8c" stroke-width="1.3"/>
<line x1="222.8" y1="747.6" x2="225.4" y2="747.6" stroke="#3c3c3c" stroke-width="1.4"/>
<line x1="222.8" y1="757.6" x2="225.4" y2="757.6" stroke="#3c3c3c" stroke-width="1.4"/>
<line x1="262.6" y1="738.2" x2="262.6" y2="741.2" stroke="#8c8c8c" stroke-width="1.3"/>
<line x1="261.3" y1="738.2" x2="263.9" y2="738.2" stroke="#3c3c3c" stroke-width="1.4"/>
<line x1="261.3" y1="741.2" x2="263.9" y2="741.2" stroke="#3c3c3c" stroke-width="1.4"/>
<line x1="301.2" y1="751.1" x2="301.2" y2="759.1" stroke="#8c8c8c" stroke-width="1.3"/>
<line x1="299.9" y1="751.1" x2="302.5" y2="751.1" stroke="#3c3c3c" stroke-width="1.4"/>
<line x1="299.9" y1="759.1" x2="302.5" y2="759.1" stroke="#3c3c3c" stroke-width="1.4"/>
<line x1="147.0" y1="732.7" x2="147.0" y2="735.7" stroke="#8c8c8c" stroke-width="1.3"/>
<line x1="145.7" y1="732.7" x2="148.3" y2="732.7" stroke="#3c3c3c" stroke-width="1.4"/>
<line x1="145.7" y1="735.7" x2="148.3" y2="735.7" stroke="#3c3c3c" stroke-width="1.4"/>
<line x1="185.5" y1="736.7" x2="185.5" y2="743.7" stroke="#8c8c8c" stroke-width="1.3"/>
<line x1="184.2" y1="736.7" x2="186.8" y2="736.7" stroke="#3c3c3c" stroke-width="1.4"/>
<line x1="184.2" y1="743.7" x2="186.8" y2="743.7" stroke="#3c3c3c" stroke-width="1.4"/>
<line x1="224.1" y1="753.6" x2="224.1" y2="756.6" stroke="#8c8c8c" stroke-width="1.3"/>
<line x1="222.8" y1="753.6" x2="225.4" y2="753.6" stroke="#3c3c3c" stroke-width="1.4"/>
<line x1="222.8" y1="756.6" x2="225.4" y2="756.6" stroke="#3c3c3c" stroke-width="1.4"/>
<line x1="262.6" y1="751.6" x2="262.6" y2="753.6" stroke="#8c8c8c" stroke-width="1.3"/>
<line x1="261.3" y1="751.6" x2="263.9" y2="751.6" stroke="#3c3c3c" stroke-width="1.4"/>
<line x1="261.3" y1="753.6" x2="263.9" y2="753.6" stroke="#3c3c3c" stroke-width="1.4"/>
<line x1="301.2" y1="750.1" x2="301.2" y2="760.1" stroke="#8c8c8c" stroke-width="1.3"/>
<line x1="299.9" y1="750.1" x2="302.5" y2="750.1" stroke="#3c3c3c" stroke-width="1.4"/>
<line x1="299.9" y1="760.1" x2="302.5" y2="760.1" stroke="#3c3c3c" stroke-width="1.4"/>
<line x1="147.0" y1="733.5" x2="147.0" y2="737.5" stroke="#8c8c8c" stroke-width="1.3"/>
<line x1="145.7" y1="733.5" x2="148.3" y2="733.5" stroke="#3c3c3c" stroke-width="1.4"/>
<line x1="145.7" y1="737.5" x2="148.3" y2="737.5" stroke="#3c3c3c" stroke-width="1.4"/>
<line x1="185.5" y1="742.9" x2="185.5" y2="747.9" stroke="#8c8c8c" stroke-width="1.3"/>
<line x1="184.2" y1="742.9" x2="186.8" y2="742.9" stroke="#3c3c3c" stroke-width="1.4"/>
<line x1="184.2" y1="747.9" x2="186.8" y2="747.9" stroke="#3c3c3c" stroke-width="1.4"/>
<line x1="224.1" y1="752.6" x2="224.1" y2="760.6" stroke="#8c8c8c" stroke-width="1.3"/>
<line x1="222.8" y1="752.6" x2="225.4" y2="752.6" stroke="#3c3c3c" stroke-width="1.4"/>
<line x1="222.8" y1="760.6" x2="225.4" y2="760.6" stroke="#3c3c3c" stroke-width="1.4"/>
<line x1="262.6" y1="747.4" x2="262.6" y2="749.4" stroke="#8c8c8c" stroke-width="1.3"/>
<line x1="261.3" y1="747.4" x2="263.9" y2="747.4" stroke="#3c3c3c" stroke-width="1.4"/>
<line x1="261.3" y1="749.4" x2="263.9" y2="749.4" stroke="#3c3c3c" stroke-width="1.4"/>
<line x1="301.2" y1="749.4" x2="301.2" y2="752.4" stroke="#8c8c8c" stroke-width="1.3"/>
<line x1="299.9" y1="749.4" x2="302.5" y2="749.4" stroke="#3c3c3c" stroke-width="1.4"/>
<line x1="299.9" y1="752.4" x2="302.5" y2="752.4" stroke="#3c3c3c" stroke-width="1.4"/>
<line x1="147.0" y1="649.1" x2="147.0" y2="652.1" stroke="#8c8c8c" stroke-width="1.3"/>
<line x1="145.7" y1="649.1" x2="148.3" y2="649.1" stroke="#3c3c3c" stroke-width="1.4"/>
<line x1="145.7" y1="652.1" x2="148.3" y2="652.1" stroke="#3c3c3c" stroke-width="1.4"/>
<line x1="185.5" y1="606.9" x2="185.5" y2="614.9" stroke="#8c8c8c" stroke-width="1.3"/>
<line x1="184.2" y1="606.9" x2="186.8" y2="606.9" stroke="#3c3c3c" stroke-width="1.4"/>
<line x1="184.2" y1="614.9" x2="186.8" y2="614.9" stroke="#3c3c3c" stroke-width="1.4"/>
<line x1="224.1" y1="612.1" x2="224.1" y2="616.1" stroke="#8c8c8c" stroke-width="1.3"/>
<line x1="222.8" y1="612.1" x2="225.4" y2="612.1" stroke="#3c3c3c" stroke-width="1.4"/>
<line x1="222.8" y1="616.1" x2="225.4" y2="616.1" stroke="#3c3c3c" stroke-width="1.4"/>
<line x1="262.6" y1="581.4" x2="262.6" y2="583.4" stroke="#8c8c8c" stroke-width="1.3"/>
<line x1="261.3" y1="581.4" x2="263.9" y2="581.4" stroke="#3c3c3c" stroke-width="1.4"/>
<line x1="261.3" y1="583.4" x2="263.9" y2="583.4" stroke="#3c3c3c" stroke-width="1.4"/>
<line x1="301.2" y1="568.5" x2="301.2" y2="575.5" stroke="#8c8c8c" stroke-width="1.3"/>
<line x1="299.9" y1="568.5" x2="302.5" y2="568.5" stroke="#3c3c3c" stroke-width="1.4"/>
<line x1="299.9" y1="575.5" x2="302.5" y2="575.5" stroke="#3c3c3c" stroke-width="1.4"/>
<line x1="147.0" y1="652.8" x2="147.0" y2="655.8" stroke="#8c8c8c" stroke-width="1.3"/>
<line x1="145.7" y1="652.8" x2="148.3" y2="652.8" stroke="#3c3c3c" stroke-width="1.4"/>
<line x1="145.7" y1="655.8" x2="148.3" y2="655.8" stroke="#3c3c3c" stroke-width="1.4"/>
<line x1="185.5" y1="614.9" x2="185.5" y2="616.9" stroke="#8c8c8c" stroke-width="1.3"/>
<line x1="184.2" y1="614.9" x2="186.8" y2="614.9" stroke="#3c3c3c" stroke-width="1.4"/>
<line x1="184.2" y1="616.9" x2="186.8" y2="616.9" stroke="#3c3c3c" stroke-width="1.4"/>
<line x1="224.1" y1="616.8" x2="224.1" y2="619.8" stroke="#8c8c8c" stroke-width="1.3"/>
<line x1="222.8" y1="616.8" x2="225.4" y2="616.8" stroke="#3c3c3c" stroke-width="1.4"/>
<line x1="222.8" y1="619.8" x2="225.4" y2="619.8" stroke="#3c3c3c" stroke-width="1.4"/>
<line x1="262.6" y1="584.8" x2="262.6" y2="594.8" stroke="#8c8c8c" stroke-width="1.3"/>
<line x1="261.3" y1="584.8" x2="263.9" y2="584.8" stroke="#3c3c3c" stroke-width="1.4"/>
<line x1="261.3" y1="594.8" x2="263.9" y2="594.8" stroke="#3c3c3c" stroke-width="1.4"/>
<line x1="301.2" y1="586.8" x2="301.2" y2="592.8" stroke="#8c8c8c" stroke-width="1.3"/>
<line x1="299.9" y1="586.8" x2="302.5" y2="586.8" stroke="#3c3c3c" stroke-width="1.4"/>
<line x1="299.9" y1="592.8" x2="302.5" y2="592.8" stroke="#3c3c3c" stroke-width="1.4"/>
<line x1="147.0" y1="629.0" x2="147.0" y2="635.0" stroke="#8c8c8c" stroke-width="1.3"/>
<line x1="145.7" y1="629.0" x2="148.3" y2="629.0" stroke="#3c3c3c" stroke-width="1.4"/>
<line x1="145.7" y1="635.0" x2="148.3" y2="635.0" stroke="#3c3c3c" stroke-width="1.4"/>
<line x1="185.5" y1="626.8" x2="185.5" y2="629.8" stroke="#8c8c8c" stroke-width="1.3"/>
<line x1="184.2" y1="626.8" x2="186.8" y2="626.8" stroke="#3c3c3c" stroke-width="1.4"/>
<line x1="184.2" y1="629.8" x2="186.8" y2="629.8" stroke="#3c3c3c" stroke-width="1.4"/>
<line x1="224.1" y1="588.1" x2="224.1" y2="590.1" stroke="#8c8c8c" stroke-width="1.3"/>
<line x1="222.8" y1="588.1" x2="225.4" y2="588.1" stroke="#3c3c3c" stroke-width="1.4"/>
<line x1="222.8" y1="590.1" x2="225.4" y2="590.1" stroke="#3c3c3c" stroke-width="1.4"/>
<line x1="262.6" y1="583.6" x2="262.6" y2="588.6" stroke="#8c8c8c" stroke-width="1.3"/>
<line x1="261.3" y1="583.6" x2="263.9" y2="583.6" stroke="#3c3c3c" stroke-width="1.4"/>
<line x1="261.3" y1="588.6" x2="263.9" y2="588.6" stroke="#3c3c3c" stroke-width="1.4"/>
<line x1="301.2" y1="602.0" x2="301.2" y2="605.0" stroke="#8c8c8c" stroke-width="1.3"/>
<line x1="299.9" y1="602.0" x2="302.5" y2="602.0" stroke="#3c3c3c" stroke-width="1.4"/>
<line x1="299.9" y1="605.0" x2="302.5" y2="605.0" stroke="#3c3c3c" stroke-width="1.4"/>
<line x1="147.0" y1="634.2" x2="147.0" y2="637.2" stroke="#8c8c8c" stroke-width="1.3"/>
<line x1="145.7" y1="634.2" x2="148.3" y2="634.2" stroke="#3c3c3c" stroke-width="1.4"/>
<line x1="145.7" y1="637.2" x2="148.3" y2="637.2" stroke="#3c3c3c" stroke-width="1.4"/>
<line x1="185.5" y1="631.0" x2="185.5" y2="633.0" stroke="#8c8c8c" stroke-width="1.3"/>
<line x1="184.2" y1="631.0" x2="186.8" y2="631.0" stroke="#3c3c3c" stroke-width="1.4"/>
<line x1="184.2" y1="633.0" x2="186.8" y2="633.0" stroke="#3c3c3c" stroke-width="1.4"/>
<line x1="224.1" y1="589.3" x2="224.1" y2="596.3" stroke="#8c8c8c" stroke-width="1.3"/>
<line x1="222.8" y1="589.3" x2="225.4" y2="589.3" stroke="#3c3c3c" stroke-width="1.4"/>
<line x1="222.8" y1="596.3" x2="225.4" y2="596.3" stroke="#3c3c3c" stroke-width="1.4"/>
<line x1="262.6" y1="600.2" x2="262.6" y2="604.2" stroke="#8c8c8c" stroke-width="1.3"/>
<line x1="261.3" y1="600.2" x2="263.9" y2="600.2" stroke="#3c3c3c" stroke-width="1.4"/>
<line x1="261.3" y1="604.2" x2="263.9" y2="604.2" stroke="#3c3c3c" stroke-width="1.4"/>
<line x1="301.2" y1="613.9" x2="301.2" y2="616.9" stroke="#8c8c8c" stroke-width="1.3"/>
<line x1="299.9" y1="613.9" x2="302.5" y2="613.9" stroke="#3c3c3c" stroke-width="1.4"/>
<line x1="299.9" y1="616.9" x2="302.5" y2="616.9" stroke="#3c3c3c" stroke-width="1.4"/>
<line x1="147.0" y1="629.5" x2="147.0" y2="634.5" stroke="#8c8c8c" stroke-width="1.3"/>
<line x1="145.7" y1="629.5" x2="148.3" y2="629.5" stroke="#3c3c3c" stroke-width="1.4"/>
<line x1="145.7" y1="634.5" x2="148.3" y2="634.5" stroke="#3c3c3c" stroke-width="1.4"/>
<line x1="185.5" y1="608.9" x2="185.5" y2="612.9" stroke="#8c8c8c" stroke-width="1.3"/>
<line x1="184.2" y1="608.9" x2="186.8" y2="608.9" stroke="#3c3c3c" stroke-width="1.4"/>
<line x1="184.2" y1="612.9" x2="186.8" y2="612.9" stroke="#3c3c3c" stroke-width="1.4"/>
<line x1="224.1" y1="593.5" x2="224.1" y2="598.5" stroke="#8c8c8c" stroke-width="1.3"/>
<line x1="222.8" y1="593.5" x2="225.4" y2="593.5" stroke="#3c3c3c" stroke-width="1.4"/>
<line x1="222.8" y1="598.5" x2="225.4" y2="598.5" stroke="#3c3c3c" stroke-width="1.4"/>
<line x1="262.6" y1="605.9" x2="262.6" y2="615.9" stroke="#8c8c8c" stroke-width="1.3"/>
<line x1="261.3" y1="605.9" x2="263.9" y2="605.9" stroke="#3c3c3c" stroke-width="1.4"/>
<line x1="261.3" y1="615.9" x2="263.9" y2="615.9" stroke="#3c3c3c" stroke-width="1.4"/>
<line x1="301.2" y1="589.5" x2="301.2" y2="597.5" stroke="#8c8c8c" stroke-width="1.3"/>
<line x1="299.9" y1="589.5" x2="302.5" y2="589.5" stroke="#3c3c3c" stroke-width="1.4"/>
<line x1="299.9" y1="597.5" x2="302.5" y2="597.5" stroke="#3c3c3c" stroke-width="1.4"/>
<line x1="147.0" y1="632.7" x2="147.0" y2="638.7" stroke="#8c8c8c" stroke-width="1.3"/>
<line x1="145.7" y1="632.7" x2="148.3" y2="632.7" stroke="#3c3c3c" stroke-width="1.4"/>
<line x1="145.7" y1="638.7" x2="148.3" y2="638.7" stroke="#3c3c3c" stroke-width="1.4"/>
<line x1="185.5" y1="612.4" x2="185.5" y2="619.4" stroke="#8c8c8c" stroke-width="1.3"/>
<line x1="184.2" y1="612.4" x2="186.8" y2="612.4" stroke="#3c3c3c" stroke-width="1.4"/>
<line x1="184.2" y1="619.4" x2="186.8" y2="619.4" stroke="#3c3c3c" stroke-width="1.4"/>
<line x1="224.1" y1="619.8" x2="224.1" y2="627.8" stroke="#8c8c8c" stroke-width="1.3"/>
<line x1="222.8" y1="619.8" x2="225.4" y2="619.8" stroke="#3c3c3c" stroke-width="1.4"/>
<line x1="222.8" y1="627.8" x2="225.4" y2="627.8" stroke="#3c3c3c" stroke-width="1.4"/>
<line x1="262.6" y1="578.9" x2="262.6" y2="585.9" stroke="#8c8c8c" stroke-width="1.3"/>
<line x1="261.3" y1="578.9" x2="263.9" y2="578.9" stroke="#3c3c3c" stroke-width="1.4"/>
<line x1="261.3" y1="585.9" x2="263.9" y2="585.9" stroke="#3c3c3c" stroke-width="1.4"/>
<line x1="301.2" y1="606.2" x2="301.2" y2="614.2" stroke="#8c8c8c" stroke-width="1.3"/>
<line x1="299.9" y1="606.2" x2="302.5" y2="606.2" stroke="#3c3c3c" stroke-width="1.4"/>
<line x1="299.9" y1="614.2" x2="302.5" y2="614.2" stroke="#3c3c3c" stroke-width="1.4"/>
<line x1="147.0" y1="649.1" x2="147.0" y2="652.1" stroke="#8c8c8c" stroke-width="1.3"/>
<line x1="145.7" y1="649.1" x2="148.3" y2="649.1" stroke="#3c3c3c" stroke-width="1.4"/>
<line x1="145.7" y1="652.1" x2="148.3" y2="652.1" stroke="#3c3c3c" stroke-width="1.4"/>
<line x1="185.5" y1="645.4" x2="185.5" y2="653.4" stroke="#8c8c8c" stroke-width="1.3"/>
<line x1="184.2" y1="645.4" x2="186.8" y2="645.4" stroke="#3c3c3c" stroke-width="1.4"/>
<line x1="184.2" y1="653.4" x2="186.8" y2="653.4" stroke="#3c3c3c" stroke-width="1.4"/>
<line x1="224.1" y1="668.1" x2="224.1" y2="673.1" stroke="#8c8c8c" stroke-width="1.3"/>
<line x1="222.8" y1="668.1" x2="225.4" y2="668.1" stroke="#3c3c3c" stroke-width="1.4"/>
<line x1="222.8" y1="673.1" x2="225.4" y2="673.1" stroke="#3c3c3c" stroke-width="1.4"/>
<line x1="262.6" y1="665.0" x2="262.6" y2="673.0" stroke="#8c8c8c" stroke-width="1.3"/>
<line x1="261.3" y1="665.0" x2="263.9" y2="665.0" stroke="#3c3c3c" stroke-width="1.4"/>
<line x1="261.3" y1="673.0" x2="263.9" y2="673.0" stroke="#3c3c3c" stroke-width="1.4"/>
<line x1="301.2" y1="646.1" x2="301.2" y2="650.1" stroke="#8c8c8c" stroke-width="1.3"/>
<line x1="299.9" y1="646.1" x2="302.5" y2="646.1" stroke="#3c3c3c" stroke-width="1.4"/>
<line x1="299.9" y1="650.1" x2="302.5" y2="650.1" stroke="#3c3c3c" stroke-width="1.4"/>
<line x1="147.0" y1="650.3" x2="147.0" y2="658.3" stroke="#8c8c8c" stroke-width="1.3"/>
<line x1="145.7" y1="650.3" x2="148.3" y2="650.3" stroke="#3c3c3c" stroke-width="1.4"/>
<line x1="145.7" y1="658.3" x2="148.3" y2="658.3" stroke="#3c3c3c" stroke-width="1.4"/>
<line x1="185.5" y1="623.3" x2="185.5" y2="633.3" stroke="#8c8c8c" stroke-width="1.3"/>
<line x1="184.2" y1="623.3" x2="186.8" y2="623.3" stroke="#3c3c3c" stroke-width="1.4"/>
<line x1="184.2" y1="633.3" x2="186.8" y2="633.3" stroke="#3c3c3c" stroke-width="1.4"/>
<line x1="224.1" y1="600.7" x2="224.1" y2="604.7" stroke="#8c8c8c" stroke-width="1.3"/>
<line x1="222.8" y1="600.7" x2="225.4" y2="600.7" stroke="#3c3c3c" stroke-width="1.4"/>
<line x1="222.8" y1="604.7" x2="225.4" y2="604.7" stroke="#3c3c3c" stroke-width="1.4"/>
<line x1="262.6" y1="585.8" x2="262.6" y2="593.8" stroke="#8c8c8c" stroke-width="1.3"/>
<line x1="261.3" y1="585.8" x2="263.9" y2="585.8" stroke="#3c3c3c" stroke-width="1.4"/>
<line x1="261.3" y1="593.8" x2="263.9" y2="593.8" stroke="#3c3c3c" stroke-width="1.4"/>
<line x1="301.2" y1="582.4" x2="301.2" y2="586.4" stroke="#8c8c8c" stroke-width="1.3"/>
<line x1="299.9" y1="582.4" x2="302.5" y2="582.4" stroke="#3c3c3c" stroke-width="1.4"/>
<line x1="299.9" y1="586.4" x2="302.5" y2="586.4" stroke="#3c3c3c" stroke-width="1.4"/>
<line x1="147.0" y1="629.8" x2="147.0" y2="678.6" stroke="#8c8c8c" stroke-width="1.3"/>
<line x1="145.7" y1="629.8" x2="148.3" y2="629.8" stroke="#3c3c3c" stroke-width="1.4"/>
<line x1="145.7" y1="678.6" x2="148.3" y2="678.6" stroke="#3c3c3c" stroke-width="1.4"/>
<line x1="185.5" y1="597.7" x2="185.5" y2="659.3" stroke="#8c8c8c" stroke-width="1.3"/>
<line x1="184.2" y1="597.7" x2="186.8" y2="597.7" stroke="#3c3c3c" stroke-width="1.4"/>
<line x1="184.2" y1="659.3" x2="186.8" y2="659.3" stroke="#3c3c3c" stroke-width="1.4"/>
<line x1="224.1" y1="582.3" x2="224.1" y2="628.8" stroke="#8c8c8c" stroke-width="1.3"/>
<line x1="222.8" y1="582.3" x2="225.4" y2="582.3" stroke="#3c3c3c" stroke-width="1.4"/>
<line x1="222.8" y1="628.8" x2="225.4" y2="628.8" stroke="#3c3c3c" stroke-width="1.4"/>
<line x1="262.6" y1="574.2" x2="262.6" y2="593.5" stroke="#8c8c8c" stroke-width="1.3"/>
<line x1="261.3" y1="574.2" x2="263.9" y2="574.2" stroke="#3c3c3c" stroke-width="1.4"/>
<line x1="261.3" y1="593.5" x2="263.9" y2="593.5" stroke="#3c3c3c" stroke-width="1.4"/>
<line x1="301.2" y1="566.9" x2="301.2" y2="620.8" stroke="#8c8c8c" stroke-width="1.3"/>
<line x1="299.9" y1="566.9" x2="302.5" y2="566.9" stroke="#3c3c3c" stroke-width="1.4"/>
<line x1="299.9" y1="620.8" x2="302.5" y2="620.8" stroke="#3c3c3c" stroke-width="1.4"/>
<line x1="185.5" y1="718.7" x2="185.5" y2="730.0" stroke="#8c8c8c" stroke-width="1.3"/>
<line x1="184.2" y1="718.7" x2="186.8" y2="718.7" stroke="#3c3c3c" stroke-width="1.4"/>
<line x1="184.2" y1="730.0" x2="186.8" y2="730.0" stroke="#3c3c3c" stroke-width="1.4"/>
<line x1="224.1" y1="696.3" x2="224.1" y2="705.9" stroke="#8c8c8c" stroke-width="1.3"/>
<line x1="222.8" y1="696.3" x2="225.4" y2="696.3" stroke="#3c3c3c" stroke-width="1.4"/>
<line x1="222.8" y1="705.9" x2="225.4" y2="705.9" stroke="#3c3c3c" stroke-width="1.4"/>
<line x1="262.6" y1="701.0" x2="262.6" y2="720.4" stroke="#8c8c8c" stroke-width="1.3"/>
<line x1="261.3" y1="701.0" x2="263.9" y2="701.0" stroke="#3c3c3c" stroke-width="1.4"/>
<line x1="261.3" y1="720.4" x2="263.9" y2="720.4" stroke="#3c3c3c" stroke-width="1.4"/>
<line x1="108.4" y1="642.3" x2="108.4" y2="662.3" stroke="#8c8c8c" stroke-width="1.3"/>
<line x1="107.1" y1="642.3" x2="109.7" y2="642.3" stroke="#3c3c3c" stroke-width="1.4"/>
<line x1="107.1" y1="662.3" x2="109.7" y2="662.3" stroke="#3c3c3c" stroke-width="1.4"/>
<line x1="108.4" y1="646.3" x2="108.4" y2="659.8" stroke="#8c8c8c" stroke-width="1.3"/>
<line x1="107.1" y1="646.3" x2="109.7" y2="646.3" stroke="#3c3c3c" stroke-width="1.4"/>
<line x1="107.1" y1="659.8" x2="109.7" y2="659.8" stroke="#3c3c3c" stroke-width="1.4"/>
<circle cx="147.0" cy="650.6" r="2.6" fill="#d83caa"/>
<circle cx="185.5" cy="610.9" r="2.6" fill="#d83caa"/>
<circle cx="224.1" cy="614.1" r="2.6" fill="#d83caa"/>
<circle cx="262.6" cy="582.4" r="2.6" fill="#d83caa"/>
<circle cx="301.2" cy="572.0" r="2.6" fill="#d83caa"/>
<circle cx="147.0" cy="654.3" r="2.6" fill="#d83caa"/>
<circle cx="185.5" cy="615.9" r="2.6" fill="#d83caa"/>
<circle cx="224.1" cy="618.3" r="2.6" fill="#d83caa"/>
<circle cx="262.6" cy="589.8" r="2.6" fill="#d83caa"/>
<circle cx="301.2" cy="589.8" r="2.6" fill="#d83caa"/>
<circle cx="147.0" cy="632.0" r="2.6" fill="#d83caa"/>
<circle cx="185.5" cy="628.3" r="2.6" fill="#d83caa"/>
<circle cx="224.1" cy="589.1" r="2.6" fill="#d83caa"/>
<circle cx="262.6" cy="586.1" r="2.6" fill="#d83caa"/>
<circle cx="301.2" cy="603.5" r="2.6" fill="#d83caa"/>
<circle cx="147.0" cy="635.7" r="2.6" fill="#d83caa"/>
<circle cx="185.5" cy="632.0" r="2.6" fill="#d83caa"/>
<circle cx="224.1" cy="592.8" r="2.6" fill="#d83caa"/>
<circle cx="262.6" cy="602.2" r="2.6" fill="#d83caa"/>
<circle cx="301.2" cy="615.4" r="2.6" fill="#d83caa"/>
<circle cx="147.0" cy="632.0" r="2.6" fill="#d83caa"/>
<circle cx="185.5" cy="610.9" r="2.6" fill="#d83caa"/>
<circle cx="224.1" cy="596.0" r="2.6" fill="#d83caa"/>
<circle cx="262.6" cy="610.9" r="2.6" fill="#d83caa"/>
<circle cx="301.2" cy="593.5" r="2.6" fill="#d83caa"/>
<circle cx="147.0" cy="635.7" r="2.6" fill="#d83caa"/>
<circle cx="185.5" cy="615.9" r="2.6" fill="#d83caa"/>
<circle cx="224.1" cy="623.8" r="2.6" fill="#d83caa"/>
<circle cx="262.6" cy="582.4" r="2.6" fill="#d83caa"/>
<circle cx="301.2" cy="610.2" r="2.6" fill="#d83caa"/>
<circle cx="147.0" cy="650.6" r="2.6" fill="#d83caa"/>
<circle cx="185.5" cy="649.4" r="2.6" fill="#d83caa"/>
<circle cx="224.1" cy="670.6" r="2.6" fill="#d83caa"/>
<circle cx="262.6" cy="669.0" r="2.6" fill="#d83caa"/>
<circle cx="301.2" cy="648.1" r="2.6" fill="#d83caa"/>
<circle cx="147.0" cy="654.3" r="2.6" fill="#d83caa"/>
<circle cx="185.5" cy="628.3" r="2.6" fill="#d83caa"/>
<circle cx="224.1" cy="602.7" r="2.6" fill="#d83caa"/>
<circle cx="262.6" cy="589.8" r="2.6" fill="#d83caa"/>
<circle cx="301.2" cy="584.4" r="2.6" fill="#d83caa"/>
<circle cx="108.4" cy="652.3" r="2.6" fill="#067506"/>
<circle cx="147.0" cy="646.5" r="2.6" fill="#067506"/>
<circle cx="185.5" cy="677.0" r="2.6" fill="#067506"/>
<circle cx="224.1" cy="673.8" r="2.6" fill="#067506"/>
<circle cx="262.6" cy="707.5" r="2.6" fill="#067506"/>
<circle cx="301.2" cy="713.9" r="2.6" fill="#067506"/>
<circle cx="108.4" cy="652.3" r="2.6" fill="#067506"/>
<circle cx="147.0" cy="661.0" r="2.6" fill="#067506"/>
<circle cx="185.5" cy="684.4" r="2.6" fill="#067506"/>
<circle cx="224.1" cy="701.1" r="2.6" fill="#067506"/>
<circle cx="262.6" cy="710.1" r="2.6" fill="#067506"/>
<circle cx="301.2" cy="720.4" r="2.6" fill="#067506"/>
<circle cx="108.4" cy="652.3" r="2.6" fill="#067506"/>
<circle cx="147.0" cy="668.3" r="2.6" fill="#067506"/>
<circle cx="185.5" cy="691.5" r="2.6" fill="#067506"/>
<circle cx="224.1" cy="702.7" r="2.6" fill="#067506"/>
<circle cx="262.6" cy="718.1" r="2.6" fill="#067506"/>
<circle cx="301.2" cy="723.6" r="2.6" fill="#067506"/>
<circle cx="108.4" cy="652.3" r="2.6" fill="#067506"/>
<circle cx="147.0" cy="689.8" r="2.6" fill="#067506"/>
<circle cx="185.5" cy="695.6" r="2.6" fill="#067506"/>
<circle cx="224.1" cy="704.3" r="2.6" fill="#067506"/>
<circle cx="262.6" cy="707.5" r="2.6" fill="#067506"/>
<circle cx="301.2" cy="725.2" r="2.6" fill="#067506"/>
<circle cx="108.4" cy="652.3" r="2.6" fill="#067506"/>
<circle cx="147.0" cy="718.6" r="2.6" fill="#067506"/>
<circle cx="185.5" cy="725.3" r="2.6" fill="#067506"/>
<circle cx="224.1" cy="741.7" r="2.6" fill="#067506"/>
<circle cx="262.6" cy="748.4" r="2.6" fill="#067506"/>
<circle cx="301.2" cy="750.9" r="2.6" fill="#067506"/>
<circle cx="108.4" cy="652.3" r="2.6" fill="#067506"/>
<circle cx="147.0" cy="711.9" r="2.6" fill="#067506"/>
<circle cx="185.5" cy="737.2" r="2.6" fill="#067506"/>
<circle cx="224.1" cy="752.6" r="2.6" fill="#067506"/>
<circle cx="262.6" cy="739.7" r="2.6" fill="#067506"/>
<circle cx="301.2" cy="755.1" r="2.6" fill="#067506"/>
<circle cx="108.4" cy="652.3" r="2.6" fill="#067506"/>
<circle cx="147.0" cy="734.2" r="2.6" fill="#067506"/>
<circle cx="185.5" cy="740.2" r="2.6" fill="#067506"/>
<circle cx="224.1" cy="755.1" r="2.6" fill="#067506"/>
<circle cx="262.6" cy="752.6" r="2.6" fill="#067506"/>
<circle cx="301.2" cy="755.1" r="2.6" fill="#067506"/>
<circle cx="108.4" cy="652.3" r="2.6" fill="#067506"/>
<circle cx="147.0" cy="735.5" r="2.6" fill="#067506"/>
<circle cx="185.5" cy="745.4" r="2.6" fill="#067506"/>
<circle cx="224.1" cy="756.6" r="2.6" fill="#067506"/>
<circle cx="262.6" cy="748.4" r="2.6" fill="#067506"/>
<circle cx="301.2" cy="750.9" r="2.6" fill="#067506"/>
<rect x="70.2" y="563.0" width="269.9" height="201.9" fill="none" stroke="#909090" stroke-width="1.7" stroke-linejoin="round"/>
<line x1="70.2" y1="764.9" x2="73.0" y2="764.9" stroke="#909090" stroke-width="1.2"/>
<text x="63.9" y="769.6" text-anchor="end" class="t">0</text>
<line x1="70.2" y1="720.0" x2="73.0" y2="720.0" stroke="#909090" stroke-width="1.2"/>
<text x="63.9" y="724.7" text-anchor="end" class="t">40</text>
<line x1="70.2" y1="675.2" x2="73.0" y2="675.2" stroke="#909090" stroke-width="1.2"/>
<text x="63.9" y="679.9" text-anchor="end" class="t">80</text>
<line x1="70.2" y1="630.3" x2="73.0" y2="630.3" stroke="#909090" stroke-width="1.2"/>
<text x="63.9" y="635.0" text-anchor="end" class="t">120</text>
<line x1="70.2" y1="585.4" x2="73.0" y2="585.4" stroke="#909090" stroke-width="1.2"/>
<text x="63.9" y="590.1" text-anchor="end" class="t">160</text>
<line x1="108.4" y1="764.9" x2="108.4" y2="762.1" stroke="#909090" stroke-width="1.2"/>
<text x="108.4" y="781.2" text-anchor="middle" class="t">0</text>
<line x1="147.0" y1="764.9" x2="147.0" y2="762.1" stroke="#909090" stroke-width="1.2"/>
<text x="147.6" y="781.2" text-anchor="middle" class="t">1:640</text>
<line x1="185.5" y1="764.9" x2="185.5" y2="762.1" stroke="#909090" stroke-width="1.2"/>
<text x="186.1" y="781.2" text-anchor="middle" class="t">1:320</text>
<line x1="224.1" y1="764.9" x2="224.1" y2="762.1" stroke="#909090" stroke-width="1.2"/>
<text x="224.7" y="781.2" text-anchor="middle" class="t">1:160</text>
<line x1="262.6" y1="764.9" x2="262.6" y2="762.1" stroke="#909090" stroke-width="1.2"/>
<text x="263.2" y="781.2" text-anchor="middle" class="t">1:80</text>
<line x1="301.2" y1="764.9" x2="301.2" y2="762.1" stroke="#909090" stroke-width="1.2"/>
<text x="301.8" y="781.2" text-anchor="middle" class="t">1:40</text>
<text x="205.2" y="799.4" text-anchor="middle" class="t">[Serum] (dilution)</text>
<text transform="translate(29.9,664.0) rotate(-90)" x="0" y="0" text-anchor="middle" class="t">Viral infection (%)</text>
<text x="77.7" y="582.0" class="h">HIV-1<tspan class="s" dy="4.2">JR-FL</tspan></text>
<line x1="309.2" y1="567.7" x2="309.2" y2="649.6" stroke="#3a3a3a" stroke-width="2"/>
<line x1="309.2" y1="710.3" x2="309.2" y2="758.5" stroke="#3a3a3a" stroke-width="2"/>
<text transform="translate(326.8,683.3) rotate(-90)" text-anchor="middle" class="pv"><tspan font-style="italic">P</tspan> = 0.0003</text>
<polyline points="452.4,657.3 491.0,630.2 529.5,639.3 568.1,620.1 606.6,597.3 645.2,638.8" fill="none" stroke="#78a883" stroke-width="1.25" stroke-opacity="0.85"/>
<polyline points="452.4,657.3 491.0,634.8 529.5,679.5 568.1,638.4 606.6,622.9 645.2,691.3" fill="none" stroke="#78a883" stroke-width="1.25" stroke-opacity="0.85"/>
<polyline points="452.4,657.3 491.0,649.3 529.5,642.0 568.1,644.8 606.6,643.9 645.2,680.4" fill="none" stroke="#78a883" stroke-width="1.25" stroke-opacity="0.85"/>
<polyline points="452.4,657.3 491.0,656.5 529.5,653.9 568.1,653.0 606.6,655.7 645.2,684.0" fill="none" stroke="#78a883" stroke-width="1.25" stroke-opacity="0.85"/>
<polyline points="452.4,657.3 491.0,661.8 529.5,662.5 568.1,666.7 606.6,660.3 645.2,687.5" fill="none" stroke="#78a883" stroke-width="1.25" stroke-opacity="0.85"/>
<polyline points="452.4,657.3 491.0,672.9 529.5,693.5 568.1,673.1 606.6,681.0 645.2,697.7" fill="none" stroke="#78a883" stroke-width="1.25" stroke-opacity="0.85"/>
<polyline points="452.4,657.3 491.0,659.0 529.5,662.5 568.1,673.1 606.6,683.1 645.2,670.3" fill="none" stroke="#78a883" stroke-width="1.25" stroke-opacity="0.85"/>
<polyline points="452.4,657.3 491.0,623.7 529.5,584.0 568.1,656.6 606.6,611.4 645.2,650.3" fill="none" stroke="#cc98c2" stroke-width="1.25" stroke-opacity="0.85"/>
<polyline points="452.4,657.3 491.0,640.0 529.5,599.2 568.1,660.3 606.6,632.9 645.2,659.4" fill="none" stroke="#cc98c2" stroke-width="1.25" stroke-opacity="0.85"/>
<polyline points="452.4,657.3 491.0,643.4 529.5,646.6 568.1,644.8 606.6,638.4 645.2,650.3" fill="none" stroke="#cc98c2" stroke-width="1.25" stroke-opacity="0.85"/>
<polyline points="452.4,657.3 491.0,670.3 529.5,672.7 568.1,660.3 606.6,647.5 645.2,676.7" fill="none" stroke="#cc98c2" stroke-width="1.25" stroke-opacity="0.85"/>
<polyline points="452.4,657.3 491.0,676.9 529.5,631.1 568.1,653.0 606.6,666.7 645.2,711.4" fill="none" stroke="#cc98c2" stroke-width="1.25" stroke-opacity="0.85"/>
<polyline points="452.4,657.3 491.0,670.3 529.5,631.1 568.1,656.6 606.6,676.7 645.2,676.7" fill="none" stroke="#cc98c2" stroke-width="1.25" stroke-opacity="0.85"/>
<line x1="491.0" y1="625.2" x2="491.0" y2="635.2" stroke="#8c8c8c" stroke-width="1.3"/>
<line x1="489.7" y1="625.2" x2="492.3" y2="625.2" stroke="#3c3c3c" stroke-width="1.4"/>
<line x1="489.7" y1="635.2" x2="492.3" y2="635.2" stroke="#3c3c3c" stroke-width="1.4"/>
<line x1="529.5" y1="635.3" x2="529.5" y2="643.3" stroke="#8c8c8c" stroke-width="1.3"/>
<line x1="528.2" y1="635.3" x2="530.8" y2="635.3" stroke="#3c3c3c" stroke-width="1.4"/>
<line x1="528.2" y1="643.3" x2="530.8" y2="643.3" stroke="#3c3c3c" stroke-width="1.4"/>
<line x1="568.1" y1="608.1" x2="568.1" y2="632.1" stroke="#8c8c8c" stroke-width="1.3"/>
<line x1="566.8" y1="608.1" x2="569.4" y2="608.1" stroke="#3c3c3c" stroke-width="1.4"/>
<line x1="566.8" y1="632.1" x2="569.4" y2="632.1" stroke="#3c3c3c" stroke-width="1.4"/>
<line x1="606.6" y1="585.3" x2="606.6" y2="609.3" stroke="#8c8c8c" stroke-width="1.3"/>
<line x1="605.3" y1="585.3" x2="607.9" y2="585.3" stroke="#3c3c3c" stroke-width="1.4"/>
<line x1="605.3" y1="609.3" x2="607.9" y2="609.3" stroke="#3c3c3c" stroke-width="1.4"/>
<line x1="645.2" y1="626.8" x2="645.2" y2="650.8" stroke="#8c8c8c" stroke-width="1.3"/>
<line x1="643.9" y1="626.8" x2="646.5" y2="626.8" stroke="#3c3c3c" stroke-width="1.4"/>
<line x1="643.9" y1="650.8" x2="646.5" y2="650.8" stroke="#3c3c3c" stroke-width="1.4"/>
<line x1="491.0" y1="629.8" x2="491.0" y2="639.8" stroke="#8c8c8c" stroke-width="1.3"/>
<line x1="489.7" y1="629.8" x2="492.3" y2="629.8" stroke="#3c3c3c" stroke-width="1.4"/>
<line x1="489.7" y1="639.8" x2="492.3" y2="639.8" stroke="#3c3c3c" stroke-width="1.4"/>
<line x1="529.5" y1="674.5" x2="529.5" y2="684.5" stroke="#8c8c8c" stroke-width="1.3"/>
<line x1="528.2" y1="674.5" x2="530.8" y2="674.5" stroke="#3c3c3c" stroke-width="1.4"/>
<line x1="528.2" y1="684.5" x2="530.8" y2="684.5" stroke="#3c3c3c" stroke-width="1.4"/>
<line x1="568.1" y1="631.4" x2="568.1" y2="645.4" stroke="#8c8c8c" stroke-width="1.3"/>
<line x1="566.8" y1="631.4" x2="569.4" y2="631.4" stroke="#3c3c3c" stroke-width="1.4"/>
<line x1="566.8" y1="645.4" x2="569.4" y2="645.4" stroke="#3c3c3c" stroke-width="1.4"/>
<line x1="606.6" y1="616.9" x2="606.6" y2="628.9" stroke="#8c8c8c" stroke-width="1.3"/>
<line x1="605.3" y1="616.9" x2="607.9" y2="616.9" stroke="#3c3c3c" stroke-width="1.4"/>
<line x1="605.3" y1="628.9" x2="607.9" y2="628.9" stroke="#3c3c3c" stroke-width="1.4"/>
<line x1="645.2" y1="686.3" x2="645.2" y2="696.3" stroke="#8c8c8c" stroke-width="1.3"/>
<line x1="643.9" y1="686.3" x2="646.5" y2="686.3" stroke="#3c3c3c" stroke-width="1.4"/>
<line x1="643.9" y1="696.3" x2="646.5" y2="696.3" stroke="#3c3c3c" stroke-width="1.4"/>
<line x1="491.0" y1="641.3" x2="491.0" y2="657.3" stroke="#8c8c8c" stroke-width="1.3"/>
<line x1="489.7" y1="641.3" x2="492.3" y2="641.3" stroke="#3c3c3c" stroke-width="1.4"/>
<line x1="489.7" y1="657.3" x2="492.3" y2="657.3" stroke="#3c3c3c" stroke-width="1.4"/>
<line x1="529.5" y1="636.0" x2="529.5" y2="648.0" stroke="#8c8c8c" stroke-width="1.3"/>
<line x1="528.2" y1="636.0" x2="530.8" y2="636.0" stroke="#3c3c3c" stroke-width="1.4"/>
<line x1="528.2" y1="648.0" x2="530.8" y2="648.0" stroke="#3c3c3c" stroke-width="1.4"/>
<line x1="568.1" y1="637.8" x2="568.1" y2="651.8" stroke="#8c8c8c" stroke-width="1.3"/>
<line x1="566.8" y1="637.8" x2="569.4" y2="637.8" stroke="#3c3c3c" stroke-width="1.4"/>
<line x1="566.8" y1="651.8" x2="569.4" y2="651.8" stroke="#3c3c3c" stroke-width="1.4"/>
<line x1="606.6" y1="633.9" x2="606.6" y2="653.9" stroke="#8c8c8c" stroke-width="1.3"/>
<line x1="605.3" y1="633.9" x2="607.9" y2="633.9" stroke="#3c3c3c" stroke-width="1.4"/>
<line x1="605.3" y1="653.9" x2="607.9" y2="653.9" stroke="#3c3c3c" stroke-width="1.4"/>
<line x1="645.2" y1="673.4" x2="645.2" y2="687.4" stroke="#8c8c8c" stroke-width="1.3"/>
<line x1="643.9" y1="673.4" x2="646.5" y2="673.4" stroke="#3c3c3c" stroke-width="1.4"/>
<line x1="643.9" y1="687.4" x2="646.5" y2="687.4" stroke="#3c3c3c" stroke-width="1.4"/>
<line x1="491.0" y1="650.5" x2="491.0" y2="662.5" stroke="#8c8c8c" stroke-width="1.3"/>
<line x1="489.7" y1="650.5" x2="492.3" y2="650.5" stroke="#3c3c3c" stroke-width="1.4"/>
<line x1="489.7" y1="662.5" x2="492.3" y2="662.5" stroke="#3c3c3c" stroke-width="1.4"/>
<line x1="529.5" y1="646.9" x2="529.5" y2="660.9" stroke="#8c8c8c" stroke-width="1.3"/>
<line x1="528.2" y1="646.9" x2="530.8" y2="646.9" stroke="#3c3c3c" stroke-width="1.4"/>
<line x1="528.2" y1="660.9" x2="530.8" y2="660.9" stroke="#3c3c3c" stroke-width="1.4"/>
<line x1="568.1" y1="650.0" x2="568.1" y2="656.0" stroke="#8c8c8c" stroke-width="1.3"/>
<line x1="566.8" y1="650.0" x2="569.4" y2="650.0" stroke="#3c3c3c" stroke-width="1.4"/>
<line x1="566.8" y1="656.0" x2="569.4" y2="656.0" stroke="#3c3c3c" stroke-width="1.4"/>
<line x1="606.6" y1="648.7" x2="606.6" y2="662.7" stroke="#8c8c8c" stroke-width="1.3"/>
<line x1="605.3" y1="648.7" x2="607.9" y2="648.7" stroke="#3c3c3c" stroke-width="1.4"/>
<line x1="605.3" y1="662.7" x2="607.9" y2="662.7" stroke="#3c3c3c" stroke-width="1.4"/>
<line x1="645.2" y1="672.0" x2="645.2" y2="696.0" stroke="#8c8c8c" stroke-width="1.3"/>
<line x1="643.9" y1="672.0" x2="646.5" y2="672.0" stroke="#3c3c3c" stroke-width="1.4"/>
<line x1="643.9" y1="696.0" x2="646.5" y2="696.0" stroke="#3c3c3c" stroke-width="1.4"/>
<line x1="491.0" y1="651.8" x2="491.0" y2="671.8" stroke="#8c8c8c" stroke-width="1.3"/>
<line x1="489.7" y1="651.8" x2="492.3" y2="651.8" stroke="#3c3c3c" stroke-width="1.4"/>
<line x1="489.7" y1="671.8" x2="492.3" y2="671.8" stroke="#3c3c3c" stroke-width="1.4"/>
<line x1="529.5" y1="656.5" x2="529.5" y2="668.5" stroke="#8c8c8c" stroke-width="1.3"/>
<line x1="528.2" y1="656.5" x2="530.8" y2="656.5" stroke="#3c3c3c" stroke-width="1.4"/>
<line x1="528.2" y1="668.5" x2="530.8" y2="668.5" stroke="#3c3c3c" stroke-width="1.4"/>
<line x1="568.1" y1="661.7" x2="568.1" y2="671.7" stroke="#8c8c8c" stroke-width="1.3"/>
<line x1="566.8" y1="661.7" x2="569.4" y2="661.7" stroke="#3c3c3c" stroke-width="1.4"/>
<line x1="566.8" y1="671.7" x2="569.4" y2="671.7" stroke="#3c3c3c" stroke-width="1.4"/>
<line x1="606.6" y1="652.3" x2="606.6" y2="668.3" stroke="#8c8c8c" stroke-width="1.3"/>
<line x1="605.3" y1="652.3" x2="607.9" y2="652.3" stroke="#3c3c3c" stroke-width="1.4"/>
<line x1="605.3" y1="668.3" x2="607.9" y2="668.3" stroke="#3c3c3c" stroke-width="1.4"/>
<line x1="645.2" y1="681.5" x2="645.2" y2="693.5" stroke="#8c8c8c" stroke-width="1.3"/>
<line x1="643.9" y1="681.5" x2="646.5" y2="681.5" stroke="#3c3c3c" stroke-width="1.4"/>
<line x1="643.9" y1="693.5" x2="646.5" y2="693.5" stroke="#3c3c3c" stroke-width="1.4"/>
<line x1="491.0" y1="664.9" x2="491.0" y2="680.9" stroke="#8c8c8c" stroke-width="1.3"/>
<line x1="489.7" y1="664.9" x2="492.3" y2="664.9" stroke="#3c3c3c" stroke-width="1.4"/>
<line x1="489.7" y1="680.9" x2="492.3" y2="680.9" stroke="#3c3c3c" stroke-width="1.4"/>
<line x1="529.5" y1="681.5" x2="529.5" y2="705.5" stroke="#8c8c8c" stroke-width="1.3"/>
<line x1="528.2" y1="681.5" x2="530.8" y2="681.5" stroke="#3c3c3c" stroke-width="1.4"/>
<line x1="528.2" y1="705.5" x2="530.8" y2="705.5" stroke="#3c3c3c" stroke-width="1.4"/>
<line x1="568.1" y1="668.1" x2="568.1" y2="678.1" stroke="#8c8c8c" stroke-width="1.3"/>
<line x1="566.8" y1="668.1" x2="569.4" y2="668.1" stroke="#3c3c3c" stroke-width="1.4"/>
<line x1="566.8" y1="678.1" x2="569.4" y2="678.1" stroke="#3c3c3c" stroke-width="1.4"/>
<line x1="606.6" y1="671.0" x2="606.6" y2="691.0" stroke="#8c8c8c" stroke-width="1.3"/>
<line x1="605.3" y1="671.0" x2="607.9" y2="671.0" stroke="#3c3c3c" stroke-width="1.4"/>
<line x1="605.3" y1="691.0" x2="607.9" y2="691.0" stroke="#3c3c3c" stroke-width="1.4"/>
<line x1="645.2" y1="685.7" x2="645.2" y2="709.7" stroke="#8c8c8c" stroke-width="1.3"/>
<line x1="643.9" y1="685.7" x2="646.5" y2="685.7" stroke="#3c3c3c" stroke-width="1.4"/>
<line x1="643.9" y1="709.7" x2="646.5" y2="709.7" stroke="#3c3c3c" stroke-width="1.4"/>
<line x1="491.0" y1="653.0" x2="491.0" y2="665.0" stroke="#8c8c8c" stroke-width="1.3"/>
<line x1="489.7" y1="653.0" x2="492.3" y2="653.0" stroke="#3c3c3c" stroke-width="1.4"/>
<line x1="489.7" y1="665.0" x2="492.3" y2="665.0" stroke="#3c3c3c" stroke-width="1.4"/>
<line x1="529.5" y1="650.5" x2="529.5" y2="674.5" stroke="#8c8c8c" stroke-width="1.3"/>
<line x1="528.2" y1="650.5" x2="530.8" y2="650.5" stroke="#3c3c3c" stroke-width="1.4"/>
<line x1="528.2" y1="674.5" x2="530.8" y2="674.5" stroke="#3c3c3c" stroke-width="1.4"/>
<line x1="568.1" y1="670.1" x2="568.1" y2="676.1" stroke="#8c8c8c" stroke-width="1.3"/>
<line x1="566.8" y1="670.1" x2="569.4" y2="670.1" stroke="#3c3c3c" stroke-width="1.4"/>
<line x1="566.8" y1="676.1" x2="569.4" y2="676.1" stroke="#3c3c3c" stroke-width="1.4"/>
<line x1="606.6" y1="671.1" x2="606.6" y2="695.1" stroke="#8c8c8c" stroke-width="1.3"/>
<line x1="605.3" y1="671.1" x2="607.9" y2="671.1" stroke="#3c3c3c" stroke-width="1.4"/>
<line x1="605.3" y1="695.1" x2="607.9" y2="695.1" stroke="#3c3c3c" stroke-width="1.4"/>
<line x1="645.2" y1="666.3" x2="645.2" y2="674.3" stroke="#8c8c8c" stroke-width="1.3"/>
<line x1="643.9" y1="666.3" x2="646.5" y2="666.3" stroke="#3c3c3c" stroke-width="1.4"/>
<line x1="643.9" y1="674.3" x2="646.5" y2="674.3" stroke="#3c3c3c" stroke-width="1.4"/>
<line x1="491.0" y1="613.7" x2="491.0" y2="633.7" stroke="#8c8c8c" stroke-width="1.3"/>
<line x1="489.7" y1="613.7" x2="492.3" y2="613.7" stroke="#3c3c3c" stroke-width="1.4"/>
<line x1="489.7" y1="633.7" x2="492.3" y2="633.7" stroke="#3c3c3c" stroke-width="1.4"/>
<line x1="529.5" y1="581.0" x2="529.5" y2="587.0" stroke="#8c8c8c" stroke-width="1.3"/>
<line x1="528.2" y1="581.0" x2="530.8" y2="581.0" stroke="#3c3c3c" stroke-width="1.4"/>
<line x1="528.2" y1="587.0" x2="530.8" y2="587.0" stroke="#3c3c3c" stroke-width="1.4"/>
<line x1="568.1" y1="644.6" x2="568.1" y2="668.6" stroke="#8c8c8c" stroke-width="1.3"/>
<line x1="566.8" y1="644.6" x2="569.4" y2="644.6" stroke="#3c3c3c" stroke-width="1.4"/>
<line x1="566.8" y1="668.6" x2="569.4" y2="668.6" stroke="#3c3c3c" stroke-width="1.4"/>
<line x1="606.6" y1="605.4" x2="606.6" y2="617.4" stroke="#8c8c8c" stroke-width="1.3"/>
<line x1="605.3" y1="605.4" x2="607.9" y2="605.4" stroke="#3c3c3c" stroke-width="1.4"/>
<line x1="605.3" y1="617.4" x2="607.9" y2="617.4" stroke="#3c3c3c" stroke-width="1.4"/>
<line x1="645.2" y1="644.3" x2="645.2" y2="656.3" stroke="#8c8c8c" stroke-width="1.3"/>
<line x1="643.9" y1="644.3" x2="646.5" y2="644.3" stroke="#3c3c3c" stroke-width="1.4"/>
<line x1="643.9" y1="656.3" x2="646.5" y2="656.3" stroke="#3c3c3c" stroke-width="1.4"/>
<line x1="491.0" y1="636.0" x2="491.0" y2="644.0" stroke="#8c8c8c" stroke-width="1.3"/>
<line x1="489.7" y1="636.0" x2="492.3" y2="636.0" stroke="#3c3c3c" stroke-width="1.4"/>
<line x1="489.7" y1="644.0" x2="492.3" y2="644.0" stroke="#3c3c3c" stroke-width="1.4"/>
<line x1="529.5" y1="593.2" x2="529.5" y2="605.2" stroke="#8c8c8c" stroke-width="1.3"/>
<line x1="528.2" y1="593.2" x2="530.8" y2="593.2" stroke="#3c3c3c" stroke-width="1.4"/>
<line x1="528.2" y1="605.2" x2="530.8" y2="605.2" stroke="#3c3c3c" stroke-width="1.4"/>
<line x1="568.1" y1="653.3" x2="568.1" y2="667.3" stroke="#8c8c8c" stroke-width="1.3"/>
<line x1="566.8" y1="653.3" x2="569.4" y2="653.3" stroke="#3c3c3c" stroke-width="1.4"/>
<line x1="566.8" y1="667.3" x2="569.4" y2="667.3" stroke="#3c3c3c" stroke-width="1.4"/>
<line x1="606.6" y1="626.9" x2="606.6" y2="638.9" stroke="#8c8c8c" stroke-width="1.3"/>
<line x1="605.3" y1="626.9" x2="607.9" y2="626.9" stroke="#3c3c3c" stroke-width="1.4"/>
<line x1="605.3" y1="638.9" x2="607.9" y2="638.9" stroke="#3c3c3c" stroke-width="1.4"/>
<line x1="645.2" y1="653.4" x2="645.2" y2="665.4" stroke="#8c8c8c" stroke-width="1.3"/>
<line x1="643.9" y1="653.4" x2="646.5" y2="653.4" stroke="#3c3c3c" stroke-width="1.4"/>
<line x1="643.9" y1="665.4" x2="646.5" y2="665.4" stroke="#3c3c3c" stroke-width="1.4"/>
<line x1="491.0" y1="636.4" x2="491.0" y2="650.4" stroke="#8c8c8c" stroke-width="1.3"/>
<line x1="489.7" y1="636.4" x2="492.3" y2="636.4" stroke="#3c3c3c" stroke-width="1.4"/>
<line x1="489.7" y1="650.4" x2="492.3" y2="650.4" stroke="#3c3c3c" stroke-width="1.4"/>
<line x1="529.5" y1="641.6" x2="529.5" y2="651.6" stroke="#8c8c8c" stroke-width="1.3"/>
<line x1="528.2" y1="641.6" x2="530.8" y2="641.6" stroke="#3c3c3c" stroke-width="1.4"/>
<line x1="528.2" y1="651.6" x2="530.8" y2="651.6" stroke="#3c3c3c" stroke-width="1.4"/>
<line x1="568.1" y1="639.8" x2="568.1" y2="649.8" stroke="#8c8c8c" stroke-width="1.3"/>
<line x1="566.8" y1="639.8" x2="569.4" y2="639.8" stroke="#3c3c3c" stroke-width="1.4"/>
<line x1="566.8" y1="649.8" x2="569.4" y2="649.8" stroke="#3c3c3c" stroke-width="1.4"/>
<line x1="606.6" y1="635.4" x2="606.6" y2="641.4" stroke="#8c8c8c" stroke-width="1.3"/>
<line x1="605.3" y1="635.4" x2="607.9" y2="635.4" stroke="#3c3c3c" stroke-width="1.4"/>
<line x1="605.3" y1="641.4" x2="607.9" y2="641.4" stroke="#3c3c3c" stroke-width="1.4"/>
<line x1="645.2" y1="643.3" x2="645.2" y2="657.3" stroke="#8c8c8c" stroke-width="1.3"/>
<line x1="643.9" y1="643.3" x2="646.5" y2="643.3" stroke="#3c3c3c" stroke-width="1.4"/>
<line x1="643.9" y1="657.3" x2="646.5" y2="657.3" stroke="#3c3c3c" stroke-width="1.4"/>
<line x1="491.0" y1="665.3" x2="491.0" y2="675.3" stroke="#8c8c8c" stroke-width="1.3"/>
<line x1="489.7" y1="665.3" x2="492.3" y2="665.3" stroke="#3c3c3c" stroke-width="1.4"/>
<line x1="489.7" y1="675.3" x2="492.3" y2="675.3" stroke="#3c3c3c" stroke-width="1.4"/>
<line x1="529.5" y1="669.7" x2="529.5" y2="675.7" stroke="#8c8c8c" stroke-width="1.3"/>
<line x1="528.2" y1="669.7" x2="530.8" y2="669.7" stroke="#3c3c3c" stroke-width="1.4"/>
<line x1="528.2" y1="675.7" x2="530.8" y2="675.7" stroke="#3c3c3c" stroke-width="1.4"/>
<line x1="568.1" y1="652.3" x2="568.1" y2="668.3" stroke="#8c8c8c" stroke-width="1.3"/>
<line x1="566.8" y1="652.3" x2="569.4" y2="652.3" stroke="#3c3c3c" stroke-width="1.4"/>
<line x1="566.8" y1="668.3" x2="569.4" y2="668.3" stroke="#3c3c3c" stroke-width="1.4"/>
<line x1="606.6" y1="642.5" x2="606.6" y2="652.5" stroke="#8c8c8c" stroke-width="1.3"/>
<line x1="605.3" y1="642.5" x2="607.9" y2="642.5" stroke="#3c3c3c" stroke-width="1.4"/>
<line x1="605.3" y1="652.5" x2="607.9" y2="652.5" stroke="#3c3c3c" stroke-width="1.4"/>
<line x1="645.2" y1="666.7" x2="645.2" y2="686.7" stroke="#8c8c8c" stroke-width="1.3"/>
<line x1="643.9" y1="666.7" x2="646.5" y2="666.7" stroke="#3c3c3c" stroke-width="1.4"/>
<line x1="643.9" y1="686.7" x2="646.5" y2="686.7" stroke="#3c3c3c" stroke-width="1.4"/>
<line x1="491.0" y1="672.9" x2="491.0" y2="680.9" stroke="#8c8c8c" stroke-width="1.3"/>
<line x1="489.7" y1="672.9" x2="492.3" y2="672.9" stroke="#3c3c3c" stroke-width="1.4"/>
<line x1="489.7" y1="680.9" x2="492.3" y2="680.9" stroke="#3c3c3c" stroke-width="1.4"/>
<line x1="529.5" y1="627.1" x2="529.5" y2="635.1" stroke="#8c8c8c" stroke-width="1.3"/>
<line x1="528.2" y1="627.1" x2="530.8" y2="627.1" stroke="#3c3c3c" stroke-width="1.4"/>
<line x1="528.2" y1="635.1" x2="530.8" y2="635.1" stroke="#3c3c3c" stroke-width="1.4"/>
<line x1="568.1" y1="649.0" x2="568.1" y2="657.0" stroke="#8c8c8c" stroke-width="1.3"/>
<line x1="566.8" y1="649.0" x2="569.4" y2="649.0" stroke="#3c3c3c" stroke-width="1.4"/>
<line x1="566.8" y1="657.0" x2="569.4" y2="657.0" stroke="#3c3c3c" stroke-width="1.4"/>
<line x1="606.6" y1="662.7" x2="606.6" y2="670.7" stroke="#8c8c8c" stroke-width="1.3"/>
<line x1="605.3" y1="662.7" x2="607.9" y2="662.7" stroke="#3c3c3c" stroke-width="1.4"/>
<line x1="605.3" y1="670.7" x2="607.9" y2="670.7" stroke="#3c3c3c" stroke-width="1.4"/>
<line x1="645.2" y1="704.4" x2="645.2" y2="718.4" stroke="#8c8c8c" stroke-width="1.3"/>
<line x1="643.9" y1="704.4" x2="646.5" y2="704.4" stroke="#3c3c3c" stroke-width="1.4"/>
<line x1="643.9" y1="718.4" x2="646.5" y2="718.4" stroke="#3c3c3c" stroke-width="1.4"/>
<line x1="491.0" y1="663.3" x2="491.0" y2="677.3" stroke="#8c8c8c" stroke-width="1.3"/>
<line x1="489.7" y1="663.3" x2="492.3" y2="663.3" stroke="#3c3c3c" stroke-width="1.4"/>
<line x1="489.7" y1="677.3" x2="492.3" y2="677.3" stroke="#3c3c3c" stroke-width="1.4"/>
<line x1="529.5" y1="628.1" x2="529.5" y2="634.1" stroke="#8c8c8c" stroke-width="1.3"/>
<line x1="528.2" y1="628.1" x2="530.8" y2="628.1" stroke="#3c3c3c" stroke-width="1.4"/>
<line x1="528.2" y1="634.1" x2="530.8" y2="634.1" stroke="#3c3c3c" stroke-width="1.4"/>
<line x1="568.1" y1="648.6" x2="568.1" y2="664.6" stroke="#8c8c8c" stroke-width="1.3"/>
<line x1="566.8" y1="648.6" x2="569.4" y2="648.6" stroke="#3c3c3c" stroke-width="1.4"/>
<line x1="566.8" y1="664.6" x2="569.4" y2="664.6" stroke="#3c3c3c" stroke-width="1.4"/>
<line x1="606.6" y1="664.7" x2="606.6" y2="688.7" stroke="#8c8c8c" stroke-width="1.3"/>
<line x1="605.3" y1="664.7" x2="607.9" y2="664.7" stroke="#3c3c3c" stroke-width="1.4"/>
<line x1="605.3" y1="688.7" x2="607.9" y2="688.7" stroke="#3c3c3c" stroke-width="1.4"/>
<line x1="645.2" y1="668.7" x2="645.2" y2="684.7" stroke="#8c8c8c" stroke-width="1.3"/>
<line x1="643.9" y1="668.7" x2="646.5" y2="668.7" stroke="#3c3c3c" stroke-width="1.4"/>
<line x1="643.9" y1="684.7" x2="646.5" y2="684.7" stroke="#3c3c3c" stroke-width="1.4"/>
<line x1="491.0" y1="611.7" x2="491.0" y2="680.8" stroke="#8c8c8c" stroke-width="1.3"/>
<line x1="489.7" y1="611.7" x2="492.3" y2="611.7" stroke="#3c3c3c" stroke-width="1.4"/>
<line x1="489.7" y1="680.8" x2="492.3" y2="680.8" stroke="#3c3c3c" stroke-width="1.4"/>
<line x1="529.5" y1="573.9" x2="529.5" y2="701.7" stroke="#8c8c8c" stroke-width="1.3"/>
<line x1="528.2" y1="573.9" x2="530.8" y2="573.9" stroke="#3c3c3c" stroke-width="1.4"/>
<line x1="528.2" y1="701.7" x2="530.8" y2="701.7" stroke="#3c3c3c" stroke-width="1.4"/>
<line x1="568.1" y1="615.0" x2="568.1" y2="682.4" stroke="#8c8c8c" stroke-width="1.3"/>
<line x1="566.8" y1="615.0" x2="569.4" y2="615.0" stroke="#3c3c3c" stroke-width="1.4"/>
<line x1="566.8" y1="682.4" x2="569.4" y2="682.4" stroke="#3c3c3c" stroke-width="1.4"/>
<line x1="606.6" y1="594.0" x2="606.6" y2="687.2" stroke="#8c8c8c" stroke-width="1.3"/>
<line x1="605.3" y1="594.0" x2="607.9" y2="594.0" stroke="#3c3c3c" stroke-width="1.4"/>
<line x1="605.3" y1="687.2" x2="607.9" y2="687.2" stroke="#3c3c3c" stroke-width="1.4"/>
<line x1="645.2" y1="640.0" x2="645.2" y2="714.5" stroke="#8c8c8c" stroke-width="1.3"/>
<line x1="643.9" y1="640.0" x2="646.5" y2="640.0" stroke="#3c3c3c" stroke-width="1.4"/>
<line x1="643.9" y1="714.5" x2="646.5" y2="714.5" stroke="#3c3c3c" stroke-width="1.4"/>
<line x1="452.4" y1="649.8" x2="452.4" y2="664.8" stroke="#8c8c8c" stroke-width="1.3"/>
<line x1="451.1" y1="649.8" x2="453.7" y2="649.8" stroke="#3c3c3c" stroke-width="1.4"/>
<line x1="451.1" y1="664.8" x2="453.7" y2="664.8" stroke="#3c3c3c" stroke-width="1.4"/>
<line x1="452.4" y1="652.8" x2="452.4" y2="662.9" stroke="#8c8c8c" stroke-width="1.3"/>
<line x1="451.1" y1="652.8" x2="453.7" y2="652.8" stroke="#3c3c3c" stroke-width="1.4"/>
<line x1="451.1" y1="662.9" x2="453.7" y2="662.9" stroke="#3c3c3c" stroke-width="1.4"/>
<circle cx="491.0" cy="623.7" r="2.6" fill="#d83caa"/>
<circle cx="529.5" cy="584.0" r="2.6" fill="#d83caa"/>
<circle cx="568.1" cy="656.6" r="2.6" fill="#d83caa"/>
<circle cx="606.6" cy="611.4" r="2.6" fill="#d83caa"/>
<circle cx="645.2" cy="650.3" r="2.6" fill="#d83caa"/>
<circle cx="491.0" cy="640.0" r="2.6" fill="#d83caa"/>
<circle cx="529.5" cy="599.2" r="2.6" fill="#d83caa"/>
<circle cx="568.1" cy="660.3" r="2.6" fill="#d83caa"/>
<circle cx="606.6" cy="632.9" r="2.6" fill="#d83caa"/>
<circle cx="645.2" cy="659.4" r="2.6" fill="#d83caa"/>
<circle cx="491.0" cy="643.4" r="2.6" fill="#d83caa"/>
<circle cx="529.5" cy="646.6" r="2.6" fill="#d83caa"/>
<circle cx="568.1" cy="644.8" r="2.6" fill="#d83caa"/>
<circle cx="606.6" cy="638.4" r="2.6" fill="#d83caa"/>
<circle cx="645.2" cy="650.3" r="2.6" fill="#d83caa"/>
<circle cx="491.0" cy="670.3" r="2.6" fill="#d83caa"/>
<circle cx="529.5" cy="672.7" r="2.6" fill="#d83caa"/>
<circle cx="568.1" cy="660.3" r="2.6" fill="#d83caa"/>
<circle cx="606.6" cy="647.5" r="2.6" fill="#d83caa"/>
<circle cx="645.2" cy="676.7" r="2.6" fill="#d83caa"/>
<circle cx="491.0" cy="676.9" r="2.6" fill="#d83caa"/>
<circle cx="529.5" cy="631.1" r="2.6" fill="#d83caa"/>
<circle cx="568.1" cy="653.0" r="2.6" fill="#d83caa"/>
<circle cx="606.6" cy="666.7" r="2.6" fill="#d83caa"/>
<circle cx="645.2" cy="711.4" r="2.6" fill="#d83caa"/>
<circle cx="491.0" cy="670.3" r="2.6" fill="#d83caa"/>
<circle cx="529.5" cy="631.1" r="2.6" fill="#d83caa"/>
<circle cx="568.1" cy="656.6" r="2.6" fill="#d83caa"/>
<circle cx="606.6" cy="676.7" r="2.6" fill="#d83caa"/>
<circle cx="645.2" cy="676.7" r="2.6" fill="#d83caa"/>
<circle cx="452.4" cy="657.3" r="2.6" fill="#067506"/>
<circle cx="491.0" cy="630.2" r="2.6" fill="#067506"/>
<circle cx="529.5" cy="639.3" r="2.6" fill="#067506"/>
<circle cx="568.1" cy="620.1" r="2.6" fill="#067506"/>
<circle cx="606.6" cy="597.3" r="2.6" fill="#067506"/>
<circle cx="645.2" cy="638.8" r="2.6" fill="#067506"/>
<circle cx="452.4" cy="657.3" r="2.6" fill="#067506"/>
<circle cx="491.0" cy="634.8" r="2.6" fill="#067506"/>
<circle cx="529.5" cy="679.5" r="2.6" fill="#067506"/>
<circle cx="568.1" cy="638.4" r="2.6" fill="#067506"/>
<circle cx="606.6" cy="622.9" r="2.6" fill="#067506"/>
<circle cx="645.2" cy="691.3" r="2.6" fill="#067506"/>
<circle cx="452.4" cy="657.3" r="2.6" fill="#067506"/>
<circle cx="491.0" cy="649.3" r="2.6" fill="#067506"/>
<circle cx="529.5" cy="642.0" r="2.6" fill="#067506"/>
<circle cx="568.1" cy="644.8" r="2.6" fill="#067506"/>
<circle cx="606.6" cy="643.9" r="2.6" fill="#067506"/>
<circle cx="645.2" cy="680.4" r="2.6" fill="#067506"/>
<circle cx="452.4" cy="657.3" r="2.6" fill="#067506"/>
<circle cx="491.0" cy="656.5" r="2.6" fill="#067506"/>
<circle cx="529.5" cy="653.9" r="2.6" fill="#067506"/>
<circle cx="568.1" cy="653.0" r="2.6" fill="#067506"/>
<circle cx="606.6" cy="655.7" r="2.6" fill="#067506"/>
<circle cx="645.2" cy="684.0" r="2.6" fill="#067506"/>
<circle cx="452.4" cy="657.3" r="2.6" fill="#067506"/>
<circle cx="491.0" cy="661.8" r="2.6" fill="#067506"/>
<circle cx="529.5" cy="662.5" r="2.6" fill="#067506"/>
<circle cx="568.1" cy="666.7" r="2.6" fill="#067506"/>
<circle cx="606.6" cy="660.3" r="2.6" fill="#067506"/>
<circle cx="645.2" cy="687.5" r="2.6" fill="#067506"/>
<circle cx="452.4" cy="657.3" r="2.6" fill="#067506"/>
<circle cx="491.0" cy="672.9" r="2.6" fill="#067506"/>
<circle cx="529.5" cy="693.5" r="2.6" fill="#067506"/>
<circle cx="568.1" cy="673.1" r="2.6" fill="#067506"/>
<circle cx="606.6" cy="681.0" r="2.6" fill="#067506"/>
<circle cx="645.2" cy="697.7" r="2.6" fill="#067506"/>
<circle cx="452.4" cy="657.3" r="2.6" fill="#067506"/>
<circle cx="491.0" cy="659.0" r="2.6" fill="#067506"/>
<circle cx="529.5" cy="662.5" r="2.6" fill="#067506"/>
<circle cx="568.1" cy="673.1" r="2.6" fill="#067506"/>
<circle cx="606.6" cy="683.1" r="2.6" fill="#067506"/>
<circle cx="645.2" cy="670.3" r="2.6" fill="#067506"/>
<rect x="413.8" y="563.0" width="269.6" height="201.9" fill="none" stroke="#909090" stroke-width="1.7" stroke-linejoin="round"/>
<line x1="413.8" y1="764.6" x2="416.6" y2="764.6" stroke="#909090" stroke-width="1.2"/>
<text x="407.5" y="769.3" text-anchor="end" class="t">0</text>
<line x1="413.8" y1="722.2" x2="416.6" y2="722.2" stroke="#909090" stroke-width="1.2"/>
<text x="407.5" y="726.9" text-anchor="end" class="t">40</text>
<line x1="413.8" y1="679.8" x2="416.6" y2="679.8" stroke="#909090" stroke-width="1.2"/>
<text x="407.5" y="684.5" text-anchor="end" class="t">80</text>
<line x1="413.8" y1="637.3" x2="416.6" y2="637.3" stroke="#909090" stroke-width="1.2"/>
<text x="407.5" y="642.0" text-anchor="end" class="t">120</text>
<line x1="413.8" y1="594.9" x2="416.6" y2="594.9" stroke="#909090" stroke-width="1.2"/>
<text x="407.5" y="599.6" text-anchor="end" class="t">160</text>
<line x1="452.4" y1="764.9" x2="452.4" y2="762.1" stroke="#909090" stroke-width="1.2"/>
<text x="452.4" y="781.2" text-anchor="middle" class="t">0</text>
<line x1="491.0" y1="764.9" x2="491.0" y2="762.1" stroke="#909090" stroke-width="1.2"/>
<text x="491.6" y="781.2" text-anchor="middle" class="t">1:640</text>
<line x1="529.5" y1="764.9" x2="529.5" y2="762.1" stroke="#909090" stroke-width="1.2"/>
<text x="530.1" y="781.2" text-anchor="middle" class="t">1:320</text>
<line x1="568.1" y1="764.9" x2="568.1" y2="762.1" stroke="#909090" stroke-width="1.2"/>
<text x="568.7" y="781.2" text-anchor="middle" class="t">1:160</text>
<line x1="606.6" y1="764.9" x2="606.6" y2="762.1" stroke="#909090" stroke-width="1.2"/>
<text x="607.2" y="781.2" text-anchor="middle" class="t">1:80</text>
<line x1="645.2" y1="764.9" x2="645.2" y2="762.1" stroke="#909090" stroke-width="1.2"/>
<text x="645.8" y="781.2" text-anchor="middle" class="t">1:40</text>
<text x="548.6" y="799.4" text-anchor="middle" class="t">[Serum] (dilution)</text>
<text transform="translate(373.5,664.0) rotate(-90)" x="0" y="0" text-anchor="middle" class="t">Viral infection (%)</text>
<text x="421.6" y="581.9" class="h">A-MLV</text>
<line x1="651.8" y1="635.2" x2="651.8" y2="716.7" stroke="#3a3a3a" stroke-width="2"/>
<text transform="translate(665.0,675.5) rotate(-90)" text-anchor="middle" class="ns">ns</text>
<text x="0" y="11" class="h">Group 1</text>
<text x="0" y="283.5" class="h">Group 2</text>
<text x="0" y="558.6" class="h">Group 3</text>
<rect x="268.5" y="806" width="37" height="20.7" fill="#d83caa"/>
<rect x="268.3" y="834.3" width="36.6" height="20.7" fill="#067506"/>
<text x="310.3" y="823.1" class="t">– BNM-III-170</text>
<text x="310.3" y="848.2" class="t">+ BNM-III-170</text>
</svg></body></html>
